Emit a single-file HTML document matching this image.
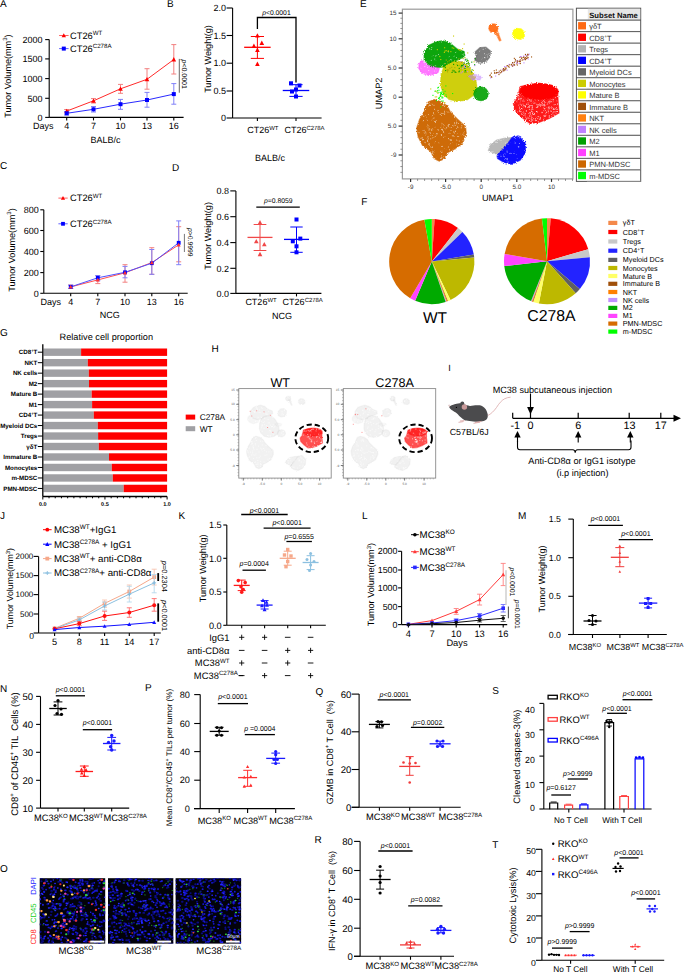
<!DOCTYPE html>
<html><head><meta charset="utf-8"><style>
html,body{margin:0;padding:0;background:#fff;}
svg{display:block;font-family:"Liberation Sans",sans-serif;}
text{white-space:pre;text-rendering:geometricPrecision;}
</style></head><body>
<svg width="685" height="973" viewBox="0 0 685 973">
<rect width="685" height="973" fill="#fff"/>
<text x="0.00" y="7.18" font-size="10">A</text>
<line x1="49.20" y1="39.60" x2="49.20" y2="117.40" stroke="#000" stroke-width="1.1" />
<line x1="45.20" y1="39.60" x2="49.20" y2="39.60" stroke="#000" stroke-width="1.1" />
<text x="42.50" y="42.82" font-size="9" text-anchor="end">2000</text>
<line x1="45.20" y1="58.90" x2="49.20" y2="58.90" stroke="#000" stroke-width="1.1" />
<text x="42.50" y="62.12" font-size="9" text-anchor="end">1500</text>
<line x1="45.20" y1="78.60" x2="49.20" y2="78.60" stroke="#000" stroke-width="1.1" />
<text x="42.50" y="81.82" font-size="9" text-anchor="end">1000</text>
<line x1="45.20" y1="98.30" x2="49.20" y2="98.30" stroke="#000" stroke-width="1.1" />
<text x="42.50" y="101.52" font-size="9" text-anchor="end">500</text>
<line x1="45.20" y1="117.40" x2="49.20" y2="117.40" stroke="#000" stroke-width="1.1" />
<text x="42.50" y="120.62" font-size="9" text-anchor="end">0</text>
<line x1="49.20" y1="117.40" x2="183.60" y2="117.40" stroke="#000" stroke-width="1.1" />
<line x1="66.70" y1="117.40" x2="66.70" y2="120.40" stroke="#000" stroke-width="1.1" />
<text x="66.70" y="129.02" font-size="9" text-anchor="middle">4</text>
<line x1="93.50" y1="117.40" x2="93.50" y2="120.40" stroke="#000" stroke-width="1.1" />
<text x="93.50" y="129.02" font-size="9" text-anchor="middle">7</text>
<line x1="120.50" y1="117.40" x2="120.50" y2="120.40" stroke="#000" stroke-width="1.1" />
<text x="120.50" y="129.02" font-size="9" text-anchor="middle">10</text>
<line x1="147.00" y1="117.40" x2="147.00" y2="120.40" stroke="#000" stroke-width="1.1" />
<text x="147.00" y="129.02" font-size="9" text-anchor="middle">13</text>
<line x1="173.80" y1="117.40" x2="173.80" y2="120.40" stroke="#000" stroke-width="1.1" />
<text x="173.80" y="129.02" font-size="9" text-anchor="middle">16</text>
<text x="43.30" y="128.82" font-size="9" text-anchor="middle">Days</text>
<text x="105.60" y="142.52" font-size="9" text-anchor="middle">BALB/c</text>
<text x="7.60" y="79.36" font-size="9.1" text-anchor="middle" transform="rotate(-90 7.60 76.10)">Tumor Volume(mm<tspan font-size="6.01" dy="-3.46">3</tspan><tspan dy="3.46">&#8203;</tspan>)</text>
<line x1="66.70" y1="109.50" x2="66.70" y2="113.00" stroke="#f28080" stroke-width="1" />
<line x1="64.20" y1="109.50" x2="69.20" y2="109.50" stroke="#f28080" stroke-width="1" />
<line x1="64.20" y1="113.00" x2="69.20" y2="113.00" stroke="#f28080" stroke-width="1" />
<line x1="93.50" y1="98.60" x2="93.50" y2="103.00" stroke="#f28080" stroke-width="1" />
<line x1="91.00" y1="98.60" x2="96.00" y2="98.60" stroke="#f28080" stroke-width="1" />
<line x1="91.00" y1="103.00" x2="96.00" y2="103.00" stroke="#f28080" stroke-width="1" />
<line x1="120.50" y1="84.40" x2="120.50" y2="93.30" stroke="#f28080" stroke-width="1" />
<line x1="118.00" y1="84.40" x2="123.00" y2="84.40" stroke="#f28080" stroke-width="1" />
<line x1="118.00" y1="93.30" x2="123.00" y2="93.30" stroke="#f28080" stroke-width="1" />
<line x1="147.00" y1="68.70" x2="147.00" y2="89.20" stroke="#f28080" stroke-width="1" />
<line x1="144.50" y1="68.70" x2="149.50" y2="68.70" stroke="#f28080" stroke-width="1" />
<line x1="144.50" y1="89.20" x2="149.50" y2="89.20" stroke="#f28080" stroke-width="1" />
<line x1="173.80" y1="44.60" x2="173.80" y2="74.00" stroke="#f28080" stroke-width="1" />
<line x1="171.30" y1="44.60" x2="176.30" y2="44.60" stroke="#f28080" stroke-width="1" />
<line x1="171.30" y1="74.00" x2="176.30" y2="74.00" stroke="#f28080" stroke-width="1" />
<line x1="66.70" y1="111.50" x2="66.70" y2="115.00" stroke="#8080f8" stroke-width="1" />
<line x1="64.20" y1="111.50" x2="69.20" y2="111.50" stroke="#8080f8" stroke-width="1" />
<line x1="64.20" y1="115.00" x2="69.20" y2="115.00" stroke="#8080f8" stroke-width="1" />
<line x1="93.50" y1="106.50" x2="93.50" y2="112.00" stroke="#8080f8" stroke-width="1" />
<line x1="91.00" y1="106.50" x2="96.00" y2="106.50" stroke="#8080f8" stroke-width="1" />
<line x1="91.00" y1="112.00" x2="96.00" y2="112.00" stroke="#8080f8" stroke-width="1" />
<line x1="120.50" y1="99.40" x2="120.50" y2="109.30" stroke="#8080f8" stroke-width="1" />
<line x1="118.00" y1="99.40" x2="123.00" y2="99.40" stroke="#8080f8" stroke-width="1" />
<line x1="118.00" y1="109.30" x2="123.00" y2="109.30" stroke="#8080f8" stroke-width="1" />
<line x1="147.00" y1="92.40" x2="147.00" y2="107.20" stroke="#8080f8" stroke-width="1" />
<line x1="144.50" y1="92.40" x2="149.50" y2="92.40" stroke="#8080f8" stroke-width="1" />
<line x1="144.50" y1="107.20" x2="149.50" y2="107.20" stroke="#8080f8" stroke-width="1" />
<line x1="173.80" y1="83.60" x2="173.80" y2="104.20" stroke="#8080f8" stroke-width="1" />
<line x1="171.30" y1="83.60" x2="176.30" y2="83.60" stroke="#8080f8" stroke-width="1" />
<line x1="171.30" y1="104.20" x2="176.30" y2="104.20" stroke="#8080f8" stroke-width="1" />
<polyline points="66.70,111.10 93.50,100.80 120.50,88.80 147.00,79.30 173.80,59.50" stroke="#ff2a2a" stroke-width="1" fill="none" />
<polyline points="66.70,113.30 93.50,109.30 120.50,104.20 147.00,100.00 173.80,94.10" stroke="#2a2aff" stroke-width="1" fill="none" />
<polygon points="66.70,108.68 69.01,113.03 64.39,113.03" fill="#ff0000"/>
<polygon points="93.50,98.38 95.81,102.73 91.19,102.73" fill="#ff0000"/>
<polygon points="120.50,86.38 122.81,90.73 118.19,90.73" fill="#ff0000"/>
<polygon points="147.00,76.88 149.31,81.23 144.69,81.23" fill="#ff0000"/>
<polygon points="173.80,57.09 176.11,61.43 171.49,61.43" fill="#ff0000"/>
<rect x="64.70" y="111.30" width="4.00" height="4.00" fill="#0000ff"/>
<rect x="91.50" y="107.30" width="4.00" height="4.00" fill="#0000ff"/>
<rect x="118.50" y="102.20" width="4.00" height="4.00" fill="#0000ff"/>
<rect x="145.00" y="98.00" width="4.00" height="4.00" fill="#0000ff"/>
<rect x="171.80" y="92.10" width="4.00" height="4.00" fill="#0000ff"/>
<line x1="179.30" y1="58.90" x2="179.30" y2="92.70" stroke="#555" stroke-width="0.9" />
<text x="184.70" y="76.71" font-size="7.0" text-anchor="middle" transform="rotate(90 184.70 74.20)"><tspan font-style="italic">p</tspan>&lt;0.0001</text>
<line x1="59.10" y1="35.50" x2="68.60" y2="35.50" stroke="#ff6060" stroke-width="1" />
<polygon points="63.80,33.20 66.00,37.34 61.60,37.34" fill="#ff0000"/>
<text x="70.00" y="38.83" font-size="9.3">CT26<tspan font-size="6.14" dy="-3.53">WT</tspan><tspan dy="3.53">&#8203;</tspan></text>
<line x1="59.10" y1="48.60" x2="68.60" y2="48.60" stroke="#6060ff" stroke-width="1" />
<rect x="61.80" y="46.60" width="4.00" height="4.00" fill="#0000ff"/>
<text x="70.00" y="51.93" font-size="9.3">CT26<tspan font-size="6.14" dy="-3.53">C278A</tspan><tspan dy="3.53">&#8203;</tspan></text>
<text x="167.00" y="7.18" font-size="10">B</text>
<line x1="232.60" y1="8.00" x2="232.60" y2="118.00" stroke="#000" stroke-width="1.1" />
<line x1="226.60" y1="8.00" x2="232.60" y2="8.00" stroke="#000" stroke-width="1.1" />
<text x="225.90" y="11.22" font-size="9" text-anchor="end">2.0</text>
<line x1="226.60" y1="35.50" x2="232.60" y2="35.50" stroke="#000" stroke-width="1.1" />
<text x="225.90" y="38.72" font-size="9" text-anchor="end">1.5</text>
<line x1="226.60" y1="63.20" x2="232.60" y2="63.20" stroke="#000" stroke-width="1.1" />
<text x="225.90" y="66.42" font-size="9" text-anchor="end">1.0</text>
<line x1="226.60" y1="91.00" x2="232.60" y2="91.00" stroke="#000" stroke-width="1.1" />
<text x="225.90" y="94.22" font-size="9" text-anchor="end">0.5</text>
<line x1="226.60" y1="118.00" x2="232.60" y2="118.00" stroke="#000" stroke-width="1.1" />
<text x="225.90" y="121.22" font-size="9" text-anchor="end">0</text>
<line x1="232.60" y1="118.00" x2="321.60" y2="118.00" stroke="#000" stroke-width="1.1" />
<line x1="257.40" y1="118.00" x2="257.40" y2="121.00" stroke="#000" stroke-width="1.1" />
<line x1="296.00" y1="118.00" x2="296.00" y2="121.00" stroke="#000" stroke-width="1.1" />
<text x="262.80" y="133.22" font-size="9" text-anchor="middle">CT26<tspan font-size="5.94" dy="-3.42">WT</tspan><tspan dy="3.42">&#8203;</tspan></text>
<text x="304.50" y="133.22" font-size="9" text-anchor="middle">CT26<tspan font-size="5.94" dy="-3.42">C278A</tspan><tspan dy="3.42">&#8203;</tspan></text>
<text x="207.50" y="62.26" font-size="9.1" text-anchor="middle" transform="rotate(-90 207.50 59.00)">Tumor Weight(g)</text>
<line x1="244.15" y1="47.30" x2="270.65" y2="47.30" stroke="#ff0000" stroke-width="1.3" />
<line x1="257.40" y1="36.50" x2="257.40" y2="58.40" stroke="#ff0000" stroke-width="1.0" />
<line x1="250.80" y1="36.50" x2="264.00" y2="36.50" stroke="#ff0000" stroke-width="1.0" />
<line x1="250.80" y1="58.40" x2="264.00" y2="58.40" stroke="#ff0000" stroke-width="1.0" />
<polygon points="257.40,33.19 259.71,37.53 255.09,37.53" fill="#ff0000"/>
<polygon points="253.90,43.59 256.21,47.93 251.59,47.93" fill="#ff0000"/>
<polygon points="261.80,40.59 264.11,44.93 259.49,44.93" fill="#ff0000"/>
<polygon points="257.40,47.59 259.71,51.93 255.09,51.93" fill="#ff0000"/>
<polygon points="257.40,61.59 259.71,65.93 255.09,65.93" fill="#ff0000"/>
<line x1="282.75" y1="90.50" x2="309.25" y2="90.50" stroke="#0000ff" stroke-width="1.3" />
<line x1="296.00" y1="84.70" x2="296.00" y2="96.40" stroke="#0000ff" stroke-width="1.0" />
<line x1="289.40" y1="84.70" x2="302.60" y2="84.70" stroke="#0000ff" stroke-width="1.0" />
<line x1="289.40" y1="96.40" x2="302.60" y2="96.40" stroke="#0000ff" stroke-width="1.0" />
<rect x="289.00" y="81.30" width="4.00" height="4.00" fill="#0000ff"/>
<rect x="297.50" y="83.50" width="4.00" height="4.00" fill="#0000ff"/>
<rect x="294.00" y="87.50" width="4.00" height="4.00" fill="#0000ff"/>
<rect x="294.00" y="94.50" width="4.00" height="4.00" fill="#0000ff"/>
<rect x="290.00" y="89.50" width="4.00" height="4.00" fill="#0000ff"/>
<polyline points="257.40,29.00 257.40,17.50 296.00,17.50 296.00,82.60" stroke="#000" stroke-width="1.3" fill="none" />
<text x="276.40" y="15.43" font-size="6.8" text-anchor="middle"><tspan font-style="italic">p</tspan>&lt;0.0001</text>
<text x="0.00" y="169.38" font-size="10">C</text>
<line x1="43.80" y1="209.80" x2="43.80" y2="293.30" stroke="#000" stroke-width="1.1" />
<line x1="40.30" y1="209.80" x2="43.80" y2="209.80" stroke="#000" stroke-width="1.1" />
<text x="38.70" y="213.02" font-size="9" text-anchor="end">800</text>
<line x1="40.30" y1="230.50" x2="43.80" y2="230.50" stroke="#000" stroke-width="1.1" />
<text x="38.70" y="233.72" font-size="9" text-anchor="end">600</text>
<line x1="40.30" y1="251.50" x2="43.80" y2="251.50" stroke="#000" stroke-width="1.1" />
<text x="38.70" y="254.72" font-size="9" text-anchor="end">400</text>
<line x1="40.30" y1="272.60" x2="43.80" y2="272.60" stroke="#000" stroke-width="1.1" />
<text x="38.70" y="275.82" font-size="9" text-anchor="end">200</text>
<line x1="40.30" y1="293.30" x2="43.80" y2="293.30" stroke="#000" stroke-width="1.1" />
<text x="38.70" y="296.52" font-size="9" text-anchor="end">0</text>
<line x1="43.80" y1="293.30" x2="187.70" y2="293.30" stroke="#000" stroke-width="1.1" />
<line x1="70.70" y1="293.30" x2="70.70" y2="296.30" stroke="#000" stroke-width="1.1" />
<text x="70.70" y="304.52" font-size="9" text-anchor="middle">4</text>
<line x1="97.80" y1="293.30" x2="97.80" y2="296.30" stroke="#000" stroke-width="1.1" />
<text x="97.80" y="304.52" font-size="9" text-anchor="middle">7</text>
<line x1="125.00" y1="293.30" x2="125.00" y2="296.30" stroke="#000" stroke-width="1.1" />
<text x="125.00" y="304.52" font-size="9" text-anchor="middle">10</text>
<line x1="151.80" y1="293.30" x2="151.80" y2="296.30" stroke="#000" stroke-width="1.1" />
<text x="151.80" y="304.52" font-size="9" text-anchor="middle">13</text>
<line x1="178.70" y1="293.30" x2="178.70" y2="296.30" stroke="#000" stroke-width="1.1" />
<text x="178.70" y="304.52" font-size="9" text-anchor="middle">16</text>
<text x="50.80" y="304.52" font-size="9" text-anchor="middle">Days</text>
<text x="109.80" y="318.12" font-size="9" text-anchor="middle">NCG</text>
<text x="11.70" y="253.26" font-size="9.1" text-anchor="middle" transform="rotate(-90 11.70 250.00)">Tumor Volume(mm<tspan font-size="6.01" dy="-3.46">3</tspan><tspan dy="3.46">&#8203;</tspan>)</text>
<line x1="70.70" y1="285.00" x2="70.70" y2="288.50" stroke="#f28080" stroke-width="1" />
<line x1="68.20" y1="285.00" x2="73.20" y2="285.00" stroke="#f28080" stroke-width="1" />
<line x1="68.20" y1="288.50" x2="73.20" y2="288.50" stroke="#f28080" stroke-width="1" />
<line x1="97.80" y1="275.80" x2="97.80" y2="283.60" stroke="#f28080" stroke-width="1" />
<line x1="95.30" y1="275.80" x2="100.30" y2="275.80" stroke="#f28080" stroke-width="1" />
<line x1="95.30" y1="283.60" x2="100.30" y2="283.60" stroke="#f28080" stroke-width="1" />
<line x1="125.00" y1="264.70" x2="125.00" y2="282.20" stroke="#f28080" stroke-width="1" />
<line x1="122.50" y1="264.70" x2="127.50" y2="264.70" stroke="#f28080" stroke-width="1" />
<line x1="122.50" y1="282.20" x2="127.50" y2="282.20" stroke="#f28080" stroke-width="1" />
<line x1="151.80" y1="247.70" x2="151.80" y2="274.30" stroke="#f28080" stroke-width="1" />
<line x1="149.30" y1="247.70" x2="154.30" y2="247.70" stroke="#f28080" stroke-width="1" />
<line x1="149.30" y1="274.30" x2="154.30" y2="274.30" stroke="#f28080" stroke-width="1" />
<line x1="178.70" y1="226.70" x2="178.70" y2="261.80" stroke="#f28080" stroke-width="1" />
<line x1="176.20" y1="226.70" x2="181.20" y2="226.70" stroke="#f28080" stroke-width="1" />
<line x1="176.20" y1="261.80" x2="181.20" y2="261.80" stroke="#f28080" stroke-width="1" />
<line x1="70.70" y1="285.00" x2="70.70" y2="288.50" stroke="#8080f8" stroke-width="1" />
<line x1="68.20" y1="285.00" x2="73.20" y2="285.00" stroke="#8080f8" stroke-width="1" />
<line x1="68.20" y1="288.50" x2="73.20" y2="288.50" stroke="#8080f8" stroke-width="1" />
<line x1="97.80" y1="275.50" x2="97.80" y2="280.70" stroke="#8080f8" stroke-width="1" />
<line x1="95.30" y1="275.50" x2="100.30" y2="275.50" stroke="#8080f8" stroke-width="1" />
<line x1="95.30" y1="280.70" x2="100.30" y2="280.70" stroke="#8080f8" stroke-width="1" />
<line x1="125.00" y1="266.40" x2="125.00" y2="277.80" stroke="#8080f8" stroke-width="1" />
<line x1="122.50" y1="266.40" x2="127.50" y2="266.40" stroke="#8080f8" stroke-width="1" />
<line x1="122.50" y1="277.80" x2="127.50" y2="277.80" stroke="#8080f8" stroke-width="1" />
<line x1="151.80" y1="249.50" x2="151.80" y2="274.30" stroke="#8080f8" stroke-width="1" />
<line x1="149.30" y1="249.50" x2="154.30" y2="249.50" stroke="#8080f8" stroke-width="1" />
<line x1="149.30" y1="274.30" x2="154.30" y2="274.30" stroke="#8080f8" stroke-width="1" />
<line x1="178.70" y1="220.90" x2="178.70" y2="264.70" stroke="#8080f8" stroke-width="1" />
<line x1="176.20" y1="220.90" x2="181.20" y2="220.90" stroke="#8080f8" stroke-width="1" />
<line x1="176.20" y1="264.70" x2="181.20" y2="264.70" stroke="#8080f8" stroke-width="1" />
<polyline points="70.70,286.90 97.80,279.90 125.00,272.80 151.80,262.60 178.70,244.80" stroke="#ff5050" stroke-width="1" fill="none" />
<polyline points="70.70,286.90 97.80,277.80 125.00,272.30 151.80,263.20 178.70,242.80" stroke="#5050ff" stroke-width="1" fill="none" />
<rect x="68.80" y="285.00" width="3.80" height="3.80" fill="#0000ff"/>
<rect x="95.90" y="275.90" width="3.80" height="3.80" fill="#0000ff"/>
<rect x="123.10" y="270.40" width="3.80" height="3.80" fill="#0000ff"/>
<rect x="149.90" y="261.30" width="3.80" height="3.80" fill="#0000ff"/>
<rect x="176.80" y="240.90" width="3.80" height="3.80" fill="#0000ff"/>
<polygon points="70.70,284.83 72.68,288.56 68.72,288.56" fill="#ff3030"/>
<polygon points="97.80,277.83 99.78,281.56 95.82,281.56" fill="#ff3030"/>
<polygon points="125.00,270.73 126.98,274.46 123.02,274.46" fill="#ff3030"/>
<polygon points="151.80,260.53 153.78,264.26 149.82,264.26" fill="#ff3030"/>
<polygon points="178.70,242.73 180.68,246.46 176.72,246.46" fill="#ff3030"/>
<line x1="184.40" y1="233.90" x2="184.40" y2="252.00" stroke="#777" stroke-width="1" />
<text x="190.20" y="244.73" font-size="6.8" text-anchor="middle" transform="rotate(90 190.20 242.30)"><tspan font-style="italic">p</tspan>&gt;0.9999</text>
<line x1="58.40" y1="198.10" x2="67.70" y2="198.10" stroke="#ff6060" stroke-width="1" />
<polygon points="63.00,195.91 65.09,199.85 60.91,199.85" fill="#ff0000"/>
<text x="70.00" y="201.43" font-size="9.3">CT26<tspan font-size="6.14" dy="-3.53">WT</tspan><tspan dy="3.53">&#8203;</tspan></text>
<line x1="58.40" y1="223.80" x2="67.70" y2="223.80" stroke="#6060ff" stroke-width="1" />
<rect x="61.10" y="221.90" width="3.80" height="3.80" fill="#0000ff"/>
<text x="70.00" y="227.13" font-size="9.3">CT26<tspan font-size="6.14" dy="-3.53">C278A</tspan><tspan dy="3.53">&#8203;</tspan></text>
<text x="172.00" y="171.48" font-size="10">D</text>
<text x="269.90" y="161.42" font-size="9" text-anchor="middle">BALB/c</text>
<line x1="235.90" y1="190.90" x2="235.90" y2="293.40" stroke="#000" stroke-width="1.1" />
<line x1="230.30" y1="190.90" x2="235.90" y2="190.90" stroke="#000" stroke-width="1.1" />
<text x="229.10" y="194.12" font-size="9" text-anchor="end">0.8</text>
<line x1="230.30" y1="216.70" x2="235.90" y2="216.70" stroke="#000" stroke-width="1.1" />
<text x="229.10" y="219.92" font-size="9" text-anchor="end">0.6</text>
<line x1="230.30" y1="242.60" x2="235.90" y2="242.60" stroke="#000" stroke-width="1.1" />
<text x="229.10" y="245.82" font-size="9" text-anchor="end">0.4</text>
<line x1="230.30" y1="268.30" x2="235.90" y2="268.30" stroke="#000" stroke-width="1.1" />
<text x="229.10" y="271.52" font-size="9" text-anchor="end">0.2</text>
<line x1="230.30" y1="293.40" x2="235.90" y2="293.40" stroke="#000" stroke-width="1.1" />
<text x="229.10" y="296.62" font-size="9" text-anchor="end">0.0</text>
<line x1="235.90" y1="293.40" x2="321.40" y2="293.40" stroke="#000" stroke-width="1.1" />
<line x1="260.00" y1="293.40" x2="260.00" y2="296.40" stroke="#000" stroke-width="1.1" />
<line x1="296.50" y1="293.40" x2="296.50" y2="296.40" stroke="#000" stroke-width="1.1" />
<text x="261.00" y="305.12" font-size="9" text-anchor="middle">CT26<tspan font-size="5.94" dy="-3.42">WT</tspan><tspan dy="3.42">&#8203;</tspan></text>
<text x="302.70" y="305.12" font-size="9" text-anchor="middle">CT26<tspan font-size="5.94" dy="-3.42">C278A</tspan><tspan dy="3.42">&#8203;</tspan></text>
<text x="282.10" y="319.02" font-size="9" text-anchor="middle">NCG</text>
<text x="208.00" y="239.16" font-size="9.1" text-anchor="middle" transform="rotate(-90 208.00 235.90)">Tumor Weight(g)</text>
<line x1="247.50" y1="237.40" x2="272.50" y2="237.40" stroke="#f04848" stroke-width="1.3" />
<line x1="260.00" y1="224.50" x2="260.00" y2="250.50" stroke="#f04848" stroke-width="1.0" />
<line x1="253.65" y1="224.50" x2="266.35" y2="224.50" stroke="#f04848" stroke-width="1.0" />
<line x1="253.65" y1="250.50" x2="266.35" y2="250.50" stroke="#f04848" stroke-width="1.0" />
<polygon points="260.00,220.09 262.31,224.43 257.69,224.43" fill="#f04848"/>
<polygon points="256.30,238.89 258.61,243.23 253.99,243.23" fill="#f04848"/>
<polygon points="264.30,241.89 266.61,246.23 261.99,246.23" fill="#f04848"/>
<polygon points="260.00,251.78 262.31,256.13 257.69,256.13" fill="#f04848"/>
<line x1="284.00" y1="239.40" x2="309.00" y2="239.40" stroke="#0000ff" stroke-width="1.3" />
<line x1="296.50" y1="227.00" x2="296.50" y2="252.30" stroke="#0000ff" stroke-width="1.0" />
<line x1="290.30" y1="227.00" x2="302.70" y2="227.00" stroke="#0000ff" stroke-width="1.0" />
<line x1="290.30" y1="252.30" x2="302.70" y2="252.30" stroke="#0000ff" stroke-width="1.0" />
<rect x="294.50" y="217.50" width="4.00" height="4.00" fill="#0000ff"/>
<rect x="290.80" y="239.30" width="4.00" height="4.00" fill="#0000ff"/>
<rect x="298.30" y="236.60" width="4.00" height="4.00" fill="#0000ff"/>
<rect x="294.50" y="244.30" width="4.00" height="4.00" fill="#0000ff"/>
<rect x="294.50" y="250.30" width="4.00" height="4.00" fill="#0000ff"/>
<line x1="256.30" y1="207.10" x2="299.80" y2="207.10" stroke="#000" stroke-width="1.3" />
<text x="278.30" y="203.33" font-size="6.8" text-anchor="middle"><tspan font-style="italic">p</tspan>=0.8059</text>
<text x="360.00" y="7.18" font-size="10">E</text>
<rect x="402.40" y="9.20" width="170.50" height="169.70" fill="#fff" stroke="#9a9a9a" stroke-width="1.2" />
<defs><filter id="rough" x="-15%" y="-15%" width="130%" height="130%"><feTurbulence type="fractalNoise" baseFrequency="0.9" numOctaves="2" seed="4" result="n"/><feDisplacementMap in="SourceGraphic" in2="n" scale="3.2" xChannelSelector="R" yChannelSelector="G"/></filter><filter id="roughH" x="-15%" y="-15%" width="130%" height="130%"><feTurbulence type="fractalNoise" baseFrequency="1.2" numOctaves="2" seed="6" result="n"/><feDisplacementMap in="SourceGraphic" in2="n" scale="2.0" xChannelSelector="R" yChannelSelector="G"/></filter></defs>
<g filter="url(#rough)">
<path d="M428.4,101.7 L434.2,99.5 L441.5,101.7 L447.3,106.1 L450.3,111.9 L457.6,119.2 L465.6,126.5 L466.3,133.8 L461.9,144.0 L453.2,149.9 L447.3,152.8 L444.4,158.6 L439.3,161.2 L434.2,158.6 L430.5,151.3 L422.5,145.5 L418.1,136.7 L416.7,128.0 L419.6,119.2 L424.0,111.9 L426.9,104.6Z" fill="#cc6600" fill-opacity="0.97" stroke="#cc6600" stroke-opacity="0.58" stroke-width="1.2" stroke-linejoin="round"/>
<path d="M441.1 127.4h0M448.4 147.0h0M457.1 126.4h0M438.7 143.1h0M419.0 132.7h0M428.0 125.8h0M438.4 130.0h0M428.7 114.7h0M428.1 127.9h0M431.4 102.6h0M457.2 133.6h0M448.0 112.1h0M423.5 120.6h0M451.7 142.5h0M461.8 125.8h0M456.8 140.1h0M432.1 135.4h0M441.5 135.4h0M455.3 125.3h0M425.9 133.1h0M450.9 140.4h0M435.4 126.7h0M441.7 146.4h0M442.3 124.1h0M440.8 103.0h0M464.0 135.7h0M436.3 111.2h0M441.4 158.2h0M454.0 132.6h0M441.9 156.5h0M445.0 127.9h0M430.4 133.1h0M459.5 144.2h0M455.8 131.4h0M444.2 126.0h0M444.6 112.9h0M441.5 129.4h0M434.6 121.4h0M443.1 137.4h0M446.6 127.9h0M426.1 135.2h0M422.9 137.5h0M434.0 105.3h0M425.3 131.9h0M425.7 117.1h0M451.3 127.7h0M432.9 128.8h0M437.6 112.2h0M441.8 113.4h0M446.3 148.6h0M424.7 143.0h0M425.3 142.1h0M449.7 132.9h0M455.3 131.2h0M428.3 138.9h0M436.4 134.7h0M432.9 137.9h0M432.2 151.0h0M452.8 125.4h0M444.6 111.3h0M450.9 130.8h0M435.6 121.4h0M427.5 140.4h0M438.1 112.6h0M422.7 139.9h0M431.7 130.3h0M433.1 151.8h0M427.2 120.3h0M433.7 113.7h0M449.5 149.8h0M459.3 141.1h0M440.6 158.4h0M428.8 143.3h0M453.5 136.1h0M457.3 122.6h0M433.8 118.2h0M458.6 136.3h0M424.1 133.2h0M433.8 137.0h0M454.6 123.2h0M444.6 114.3h0M459.7 134.0h0M461.3 127.8h0M430.8 146.9h0M429.1 144.4h0M435.6 157.5h0M429.7 128.9h0M422.5 139.1h0M445.8 127.4h0M432.5 105.0h0M427.9 137.1h0M463.9 132.8h0M450.2 139.7h0M430.0 132.7h0M432.2 115.6h0M464.0 127.3h0M448.5 138.6h0M432.2 120.3h0M432.7 150.4h0M433.5 132.8h0M445.0 135.8h0M429.2 105.5h0M443.7 105.4h0M421.3 138.1h0M431.5 147.2h0M441.0 151.3h0M425.0 130.4h0M456.4 119.8h0M422.8 131.1h0M432.6 153.6h0M457.3 144.5h0M438.1 110.5h0M451.4 140.0h0M429.7 105.0h0M443.6 132.7h0M457.8 127.6h0M436.4 120.9h0M429.9 102.7h0M448.2 125.5h0M434.5 109.3h0M423.7 116.3h0M456.8 124.4h0M436.6 136.8h0M442.7 130.3h0M448.3 126.7h0M450.1 143.7h0M429.0 130.0h0M440.3 114.4h0M437.2 133.8h0M430.7 138.8h0M441.9 152.1h0M425.3 145.7h0M435.3 141.9h0M452.4 135.8h0M462.9 134.4h0" stroke="#fff" stroke-opacity="0.75" stroke-width="0.8" stroke-linecap="square"/>
<path d="M441.0,75.0 L444.0,66.0 L449.0,62.0 L456.0,60.5 L463.0,62.0 L468.0,66.0 L472.0,72.0 L476.0,80.0 L477.0,88.0 L474.0,95.0 L467.0,100.0 L458.0,101.5 L449.0,99.5 L443.0,93.0 L440.5,85.0Z" fill="#cccc00" fill-opacity="0.95" stroke="#cccc00" stroke-opacity="0.57" stroke-width="1.2" stroke-linejoin="round"/>
<path d="M424.1,52.3 L429.2,45.0 L435.8,42.1 L442.3,40.7 L449.6,42.8 L456.9,48.7 L464.2,51.6 L465.0,56.7 L458.4,59.6 L449.6,62.6 L443.8,66.9 L436.5,67.7 L429.2,65.5 L424.1,59.6Z" fill="#00a000" fill-opacity="0.95" stroke="#00a000" stroke-opacity="0.57" stroke-width="1.2" stroke-linejoin="round"/>
<path d="M431.7 47.6h0M433.4 56.1h0M451.6 60.0h0M438.5 54.6h0M431.3 60.4h0M456.5 57.7h0M435.3 65.2h0M450.7 59.6h0M442.3 65.6h0M456.3 52.4h0M431.3 49.6h0M448.4 51.8h0M429.5 48.8h0M434.6 60.9h0M442.0 41.4h0M449.4 57.0h0M436.0 55.4h0M435.6 56.5h0M434.7 59.1h0M463.0 55.4h0M444.1 63.7h0M455.0 56.1h0" stroke="#fff" stroke-opacity="0.75" stroke-width="0.8" stroke-linecap="square"/>
<path d="M419.0,64.0 L421.9,60.4 L429.2,65.5 L439.4,68.4 L438.0,72.8 L429.2,75.7 L421.9,72.8 L418.7,68.4Z" fill="#ff40ff" fill-opacity="0.70" stroke="#ff40ff" stroke-opacity="0.42" stroke-width="1.2" stroke-linejoin="round"/>
<path d="M426.4 64.6h0M421.2 68.1h0M428.9 65.8h0M427.6 67.3h0M424.8 66.5h0M434.8 71.1h0M428.7 70.5h0M430.9 74.3h0M435.8 68.3h0M424.8 62.8h0" stroke="#fff" stroke-opacity="0.75" stroke-width="0.8" stroke-linecap="square"/>
<path d="M468.6,76.0 L474.0,74.2 L481.8,76.5 L480.0,80.0 L472.0,80.0Z" fill="#c080ff" fill-opacity="0.50" stroke="#c080ff" stroke-opacity="0.30" stroke-width="1.2" stroke-linejoin="round"/>
<path d="M476.9 77.4h0M473.6 76.6h0M473.9 79.9h0M476.4 78.9h0" stroke="#fff" stroke-opacity="0.75" stroke-width="0.8" stroke-linecap="square"/>
<path d="M475.0,52.0 L480.0,47.5 L486.0,47.2 L490.5,51.0 L490.0,57.0 L486.0,62.0 L480.0,63.3 L474.5,60.0 L476.0,56.0Z" fill="#666666" fill-opacity="0.85" stroke="#666666" stroke-opacity="0.51" stroke-width="1.2" stroke-linejoin="round"/>
<path d="M482.3 59.4h0M484.8 57.7h0M484.6 53.7h0M484.6 57.5h0M487.7 57.0h0M479.9 51.3h0M485.9 61.6h0M483.2 49.4h0M488.0 55.0h0" stroke="#fff" stroke-opacity="0.75" stroke-width="0.8" stroke-linecap="square"/>
<path d="M488.3,93.9 L487.7,96.5 L486.2,98.7 L483.8,100.2 L481.0,100.7 L478.2,100.2 L475.8,98.7 L474.3,96.5 L473.7,93.9 L474.3,91.3 L475.8,89.1 L478.2,87.6 L481.0,87.1 L483.8,87.6 L486.2,89.1 L487.7,91.3Z" fill="#00a000" fill-opacity="0.90" stroke="#00a000" stroke-opacity="0.54" stroke-width="1.2" stroke-linejoin="round"/>
<path d="M498.0,28.2 L497.5,30.1 L496.3,31.6 L494.4,32.5 L492.4,32.5 L490.5,31.6 L489.3,30.1 L488.8,28.2 L489.3,26.3 L490.5,24.8 L492.4,23.9 L494.4,23.9 L496.3,24.8 L497.5,26.3Z" fill="#ff6a13" fill-opacity="0.95" stroke="#ff6a13" stroke-opacity="0.57" stroke-width="1.2" stroke-linejoin="round"/>
<path d="M494.0,30.0 L497.5,31.0 L501.0,40.5 L499.5,41.0Z" fill="#ff6a13" fill-opacity="0.80" stroke="#ff6a13" stroke-opacity="0.48" stroke-width="1.2" stroke-linejoin="round"/>
<path d="M513.0,31.0 L516.0,28.3 L521.0,28.8 L524.0,31.5 L524.5,36.5 L521.0,39.4 L515.0,38.5 L512.4,35.0Z" fill="#ffff00" fill-opacity="0.95" stroke="#ffff00" stroke-opacity="0.57" stroke-width="1.2" stroke-linejoin="round"/>
<path d="M520.2,86.6 L517.4,97.7 L513.3,103.3 L514.7,110.2 L521.6,117.2 L529.9,123.4 L538.3,122.7 L549.3,118.5 L559.1,113.0 L558.4,104.7 L557.7,92.2 L552.1,85.3 L539.6,83.2 L528.5,84.6Z" fill="#ff0000" fill-opacity="0.90" stroke="#ff0000" stroke-opacity="0.54" stroke-width="1.2" stroke-linejoin="round"/>
<path d="M534.7 85.7h0M536.6 112.7h0M532.8 97.7h0M543.0 84.7h0M536.5 120.5h0M544.5 99.5h0M544.4 107.3h0M523.5 92.0h0M553.0 94.4h0M537.2 98.2h0M536.7 112.4h0M521.7 109.2h0M545.5 115.4h0M526.1 107.5h0M524.5 105.6h0M521.9 114.5h0M552.1 96.7h0M545.2 116.5h0M541.5 96.2h0M533.2 113.4h0M548.6 91.3h0M541.6 90.4h0M556.8 101.1h0M554.2 112.1h0M540.8 94.1h0M537.3 89.3h0M520.4 111.6h0M530.1 113.0h0M524.8 111.7h0M545.7 95.8h0M519.0 99.3h0M535.8 87.8h0M540.4 118.3h0M545.0 115.4h0M556.4 107.6h0M529.3 116.3h0M519.5 110.7h0M518.5 99.4h0M535.9 98.6h0M521.7 92.9h0M550.1 101.8h0M539.6 92.2h0M545.5 96.7h0M540.2 119.1h0M549.1 117.1h0M528.3 98.8h0M539.7 119.4h0M531.8 117.9h0M547.4 89.9h0M520.7 109.6h0M520.0 101.8h0M526.3 88.5h0M542.2 112.7h0M544.3 116.6h0M543.3 99.0h0M542.3 93.4h0M540.1 97.5h0M540.7 105.6h0M537.1 86.3h0M529.7 99.9h0M532.8 109.5h0M545.5 112.7h0M545.8 113.0h0M549.8 102.1h0M530.5 122.0h0M516.1 104.5h0M533.7 88.9h0M531.6 111.3h0M537.2 87.5h0M549.3 87.3h0M546.3 96.1h0M549.5 117.0h0M527.6 100.4h0M525.0 105.5h0M528.7 97.0h0M539.8 88.0h0M542.8 101.3h0M557.4 111.7h0M550.8 111.0h0M537.7 118.6h0M550.6 95.2h0M521.2 98.3h0M537.1 87.7h0M529.4 106.2h0M542.7 96.1h0M527.4 97.6h0M528.5 112.9h0M536.2 104.3h0M528.5 96.6h0M535.3 119.2h0M520.2 104.2h0M548.5 111.1h0M546.9 97.9h0M555.4 108.8h0M531.9 101.9h0M557.1 104.5h0M521.7 89.7h0M544.3 105.7h0M553.9 91.1h0M532.3 112.1h0M538.1 94.2h0M541.9 104.3h0M551.4 108.8h0M551.3 111.4h0M526.7 118.4h0M540.4 117.4h0M553.3 100.4h0M543.8 105.0h0M546.0 115.4h0M523.1 112.8h0M547.9 103.8h0M535.6 99.6h0M552.8 114.7h0M539.8 85.5h0M551.5 101.7h0M522.6 95.5h0M519.6 95.7h0M553.0 112.8h0M556.7 104.9h0M539.3 105.3h0M537.3 104.9h0M532.2 108.3h0M527.8 95.6h0M536.4 106.6h0M538.3 121.7h0M521.5 108.5h0M557.7 112.4h0M539.0 98.2h0M531.9 120.1h0M553.4 109.8h0M551.3 98.8h0M534.6 114.7h0M530.6 112.9h0M535.3 97.0h0M534.2 88.5h0M529.8 100.0h0M525.7 117.1h0M540.1 95.1h0M536.8 112.5h0M544.5 100.7h0M548.2 102.7h0M545.6 102.9h0M556.7 111.6h0M556.5 92.8h0M535.3 120.7h0M531.8 111.9h0M550.7 87.4h0M538.3 104.6h0M529.5 120.5h0M538.5 100.2h0M543.6 88.6h0M525.9 94.7h0M535.3 114.6h0M551.8 114.3h0M543.9 87.3h0M531.3 109.8h0M527.2 103.6h0M551.6 88.1h0M531.2 118.9h0M523.1 104.1h0M532.5 118.2h0M535.8 118.5h0M538.1 92.3h0M547.5 97.0h0M557.5 109.3h0M526.0 104.8h0M533.5 113.3h0M551.1 92.8h0M526.3 111.2h0M532.3 89.0h0M522.9 105.6h0M537.6 107.5h0M520.8 99.9h0M526.5 110.8h0M526.0 92.3h0M530.4 102.1h0M529.1 107.4h0M544.6 104.6h0M544.4 108.9h0M528.1 103.0h0M528.7 88.9h0M520.5 93.9h0M518.2 104.8h0M545.0 105.7h0M544.2 92.7h0M523.0 105.9h0M552.9 100.3h0M527.7 107.7h0M529.2 107.2h0M537.0 84.9h0M528.7 89.4h0M525.3 113.7h0M544.1 85.6h0M517.7 112.0h0M518.8 96.2h0M531.8 120.0h0M542.2 93.3h0M544.0 94.5h0M536.8 96.4h0M555.7 97.6h0M549.4 108.7h0M551.1 107.4h0M552.3 99.6h0M544.0 107.9h0M537.4 105.8h0M537.7 99.2h0M553.5 108.4h0M538.3 86.1h0M536.5 90.7h0M523.7 100.8h0M538.2 93.6h0M526.2 104.4h0M535.0 99.5h0M518.9 98.4h0M542.9 105.0h0M538.1 116.5h0M545.9 110.4h0M544.1 90.0h0M552.7 92.3h0M529.0 118.3h0M531.0 100.9h0M519.5 107.2h0M526.1 109.7h0M549.2 107.3h0M554.5 108.8h0M530.9 105.7h0M552.9 101.7h0M548.3 107.1h0M532.8 120.0h0M532.2 107.4h0M516.7 102.1h0M536.5 97.7h0M554.0 109.2h0M549.3 115.6h0M525.0 115.2h0M524.8 105.7h0M529.9 90.1h0M528.0 117.9h0M529.4 109.4h0M516.8 100.8h0M530.8 95.3h0M549.9 101.0h0M544.8 108.5h0M537.0 86.1h0M543.7 118.4h0M521.9 108.8h0M535.6 97.1h0M531.1 116.2h0M522.0 111.6h0M518.7 96.9h0M556.6 109.3h0M548.6 101.8h0M534.9 103.0h0M548.1 111.9h0M522.8 101.0h0M538.0 106.0h0M520.9 98.5h0M547.8 109.7h0M549.1 95.1h0M542.0 112.4h0M554.2 104.7h0M553.9 109.5h0M529.3 93.2h0M539.9 103.8h0M533.0 114.6h0M555.2 111.9h0M544.9 110.6h0M542.9 104.7h0M525.2 114.1h0M519.5 108.8h0M531.2 105.6h0M542.3 102.5h0M528.0 94.7h0M532.5 106.9h0M557.4 111.3h0M528.2 104.6h0M533.9 103.3h0M532.6 90.5h0M531.6 99.0h0M523.1 115.5h0M530.0 89.8h0M539.1 116.6h0M548.4 108.0h0" stroke="#fff" stroke-opacity="0.75" stroke-width="0.8" stroke-linecap="square"/>
<path d="M558.3,91.5 L557.7,93.6 L555.8,95.5 L552.7,97.2 L548.8,98.4 L544.2,99.2 L539.3,99.5 L534.4,99.2 L529.8,98.4 L525.9,97.2 L522.8,95.5 L520.9,93.6 L520.3,91.5 L520.9,89.4 L522.8,87.5 L525.9,85.8 L529.8,84.6 L534.4,83.8 L539.3,83.5 L544.2,83.8 L548.8,84.6 L552.7,85.8 L555.8,87.5 L557.7,89.4Z" fill="#ff0000" fill-opacity="1.00" stroke="#ff0000" stroke-opacity="0.60" stroke-width="1.2" stroke-linejoin="round"/>
<path d="M488.3,150.4 L490.4,144.9 L496.6,140.0 L505.0,138.0 L512.0,137.5 L508.0,143.0 L503.0,149.0 L499.0,155.0 L493.9,153.2Z" fill="#b4b4b4" fill-opacity="0.95" stroke="#b4b4b4" stroke-opacity="0.57" stroke-width="1.2" stroke-linejoin="round"/>
<path d="M505.6 143.2h0M496.5 142.2h0M499.3 139.8h0M492.9 151.7h0M501.0 140.7h0M498.4 152.9h0M501.9 147.2h0M497.5 140.7h0" stroke="#fff" stroke-opacity="0.75" stroke-width="0.8" stroke-linecap="square"/>
<path d="M497.0,156.0 L503.0,149.0 L508.0,143.0 L512.0,137.5 L518.8,135.9 L525.8,143.5 L525.1,153.2 L520.2,160.2 L511.9,164.3 L503.6,162.2 L497.5,158.5Z" fill="#0000ff" fill-opacity="0.95" stroke="#0000ff" stroke-opacity="0.57" stroke-width="1.2" stroke-linejoin="round"/>
<path d="M514.9 138.4h0M519.5 137.8h0M518.4 146.9h0M516.5 152.8h0M508.0 144.2h0M507.3 159.7h0M503.6 156.1h0M507.1 151.2h0M505.4 158.9h0M514.0 153.4h0M518.6 143.4h0M506.2 158.9h0M515.2 143.1h0M503.1 150.4h0M517.3 159.1h0M508.1 162.0h0M501.0 156.3h0M518.8 146.8h0M510.9 153.4h0M504.8 154.1h0" stroke="#fff" stroke-opacity="0.75" stroke-width="0.8" stroke-linecap="square"/>
</g>
<rect x="519.5" y="59.7" width="1.1" height="1.1" fill="#c080ff"/>
<rect x="527.2" y="53.7" width="1.1" height="1.1" fill="#a0500a"/>
<rect x="496.4" y="71.9" width="1.1" height="1.1" fill="#a0500a"/>
<rect x="511.4" y="65.2" width="1.1" height="1.1" fill="#c080ff"/>
<rect x="516.7" y="61.4" width="1.1" height="1.1" fill="#a0500a"/>
<rect x="519.7" y="61.1" width="1.1" height="1.1" fill="#a0500a"/>
<rect x="525.7" y="55.1" width="1.1" height="1.1" fill="#a0500a"/>
<rect x="513.1" y="65.1" width="1.1" height="1.1" fill="#c080ff"/>
<rect x="527.5" y="54.7" width="1.1" height="1.1" fill="#c080ff"/>
<rect x="510.9" y="63.8" width="1.1" height="1.1" fill="#a0500a"/>
<rect x="525.0" y="57.1" width="1.1" height="1.1" fill="#a0500a"/>
<rect x="528.6" y="53.6" width="1.1" height="1.1" fill="#c080ff"/>
<rect x="523.1" y="56.3" width="1.1" height="1.1" fill="#a0500a"/>
<rect x="521.0" y="57.4" width="1.1" height="1.1" fill="#a0500a"/>
<rect x="523.4" y="56.8" width="1.1" height="1.1" fill="#a0500a"/>
<rect x="506.6" y="69.6" width="1.1" height="1.1" fill="#c080ff"/>
<rect x="505.7" y="66.1" width="1.1" height="1.1" fill="#c080ff"/>
<rect x="512.0" y="65.6" width="1.1" height="1.1" fill="#a0500a"/>
<rect x="496.4" y="72.2" width="1.1" height="1.1" fill="#c080ff"/>
<rect x="504.4" y="68.9" width="1.1" height="1.1" fill="#a0500a"/>
<rect x="512.1" y="62.6" width="1.1" height="1.1" fill="#c080ff"/>
<rect x="506.6" y="65.0" width="1.1" height="1.1" fill="#a0500a"/>
<rect x="498.2" y="72.2" width="1.1" height="1.1" fill="#c080ff"/>
<rect x="499.5" y="72.4" width="1.1" height="1.1" fill="#a0500a"/>
<rect x="526.0" y="58.0" width="1.1" height="1.1" fill="#a0500a"/>
<rect x="495.1" y="75.5" width="1.1" height="1.1" fill="#c080ff"/>
<rect x="505.4" y="68.3" width="1.1" height="1.1" fill="#a0500a"/>
<rect x="516.9" y="62.2" width="1.1" height="1.1" fill="#c080ff"/>
<rect x="504.5" y="69.4" width="1.1" height="1.1" fill="#a0500a"/>
<rect x="503.4" y="70.2" width="1.1" height="1.1" fill="#a0500a"/>
<rect x="518.6" y="63.0" width="1.1" height="1.1" fill="#c080ff"/>
<rect x="523.9" y="58.8" width="1.1" height="1.1" fill="#c080ff"/>
<rect x="525.0" y="58.8" width="1.1" height="1.1" fill="#a0500a"/>
<rect x="521.6" y="59.6" width="1.1" height="1.1" fill="#a0500a"/>
<rect x="526.8" y="57.5" width="1.1" height="1.1" fill="#a0500a"/>
<rect x="519.8" y="59.4" width="1.1" height="1.1" fill="#a0500a"/>
<rect x="498.4" y="74.0" width="1.1" height="1.1" fill="#a0500a"/>
<rect x="503.4" y="69.3" width="1.1" height="1.1" fill="#c080ff"/>
<rect x="508.7" y="66.6" width="1.1" height="1.1" fill="#a0500a"/>
<rect x="531.0" y="56.4" width="1.1" height="1.1" fill="#a0500a"/>
<rect x="502.4" y="68.9" width="1.1" height="1.1" fill="#c080ff"/>
<rect x="495.5" y="72.6" width="1.1" height="1.1" fill="#a0500a"/>
<rect x="500.4" y="72.0" width="1.1" height="1.1" fill="#a0500a"/>
<rect x="507.3" y="65.1" width="1.1" height="1.1" fill="#a0500a"/>
<rect x="516.8" y="64.5" width="1.1" height="1.1" fill="#a0500a"/>
<rect x="511.3" y="64.5" width="1.1" height="1.1" fill="#a0500a"/>
<rect x="513.8" y="57.8" width="1.1" height="1.1" fill="#a0500a"/>
<rect x="518.4" y="60.7" width="1.1" height="1.1" fill="#a0500a"/>
<rect x="520.1" y="56.0" width="1.1" height="1.1" fill="#c080ff"/>
<rect x="512.0" y="62.1" width="1.1" height="1.1" fill="#a0500a"/>
<rect x="514.8" y="58.9" width="1.1" height="1.1" fill="#a0500a"/>
<rect x="512.1" y="62.1" width="1.1" height="1.1" fill="#a0500a"/>
<rect x="514.9" y="60.4" width="1.1" height="1.1" fill="#a0500a"/>
<rect x="504.5" y="67.4" width="1.1" height="1.1" fill="#a0500a"/>
<rect x="524.9" y="58.8" width="1.1" height="1.1" fill="#a0500a"/>
<rect x="524.9" y="53.9" width="1.1" height="1.1" fill="#a0500a"/>
<rect x="508.5" y="63.8" width="1.1" height="1.1" fill="#c080ff"/>
<rect x="490.8" y="72.6" width="1.1" height="1.1" fill="#a0500a"/>
<rect x="490.1" y="77.3" width="1.1" height="1.1" fill="#c080ff"/>
<rect x="524.2" y="57.9" width="1.1" height="1.1" fill="#a0500a"/>
<rect x="527.1" y="54.4" width="1.1" height="1.1" fill="#a0500a"/>
<rect x="525.7" y="54.9" width="1.1" height="1.1" fill="#c080ff"/>
<rect x="519.8" y="63.0" width="1.1" height="1.1" fill="#a0500a"/>
<rect x="513.4" y="63.7" width="1.1" height="1.1" fill="#a0500a"/>
<rect x="509.2" y="64.3" width="1.1" height="1.1" fill="#a0500a"/>
<rect x="502.7" y="69.3" width="1.1" height="1.1" fill="#a0500a"/>
<rect x="516.3" y="63.3" width="1.1" height="1.1" fill="#a0500a"/>
<rect x="501.4" y="71.2" width="1.1" height="1.1" fill="#c080ff"/>
<rect x="489.8" y="74.4" width="1.1" height="1.1" fill="#a0500a"/>
<rect x="519.5" y="61.0" width="1.1" height="1.1" fill="#a0500a"/>
<rect x="522.6" y="57.0" width="1.1" height="1.1" fill="#a0500a"/>
<rect x="514.1" y="64.5" width="1.1" height="1.1" fill="#a0500a"/>
<rect x="490.8" y="76.1" width="1.1" height="1.1" fill="#a0500a"/>
<rect x="513.9" y="61.7" width="1.1" height="1.1" fill="#a0500a"/>
<rect x="527.5" y="56.9" width="1.1" height="1.1" fill="#a0500a"/>
<rect x="494.0" y="72.4" width="1.1" height="1.1" fill="#a0500a"/>
<rect x="526.3" y="56.2" width="1.1" height="1.1" fill="#a0500a"/>
<rect x="493.7" y="70.2" width="1.1" height="1.1" fill="#a0500a"/>
<rect x="489.3" y="75.1" width="1.1" height="1.1" fill="#a0500a"/>
<rect x="491.2" y="76.7" width="1.1" height="1.1" fill="#a0500a"/>
<rect x="513.6" y="64.3" width="1.1" height="1.1" fill="#a0500a"/>
<rect x="524.7" y="59.2" width="1.1" height="1.1" fill="#a0500a"/>
<rect x="505.4" y="67.5" width="1.1" height="1.1" fill="#a0500a"/>
<rect x="516.7" y="60.0" width="1.1" height="1.1" fill="#a0500a"/>
<rect x="527.7" y="58.4" width="1.1" height="1.1" fill="#c080ff"/>
<rect x="498.7" y="70.6" width="1.1" height="1.1" fill="#a0500a"/>
<rect x="502.6" y="70.3" width="1.1" height="1.1" fill="#a0500a"/>
<rect x="521.1" y="57.8" width="1.1" height="1.1" fill="#a0500a"/>
<rect x="523.4" y="62.3" width="1.1" height="1.1" fill="#c080ff"/>
<rect x="501.0" y="71.1" width="1.1" height="1.1" fill="#a0500a"/>
<rect x="503.8" y="69.4" width="1.1" height="1.1" fill="#a0500a"/>
<rect x="502.9" y="68.0" width="1.1" height="1.1" fill="#a0500a"/>
<rect x="516.9" y="60.4" width="1.1" height="1.1" fill="#a0500a"/>
<rect x="504.1" y="66.0" width="1.1" height="1.1" fill="#c080ff"/>
<rect x="515.9" y="62.4" width="1.1" height="1.1" fill="#c080ff"/>
<rect x="520.5" y="56.1" width="1.1" height="1.1" fill="#c080ff"/>
<rect x="519.0" y="60.7" width="1.1" height="1.1" fill="#a0500a"/>
<rect x="507.8" y="66.1" width="1.1" height="1.1" fill="#a0500a"/>
<rect x="495.8" y="69.5" width="1.1" height="1.1" fill="#a0500a"/>
<rect x="495.9" y="72.1" width="1.1" height="1.1" fill="#a0500a"/>
<rect x="494.0" y="72.4" width="1.1" height="1.1" fill="#a0500a"/>
<rect x="500.2" y="69.7" width="1.1" height="1.1" fill="#a0500a"/>
<rect x="516.6" y="60.4" width="1.1" height="1.1" fill="#c080ff"/>
<rect x="519.1" y="61.0" width="1.1" height="1.1" fill="#a0500a"/>
<rect x="527.4" y="54.1" width="1.1" height="1.1" fill="#a0500a"/>
<rect x="523.2" y="55.5" width="1.1" height="1.1" fill="#c080ff"/>
<rect x="519.3" y="56.8" width="1.1" height="1.1" fill="#a0500a"/>
<rect x="497.4" y="72.0" width="1.1" height="1.1" fill="#a0500a"/>
<rect x="516.9" y="61.5" width="1.1" height="1.1" fill="#a0500a"/>
<rect x="522.5" y="59.2" width="1.1" height="1.1" fill="#a0500a"/>
<rect x="448.9" y="96.9" width="1.1" height="1.1" fill="#cccc00"/>
<rect x="442.6" y="94.1" width="1.1" height="1.1" fill="#00ff00"/>
<rect x="436.0" y="100.2" width="1.1" height="1.1" fill="#00ff00"/>
<rect x="441.4" y="97.4" width="1.1" height="1.1" fill="#00ff00"/>
<rect x="444.5" y="91.1" width="1.1" height="1.1" fill="#cccc00"/>
<rect x="437.4" y="92.9" width="1.1" height="1.1" fill="#cccc00"/>
<rect x="437.5" y="91.8" width="1.1" height="1.1" fill="#00ff00"/>
<rect x="438.7" y="97.4" width="1.1" height="1.1" fill="#00ff00"/>
<rect x="442.6" y="100.5" width="1.1" height="1.1" fill="#00ff00"/>
<rect x="441.5" y="96.3" width="1.1" height="1.1" fill="#00ff00"/>
<rect x="444.2" y="95.2" width="1.1" height="1.1" fill="#cccc00"/>
<rect x="437.9" y="86.8" width="1.1" height="1.1" fill="#00ff00"/>
<rect x="439.6" y="91.9" width="1.1" height="1.1" fill="#00ff00"/>
<rect x="435.1" y="90.5" width="1.1" height="1.1" fill="#cccc00"/>
<rect x="441.7" y="93.9" width="1.1" height="1.1" fill="#00ff00"/>
<rect x="440.1" y="94.1" width="1.1" height="1.1" fill="#00ff00"/>
<rect x="438.0" y="97.8" width="1.1" height="1.1" fill="#00ff00"/>
<rect x="443.8" y="95.5" width="1.1" height="1.1" fill="#cccc00"/>
<rect x="430.2" y="88.4" width="1.1" height="1.1" fill="#cccc00"/>
<rect x="444.5" y="90.7" width="1.1" height="1.1" fill="#00ff00"/>
<rect x="439.8" y="94.8" width="1.1" height="1.1" fill="#00ff00"/>
<rect x="437.2" y="87.4" width="1.1" height="1.1" fill="#00ff00"/>
<rect x="442.3" y="97.2" width="1.1" height="1.1" fill="#00ff00"/>
<rect x="442.3" y="91.4" width="1.1" height="1.1" fill="#00ff00"/>
<rect x="432.4" y="94.8" width="1.1" height="1.1" fill="#00ff00"/>
<rect x="440.3" y="93.1" width="1.1" height="1.1" fill="#00ff00"/>
<rect x="443.2" y="92.8" width="1.1" height="1.1" fill="#00ff00"/>
<rect x="438.4" y="89.7" width="1.1" height="1.1" fill="#00ff00"/>
<rect x="436.9" y="90.2" width="1.1" height="1.1" fill="#00ff00"/>
<rect x="438.9" y="97.2" width="1.1" height="1.1" fill="#00ff00"/>
<rect x="434.5" y="90.7" width="1.1" height="1.1" fill="#00ff00"/>
<rect x="434.7" y="96.4" width="1.1" height="1.1" fill="#cccc00"/>
<rect x="441.3" y="100.5" width="1.1" height="1.1" fill="#00ff00"/>
<rect x="440.9" y="92.9" width="1.1" height="1.1" fill="#00ff00"/>
<rect x="436.1" y="91.4" width="1.1" height="1.1" fill="#cccc00"/>
<rect x="442.3" y="89.1" width="1.1" height="1.1" fill="#00ff00"/>
<rect x="445.4" y="94.4" width="1.1" height="1.1" fill="#00ff00"/>
<rect x="440.9" y="91.6" width="1.1" height="1.1" fill="#00ff00"/>
<rect x="446.3" y="96.0" width="1.1" height="1.1" fill="#cccc00"/>
<rect x="436.1" y="96.3" width="1.1" height="1.1" fill="#cccc00"/>
<rect x="440.5" y="95.6" width="1.1" height="1.1" fill="#cccc00"/>
<rect x="439.7" y="95.9" width="1.1" height="1.1" fill="#00ff00"/>
<rect x="445.3" y="85.4" width="1.1" height="1.1" fill="#00ff00"/>
<rect x="443.1" y="93.5" width="1.1" height="1.1" fill="#00ff00"/>
<rect x="443.6" y="94.2" width="1.1" height="1.1" fill="#cccc00"/>
<rect x="445.8" y="96.1" width="1.1" height="1.1" fill="#00ff00"/>
<rect x="452.1" y="93.0" width="1.1" height="1.1" fill="#00ff00"/>
<rect x="440.2" y="106.3" width="1.1" height="1.1" fill="#00ff00"/>
<rect x="444.3" y="102.0" width="1.1" height="1.1" fill="#cccc00"/>
<rect x="439.4" y="98.8" width="1.1" height="1.1" fill="#00ff00"/>
<rect x="461.9" y="67.7" width="1.1" height="1.1" fill="#cccc00"/>
<rect x="462.1" y="65.3" width="1.1" height="1.1" fill="#c080ff"/>
<rect x="460.6" y="61.2" width="1.1" height="1.1" fill="#c080ff"/>
<rect x="464.5" y="59.3" width="1.1" height="1.1" fill="#c080ff"/>
<rect x="471.6" y="69.3" width="1.1" height="1.1" fill="#00a000"/>
<rect x="464.9" y="65.7" width="1.1" height="1.1" fill="#c080ff"/>
<rect x="462.1" y="67.9" width="1.1" height="1.1" fill="#c080ff"/>
<rect x="468.9" y="64.6" width="1.1" height="1.1" fill="#00a000"/>
<rect x="472.9" y="69.9" width="1.1" height="1.1" fill="#cccc00"/>
<rect x="465.0" y="67.1" width="1.1" height="1.1" fill="#c080ff"/>
<rect x="461.4" y="65.1" width="1.1" height="1.1" fill="#00a000"/>
<rect x="472.7" y="78.8" width="1.1" height="1.1" fill="#c080ff"/>
<rect x="463.9" y="66.3" width="1.1" height="1.1" fill="#c080ff"/>
<rect x="468.5" y="63.0" width="1.1" height="1.1" fill="#00a000"/>
<rect x="466.5" y="76.1" width="1.1" height="1.1" fill="#cccc00"/>
<rect x="459.6" y="62.9" width="1.1" height="1.1" fill="#cccc00"/>
<rect x="474.2" y="65.0" width="1.1" height="1.1" fill="#c080ff"/>
<rect x="471.2" y="61.6" width="1.1" height="1.1" fill="#00a000"/>
<rect x="469.3" y="67.0" width="1.1" height="1.1" fill="#c080ff"/>
<rect x="467.1" y="71.1" width="1.1" height="1.1" fill="#c080ff"/>
<rect x="465.0" y="65.9" width="1.1" height="1.1" fill="#00a000"/>
<rect x="474.9" y="58.3" width="1.1" height="1.1" fill="#00a000"/>
<rect x="467.7" y="60.3" width="1.1" height="1.1" fill="#cccc00"/>
<rect x="466.0" y="70.2" width="1.1" height="1.1" fill="#cccc00"/>
<rect x="465.3" y="63.7" width="1.1" height="1.1" fill="#cccc00"/>
<rect x="473.5" y="61.3" width="1.1" height="1.1" fill="#cccc00"/>
<rect x="469.9" y="67.4" width="1.1" height="1.1" fill="#cccc00"/>
<rect x="453.6" y="70.3" width="1.1" height="1.1" fill="#00a000"/>
<rect x="466.2" y="69.6" width="1.1" height="1.1" fill="#cccc00"/>
<rect x="462.0" y="71.2" width="1.1" height="1.1" fill="#c080ff"/>
<rect x="467.8" y="61.8" width="1.1" height="1.1" fill="#00a000"/>
<rect x="460.6" y="72.3" width="1.1" height="1.1" fill="#c080ff"/>
<rect x="470.7" y="71.2" width="1.1" height="1.1" fill="#c080ff"/>
<rect x="469.3" y="67.9" width="1.1" height="1.1" fill="#cccc00"/>
<rect x="463.8" y="65.0" width="1.1" height="1.1" fill="#c080ff"/>
<rect x="474.1" y="64.1" width="1.1" height="1.1" fill="#00a000"/>
<rect x="464.4" y="71.5" width="1.1" height="1.1" fill="#00a000"/>
<rect x="463.3" y="62.9" width="1.1" height="1.1" fill="#c080ff"/>
<rect x="464.6" y="57.3" width="1.1" height="1.1" fill="#cccc00"/>
<rect x="471.1" y="71.4" width="1.1" height="1.1" fill="#00a000"/>
<rect x="466.4" y="58.7" width="1.1" height="1.1" fill="#00a000"/>
<rect x="458.9" y="58.9" width="1.1" height="1.1" fill="#00a000"/>
<rect x="444.7" y="63.0" width="1.1" height="1.1" fill="#aaaa00"/>
<rect x="465.1" y="70.2" width="1.1" height="1.1" fill="#00a000"/>
<rect x="465.7" y="71.9" width="1.1" height="1.1" fill="#aaaa00"/>
<rect x="451.5" y="71.9" width="1.1" height="1.1" fill="#00a000"/>
<rect x="462.6" y="58.1" width="1.1" height="1.1" fill="#aaaa00"/>
<rect x="467.2" y="62.9" width="1.1" height="1.1" fill="#aaaa00"/>
<rect x="458.8" y="70.5" width="1.1" height="1.1" fill="#00a000"/>
<rect x="463.7" y="62.5" width="1.1" height="1.1" fill="#00a000"/>
<rect x="464.9" y="59.3" width="1.1" height="1.1" fill="#00a000"/>
<rect x="452.4" y="69.3" width="1.1" height="1.1" fill="#aaaa00"/>
<rect x="446.7" y="69.1" width="1.1" height="1.1" fill="#aaaa00"/>
<rect x="448.3" y="62.8" width="1.1" height="1.1" fill="#00a000"/>
<rect x="451.8" y="70.2" width="1.1" height="1.1" fill="#aaaa00"/>
<rect x="456.6" y="61.9" width="1.1" height="1.1" fill="#aaaa00"/>
<rect x="448.7" y="60.3" width="1.1" height="1.1" fill="#aaaa00"/>
<rect x="467.1" y="60.1" width="1.1" height="1.1" fill="#00a000"/>
<rect x="456.5" y="64.0" width="1.1" height="1.1" fill="#aaaa00"/>
<rect x="458.6" y="68.3" width="1.1" height="1.1" fill="#aaaa00"/>
<rect x="458.3" y="58.3" width="1.1" height="1.1" fill="#aaaa00"/>
<rect x="449.4" y="67.7" width="1.1" height="1.1" fill="#aaaa00"/>
<rect x="444.8" y="67.1" width="1.1" height="1.1" fill="#00a000"/>
<rect x="455.3" y="71.9" width="1.1" height="1.1" fill="#00a000"/>
<rect x="461.0" y="61.9" width="1.1" height="1.1" fill="#aaaa00"/>
<rect x="467.6" y="63.4" width="1.1" height="1.1" fill="#00a000"/>
<rect x="455.1" y="60.8" width="1.1" height="1.1" fill="#00a000"/>
<rect x="460.5" y="69.2" width="1.1" height="1.1" fill="#aaaa00"/>
<rect x="451.3" y="61.7" width="1.1" height="1.1" fill="#aaaa00"/>
<rect x="445.7" y="59.5" width="1.1" height="1.1" fill="#aaaa00"/>
<rect x="464.6" y="70.1" width="1.1" height="1.1" fill="#00a000"/>
<rect x="454.7" y="71.0" width="1.1" height="1.1" fill="#aaaa00"/>
<rect x="461.0" y="64.8" width="1.1" height="1.1" fill="#00a000"/>
<rect x="454.3" y="67.1" width="1.1" height="1.1" fill="#aaaa00"/>
<rect x="453.2" y="64.1" width="1.1" height="1.1" fill="#aaaa00"/>
<rect x="466.1" y="60.7" width="1.1" height="1.1" fill="#00a000"/>
<rect x="449.8" y="61.4" width="1.1" height="1.1" fill="#00a000"/>
<rect x="462.8" y="64.2" width="1.1" height="1.1" fill="#00a000"/>
<rect x="448.1" y="69.5" width="1.1" height="1.1" fill="#aaaa00"/>
<rect x="445.1" y="70.0" width="1.1" height="1.1" fill="#00a000"/>
<rect x="447.2" y="61.3" width="1.1" height="1.1" fill="#aaaa00"/>
<rect x="453.0" y="63.8" width="1.1" height="1.1" fill="#00a000"/>
<rect x="461.9" y="65.1" width="1.1" height="1.1" fill="#00a000"/>
<rect x="466.1" y="63.1" width="1.1" height="1.1" fill="#00a000"/>
<rect x="446.8" y="70.1" width="1.1" height="1.1" fill="#aaaa00"/>
<rect x="447.0" y="71.3" width="1.1" height="1.1" fill="#aaaa00"/>
<rect x="452.8" y="60.1" width="1.1" height="1.1" fill="#00a000"/>
<rect x="459.3" y="64.8" width="1.1" height="1.1" fill="#aaaa00"/>
<rect x="467.5" y="66.3" width="1.1" height="1.1" fill="#00a000"/>
<rect x="457.1" y="65.0" width="1.1" height="1.1" fill="#00a000"/>
<rect x="464.4" y="67.9" width="1.1" height="1.1" fill="#00a000"/>
<rect x="458.4" y="71.3" width="1.1" height="1.1" fill="#00a000"/>
<rect x="467.9" y="63.3" width="1.1" height="1.1" fill="#aaaa00"/>
<rect x="451.6" y="59.6" width="1.1" height="1.1" fill="#00a000"/>
<rect x="458.7" y="67.8" width="1.1" height="1.1" fill="#00a000"/>
<rect x="452.5" y="70.4" width="1.1" height="1.1" fill="#00a000"/>
<rect x="460.6" y="66.3" width="1.1" height="1.1" fill="#00a000"/>
<rect x="454.4" y="71.5" width="1.1" height="1.1" fill="#00a000"/>
<rect x="455.7" y="58.9" width="1.1" height="1.1" fill="#00a000"/>
<rect x="451.2" y="66.8" width="1.1" height="1.1" fill="#aaaa00"/>
<rect x="467.2" y="52.4" width="1.1" height="1.1" fill="#cccc00"/>
<rect x="444.4" y="50.6" width="1.1" height="1.1" fill="#cccc00"/>
<rect x="463.6" y="43.5" width="1.1" height="1.1" fill="#cccc00"/>
<rect x="453.0" y="35.5" width="1.1" height="1.1" fill="#cccc00"/>
<rect x="447.5" y="50.7" width="1.1" height="1.1" fill="#cccc00"/>
<rect x="436.8" y="49.1" width="1.1" height="1.1" fill="#cccc00"/>
<rect x="443.8" y="51.9" width="1.1" height="1.1" fill="#cccc00"/>
<rect x="444.1" y="47.2" width="1.1" height="1.1" fill="#cccc00"/>
<rect x="457.9" y="49.0" width="1.1" height="1.1" fill="#cccc00"/>
<rect x="462.0" y="48.1" width="1.1" height="1.1" fill="#cccc00"/>
<rect x="460.2" y="49.5" width="1.1" height="1.1" fill="#cccc00"/>
<rect x="439.3" y="56.0" width="1.1" height="1.1" fill="#cccc00"/>
<rect x="450.3" y="51.1" width="1.1" height="1.1" fill="#cccc00"/>
<rect x="459.3" y="49.7" width="1.1" height="1.1" fill="#cccc00"/>
<rect x="451.7" y="47.3" width="1.1" height="1.1" fill="#cccc00"/>
<rect x="440.2" y="59.0" width="1.1" height="1.1" fill="#cccc00"/>
<rect x="441.6" y="66.1" width="1.1" height="1.1" fill="#cccc00"/>
<rect x="453.2" y="47.7" width="1.1" height="1.1" fill="#cccc00"/>
<rect x="445.6" y="50.0" width="1.1" height="1.1" fill="#cccc00"/>
<rect x="447.9" y="50.5" width="1.1" height="1.1" fill="#cccc00"/>
<line x1="398.60" y1="13.10" x2="402.40" y2="13.10" stroke="#333" stroke-width="1.2" />
<text x="396.40" y="15.36" font-size="6.3" text-anchor="end" fill="#333">15</text>
<line x1="398.60" y1="38.80" x2="402.40" y2="38.80" stroke="#333" stroke-width="1.2" />
<text x="396.40" y="41.06" font-size="6.3" text-anchor="end" fill="#333">10</text>
<line x1="398.60" y1="68.00" x2="402.40" y2="68.00" stroke="#333" stroke-width="1.2" />
<text x="396.40" y="70.26" font-size="6.3" text-anchor="end" fill="#333">5.0</text>
<line x1="398.60" y1="97.20" x2="402.40" y2="97.20" stroke="#333" stroke-width="1.2" />
<text x="396.40" y="99.46" font-size="6.3" text-anchor="end" fill="#333">0</text>
<line x1="398.60" y1="126.10" x2="402.40" y2="126.10" stroke="#333" stroke-width="1.2" />
<text x="396.40" y="128.36" font-size="6.3" text-anchor="end" fill="#333">5.0</text>
<line x1="398.60" y1="155.00" x2="402.40" y2="155.00" stroke="#333" stroke-width="1.2" />
<text x="396.40" y="157.26" font-size="6.3" text-anchor="end" fill="#333">-9</text>
<line x1="400.40" y1="18.24" x2="402.40" y2="18.24" stroke="#777" stroke-width="0.8" />
<line x1="400.40" y1="23.38" x2="402.40" y2="23.38" stroke="#777" stroke-width="0.8" />
<line x1="400.40" y1="28.52" x2="402.40" y2="28.52" stroke="#777" stroke-width="0.8" />
<line x1="400.40" y1="33.66" x2="402.40" y2="33.66" stroke="#777" stroke-width="0.8" />
<line x1="400.40" y1="44.64" x2="402.40" y2="44.64" stroke="#777" stroke-width="0.8" />
<line x1="400.40" y1="50.48" x2="402.40" y2="50.48" stroke="#777" stroke-width="0.8" />
<line x1="400.40" y1="56.32" x2="402.40" y2="56.32" stroke="#777" stroke-width="0.8" />
<line x1="400.40" y1="62.16" x2="402.40" y2="62.16" stroke="#777" stroke-width="0.8" />
<line x1="400.40" y1="73.84" x2="402.40" y2="73.84" stroke="#777" stroke-width="0.8" />
<line x1="400.40" y1="79.68" x2="402.40" y2="79.68" stroke="#777" stroke-width="0.8" />
<line x1="400.40" y1="85.52" x2="402.40" y2="85.52" stroke="#777" stroke-width="0.8" />
<line x1="400.40" y1="91.36" x2="402.40" y2="91.36" stroke="#777" stroke-width="0.8" />
<line x1="400.40" y1="102.98" x2="402.40" y2="102.98" stroke="#777" stroke-width="0.8" />
<line x1="400.40" y1="108.76" x2="402.40" y2="108.76" stroke="#777" stroke-width="0.8" />
<line x1="400.40" y1="114.54" x2="402.40" y2="114.54" stroke="#777" stroke-width="0.8" />
<line x1="400.40" y1="120.32" x2="402.40" y2="120.32" stroke="#777" stroke-width="0.8" />
<line x1="400.40" y1="131.88" x2="402.40" y2="131.88" stroke="#777" stroke-width="0.8" />
<line x1="400.40" y1="137.66" x2="402.40" y2="137.66" stroke="#777" stroke-width="0.8" />
<line x1="400.40" y1="143.44" x2="402.40" y2="143.44" stroke="#777" stroke-width="0.8" />
<line x1="400.40" y1="149.22" x2="402.40" y2="149.22" stroke="#777" stroke-width="0.8" />
<line x1="400.40" y1="160.78" x2="402.40" y2="160.78" stroke="#777" stroke-width="0.8" />
<line x1="400.40" y1="166.56" x2="402.40" y2="166.56" stroke="#777" stroke-width="0.8" />
<line x1="400.40" y1="172.34" x2="402.40" y2="172.34" stroke="#777" stroke-width="0.8" />
<line x1="410.60" y1="178.90" x2="410.60" y2="181.90" stroke="#333" stroke-width="1.2" />
<text x="410.60" y="189.46" font-size="6.3" text-anchor="middle" fill="#333">-9</text>
<line x1="445.60" y1="178.90" x2="445.60" y2="181.90" stroke="#333" stroke-width="1.2" />
<text x="445.60" y="189.46" font-size="6.3" text-anchor="middle" fill="#333">-5.0</text>
<line x1="481.20" y1="178.90" x2="481.20" y2="181.90" stroke="#333" stroke-width="1.2" />
<text x="481.20" y="189.46" font-size="6.3" text-anchor="middle" fill="#333">0</text>
<line x1="516.80" y1="178.90" x2="516.80" y2="181.90" stroke="#333" stroke-width="1.2" />
<text x="516.80" y="189.46" font-size="6.3" text-anchor="middle" fill="#333">5.0</text>
<line x1="551.50" y1="178.90" x2="551.50" y2="181.90" stroke="#333" stroke-width="1.2" />
<text x="551.50" y="189.46" font-size="6.3" text-anchor="middle" fill="#333">10</text>
<line x1="417.60" y1="178.90" x2="417.60" y2="180.90" stroke="#777" stroke-width="0.8" />
<line x1="424.60" y1="178.90" x2="424.60" y2="180.90" stroke="#777" stroke-width="0.8" />
<line x1="431.60" y1="178.90" x2="431.60" y2="180.90" stroke="#777" stroke-width="0.8" />
<line x1="438.60" y1="178.90" x2="438.60" y2="180.90" stroke="#777" stroke-width="0.8" />
<line x1="452.72" y1="178.90" x2="452.72" y2="180.90" stroke="#777" stroke-width="0.8" />
<line x1="459.84" y1="178.90" x2="459.84" y2="180.90" stroke="#777" stroke-width="0.8" />
<line x1="466.96" y1="178.90" x2="466.96" y2="180.90" stroke="#777" stroke-width="0.8" />
<line x1="474.08" y1="178.90" x2="474.08" y2="180.90" stroke="#777" stroke-width="0.8" />
<line x1="488.32" y1="178.90" x2="488.32" y2="180.90" stroke="#777" stroke-width="0.8" />
<line x1="495.44" y1="178.90" x2="495.44" y2="180.90" stroke="#777" stroke-width="0.8" />
<line x1="502.56" y1="178.90" x2="502.56" y2="180.90" stroke="#777" stroke-width="0.8" />
<line x1="509.68" y1="178.90" x2="509.68" y2="180.90" stroke="#777" stroke-width="0.8" />
<line x1="523.74" y1="178.90" x2="523.74" y2="180.90" stroke="#777" stroke-width="0.8" />
<line x1="530.68" y1="178.90" x2="530.68" y2="180.90" stroke="#777" stroke-width="0.8" />
<line x1="537.62" y1="178.90" x2="537.62" y2="180.90" stroke="#777" stroke-width="0.8" />
<line x1="544.56" y1="178.90" x2="544.56" y2="180.90" stroke="#777" stroke-width="0.8" />
<line x1="558.50" y1="178.90" x2="558.50" y2="180.90" stroke="#777" stroke-width="0.8" />
<line x1="565.50" y1="178.90" x2="565.50" y2="180.90" stroke="#777" stroke-width="0.8" />
<line x1="572.50" y1="178.90" x2="572.50" y2="180.90" stroke="#777" stroke-width="0.8" />
<text x="497.80" y="200.69" font-size="9.2" text-anchor="middle">UMAP1</text>
<text x="379.00" y="96.69" font-size="9.2" text-anchor="middle" transform="rotate(-90 379.00 93.40)">UMAP2</text>
<rect x="576.40" y="8.20" width="64.30" height="173.20" fill="#fff" stroke="#555" stroke-width="1" />
<rect x="587.80" y="8.80" width="52.40" height="10.70" fill="#e6e6e6" />
<text x="589.20" y="17.76" font-size="7.7" font-weight="bold" fill="#111">Subset Name</text>
<line x1="576.40" y1="20.10" x2="640.70" y2="20.10" stroke="#444" stroke-width="1" />
<line x1="586.90" y1="31.42" x2="640.70" y2="31.42" stroke="#ccc" stroke-width="0.5" />
<rect x="578.10" y="22.10" width="7.90" height="7.32" fill="#ff6a13" />
<text x="589.20" y="29.05" font-size="7.5" fill="#333">γδT</text>
<line x1="576.40" y1="31.62" x2="640.70" y2="31.62" stroke="#444" stroke-width="0.9" />
<line x1="586.90" y1="42.94" x2="640.70" y2="42.94" stroke="#ccc" stroke-width="0.5" />
<rect x="578.10" y="33.62" width="7.90" height="7.32" fill="#ff0000" />
<text x="589.20" y="40.57" font-size="7.5" fill="#333">CD8<tspan font-size="4.95" dy="-2.85">+</tspan><tspan dy="2.85">&#8203;</tspan>T</text>
<line x1="576.40" y1="43.14" x2="640.70" y2="43.14" stroke="#444" stroke-width="0.9" />
<line x1="586.90" y1="54.46" x2="640.70" y2="54.46" stroke="#ccc" stroke-width="0.5" />
<rect x="578.10" y="45.14" width="7.90" height="7.32" fill="#b4b4b4" />
<text x="589.20" y="52.09" font-size="7.5" fill="#333">Tregs</text>
<line x1="576.40" y1="54.66" x2="640.70" y2="54.66" stroke="#444" stroke-width="0.9" />
<line x1="586.90" y1="65.99" x2="640.70" y2="65.99" stroke="#ccc" stroke-width="0.5" />
<rect x="578.10" y="56.66" width="7.90" height="7.32" fill="#0000ff" />
<text x="589.20" y="63.61" font-size="7.5" fill="#333">CD4<tspan font-size="4.95" dy="-2.85">+</tspan><tspan dy="2.85">&#8203;</tspan>T</text>
<line x1="576.40" y1="66.19" x2="640.70" y2="66.19" stroke="#444" stroke-width="0.9" />
<line x1="586.90" y1="77.51" x2="640.70" y2="77.51" stroke="#ccc" stroke-width="0.5" />
<rect x="578.10" y="68.19" width="7.90" height="7.32" fill="#666666" />
<text x="589.20" y="75.13" font-size="7.5" fill="#333">Myeloid DCs</text>
<line x1="576.40" y1="77.71" x2="640.70" y2="77.71" stroke="#444" stroke-width="0.9" />
<line x1="586.90" y1="89.03" x2="640.70" y2="89.03" stroke="#ccc" stroke-width="0.5" />
<rect x="578.10" y="79.71" width="7.90" height="7.32" fill="#cccc00" />
<text x="589.20" y="86.65" font-size="7.5" fill="#333">Monocytes</text>
<line x1="576.40" y1="89.23" x2="640.70" y2="89.23" stroke="#444" stroke-width="0.9" />
<line x1="586.90" y1="100.55" x2="640.70" y2="100.55" stroke="#ccc" stroke-width="0.5" />
<rect x="578.10" y="91.23" width="7.90" height="7.32" fill="#ffff00" />
<text x="589.20" y="98.17" font-size="7.5" fill="#333">Mature B</text>
<line x1="576.40" y1="100.75" x2="640.70" y2="100.75" stroke="#444" stroke-width="0.9" />
<line x1="586.90" y1="112.07" x2="640.70" y2="112.07" stroke="#ccc" stroke-width="0.5" />
<rect x="578.10" y="102.75" width="7.90" height="7.32" fill="#a0500a" />
<text x="589.20" y="109.70" font-size="7.5" fill="#333">Immature B</text>
<line x1="576.40" y1="112.27" x2="640.70" y2="112.27" stroke="#444" stroke-width="0.9" />
<line x1="586.90" y1="123.59" x2="640.70" y2="123.59" stroke="#ccc" stroke-width="0.5" />
<rect x="578.10" y="114.27" width="7.90" height="7.32" fill="#ff8010" />
<text x="589.20" y="121.22" font-size="7.5" fill="#333">NKT</text>
<line x1="576.40" y1="123.79" x2="640.70" y2="123.79" stroke="#444" stroke-width="0.9" />
<line x1="586.90" y1="135.11" x2="640.70" y2="135.11" stroke="#ccc" stroke-width="0.5" />
<rect x="578.10" y="125.79" width="7.90" height="7.32" fill="#c080ff" />
<text x="589.20" y="132.74" font-size="7.5" fill="#333">NK cells</text>
<line x1="576.40" y1="135.31" x2="640.70" y2="135.31" stroke="#444" stroke-width="0.9" />
<line x1="586.90" y1="146.64" x2="640.70" y2="146.64" stroke="#ccc" stroke-width="0.5" />
<rect x="578.10" y="137.31" width="7.90" height="7.32" fill="#00a000" />
<text x="589.20" y="144.26" font-size="7.5" fill="#333">M2</text>
<line x1="576.40" y1="146.84" x2="640.70" y2="146.84" stroke="#444" stroke-width="0.9" />
<line x1="586.90" y1="158.16" x2="640.70" y2="158.16" stroke="#ccc" stroke-width="0.5" />
<rect x="578.10" y="148.84" width="7.90" height="7.32" fill="#ff40ff" />
<text x="589.20" y="155.78" font-size="7.5" fill="#333">M1</text>
<line x1="576.40" y1="158.36" x2="640.70" y2="158.36" stroke="#444" stroke-width="0.9" />
<line x1="586.90" y1="169.68" x2="640.70" y2="169.68" stroke="#ccc" stroke-width="0.5" />
<rect x="578.10" y="160.36" width="7.90" height="7.32" fill="#cc6600" />
<text x="589.20" y="167.30" font-size="7.5" fill="#333">PMN-MDSC</text>
<line x1="576.40" y1="169.88" x2="640.70" y2="169.88" stroke="#444" stroke-width="0.9" />
<line x1="586.90" y1="181.20" x2="640.70" y2="181.20" stroke="#ccc" stroke-width="0.5" />
<rect x="578.10" y="171.88" width="7.90" height="7.32" fill="#00ff00" />
<text x="589.20" y="178.82" font-size="7.5" fill="#333">m-MDSC</text>
<text x="361.20" y="205.08" font-size="10">F</text>
<path d="M431.80,261.60 L431.80,219.00 A42.6,42.6 0 0 1 434.62,219.09 Z" fill="#f4894b"/>
<path d="M431.80,261.60 L434.62,219.09 A42.6,42.6 0 0 1 458.03,228.03 Z" fill="#ff0000"/>
<path d="M431.80,261.60 L458.03,228.03 A42.6,42.6 0 0 1 462.44,232.01 Z" fill="#c8c8c8"/>
<path d="M431.80,261.60 L462.44,232.01 A42.6,42.6 0 0 1 473.82,254.57 Z" fill="#2323ff"/>
<path d="M431.80,261.60 L473.82,254.57 A42.6,42.6 0 0 1 474.20,257.52 Z" fill="#606060"/>
<path d="M431.80,261.60 L474.20,257.52 A42.6,42.6 0 0 1 450.47,299.89 Z" fill="#bdb800"/>
<path d="M431.80,261.60 L450.47,299.89 A42.6,42.6 0 0 1 447.76,301.10 Z" fill="#ffff66"/>
<path d="M431.80,261.60 L447.76,301.10 A42.6,42.6 0 0 1 447.07,301.37 Z" fill="#a0500a"/>
<path d="M431.80,261.60 L447.07,301.37 A42.6,42.6 0 0 1 446.37,301.63 Z" fill="#ff8000"/>
<path d="M431.80,261.60 L446.37,301.63 A42.6,42.6 0 0 1 445.67,301.88 Z" fill="#c090ff"/>
<path d="M431.80,261.60 L445.67,301.88 A42.6,42.6 0 0 1 415.15,300.81 Z" fill="#00aa00"/>
<path d="M431.80,261.60 L415.15,300.81 A42.6,42.6 0 0 1 410.18,298.31 Z" fill="#ff44ff"/>
<path d="M431.80,261.60 L410.18,298.31 A42.6,42.6 0 0 1 424.40,219.65 Z" fill="#d66c00"/>
<path d="M431.80,261.60 L424.40,219.65 A42.6,42.6 0 0 1 431.80,219.00 Z" fill="#00ff00"/>
<path d="M547.00,261.20 L547.00,218.20 A43,43 0 0 1 550.75,218.36 Z" fill="#f4894b"/>
<path d="M547.00,261.20 L550.75,218.36 A43,43 0 0 1 588.27,249.13 Z" fill="#ff0000"/>
<path d="M547.00,261.20 L588.27,249.13 A43,43 0 0 1 589.81,257.15 Z" fill="#c8c8c8"/>
<path d="M547.00,261.20 L589.81,257.15 A43,43 0 0 1 579.84,288.95 Z" fill="#2323ff"/>
<path d="M547.00,261.20 L579.84,288.95 A43,43 0 0 1 575.66,293.26 Z" fill="#606060"/>
<path d="M547.00,261.20 L575.66,293.26 A43,43 0 0 1 538.87,303.42 Z" fill="#bdb800"/>
<path d="M547.00,261.20 L538.87,303.42 A43,43 0 0 1 533.14,301.91 Z" fill="#ffff66"/>
<path d="M547.00,261.20 L533.14,301.91 A43,43 0 0 1 532.43,301.66 Z" fill="#a0500a"/>
<path d="M547.00,261.20 L532.43,301.66 A43,43 0 0 1 531.73,301.40 Z" fill="#ff8000"/>
<path d="M547.00,261.20 L531.73,301.40 A43,43 0 0 1 531.03,301.12 Z" fill="#c090ff"/>
<path d="M547.00,261.20 L531.03,301.12 A43,43 0 0 1 504.28,266.07 Z" fill="#00aa00"/>
<path d="M547.00,261.20 L504.28,266.07 A43,43 0 0 1 504.63,253.88 Z" fill="#ff44ff"/>
<path d="M547.00,261.20 L504.63,253.88 A43,43 0 0 1 541.98,218.49 Z" fill="#d66c00"/>
<path d="M547.00,261.20 L541.98,218.49 A43,43 0 0 1 547.00,218.20 Z" fill="#00ff00"/>
<text x="435.00" y="322.85" font-size="15.5" text-anchor="middle">WT</text>
<text x="551.50" y="320.86" font-size="15.8" text-anchor="middle">C278A</text>
<rect x="608.30" y="220.80" width="9.00" height="4.20" fill="#f4894b" />
<text x="622.80" y="225.48" font-size="7.2">γδT</text>
<rect x="608.30" y="229.90" width="9.00" height="4.20" fill="#ff0000" />
<text x="622.80" y="234.58" font-size="7.2">CD8<tspan font-size="4.75" dy="-2.74">+</tspan><tspan dy="2.74">&#8203;</tspan>T</text>
<rect x="608.30" y="239.40" width="9.00" height="4.20" fill="#c8c8c8" />
<text x="622.80" y="244.08" font-size="7.2">Tregs</text>
<rect x="608.30" y="248.60" width="9.00" height="4.20" fill="#2323ff" />
<text x="622.80" y="253.28" font-size="7.2">CD4<tspan font-size="4.75" dy="-2.74">+</tspan><tspan dy="2.74">&#8203;</tspan>T</text>
<rect x="608.30" y="257.80" width="9.00" height="4.20" fill="#606060" />
<text x="622.80" y="262.48" font-size="7.2">Myeloid DCs</text>
<rect x="608.30" y="265.90" width="9.00" height="4.20" fill="#bdb800" />
<text x="622.80" y="270.58" font-size="7.2">Monocytes</text>
<rect x="608.30" y="273.90" width="9.00" height="4.20" fill="#ffff66" />
<text x="622.80" y="278.58" font-size="7.2">Mature B</text>
<rect x="608.30" y="281.70" width="9.00" height="4.20" fill="#a0500a" />
<text x="622.80" y="286.38" font-size="7.2">Immature B</text>
<rect x="608.30" y="289.90" width="9.00" height="4.20" fill="#ff8000" />
<text x="622.80" y="294.58" font-size="7.2">NKT</text>
<rect x="608.30" y="297.90" width="9.00" height="4.20" fill="#c090ff" />
<text x="622.80" y="302.58" font-size="7.2">NK cells</text>
<rect x="608.30" y="305.80" width="9.00" height="4.20" fill="#00aa00" />
<text x="622.80" y="310.48" font-size="7.2">M2</text>
<rect x="608.30" y="313.80" width="9.00" height="4.20" fill="#ff44ff" />
<text x="622.80" y="318.48" font-size="7.2">M1</text>
<rect x="608.30" y="321.50" width="9.00" height="4.20" fill="#d66c00" />
<text x="622.80" y="326.18" font-size="7.2">PMN-MDSC</text>
<rect x="608.30" y="329.50" width="9.00" height="4.20" fill="#00ff00" />
<text x="622.80" y="334.18" font-size="7.2">m-MDSC</text>
<text x="0.00" y="335.58" font-size="10">G</text>
<text x="106.30" y="339.59" font-size="9.2" text-anchor="middle">Relative cell proportion</text>
<rect x="43.40" y="348.50" width="37.70" height="7.40" fill="#a0a0a4" />
<rect x="81.10" y="348.50" width="86.00" height="7.40" fill="#ff0000" />
<line x1="37.80" y1="352.20" x2="42.80" y2="352.20" stroke="#000" stroke-width="1" />
<text x="37.30" y="354.42" font-size="6.2" text-anchor="end" font-weight="bold">CD8<tspan font-size="4.09" dy="-2.36">+</tspan><tspan dy="2.36">&#8203;</tspan>T</text>
<rect x="43.40" y="358.98" width="44.40" height="7.40" fill="#a0a0a4" />
<rect x="87.80" y="358.98" width="79.30" height="7.40" fill="#ff0000" />
<line x1="37.80" y1="362.68" x2="42.80" y2="362.68" stroke="#000" stroke-width="1" />
<text x="37.30" y="364.90" font-size="6.2" text-anchor="end" font-weight="bold">NKT</text>
<rect x="43.40" y="369.46" width="45.40" height="7.40" fill="#a0a0a4" />
<rect x="88.80" y="369.46" width="78.30" height="7.40" fill="#ff0000" />
<line x1="37.80" y1="373.16" x2="42.80" y2="373.16" stroke="#000" stroke-width="1" />
<text x="37.30" y="375.38" font-size="6.2" text-anchor="end" font-weight="bold">NK cells</text>
<rect x="43.40" y="379.94" width="45.60" height="7.40" fill="#a0a0a4" />
<rect x="89.00" y="379.94" width="78.10" height="7.40" fill="#ff0000" />
<line x1="37.80" y1="383.64" x2="42.80" y2="383.64" stroke="#000" stroke-width="1" />
<text x="37.30" y="385.86" font-size="6.2" text-anchor="end" font-weight="bold">M2</text>
<rect x="43.40" y="390.42" width="48.30" height="7.40" fill="#a0a0a4" />
<rect x="91.70" y="390.42" width="75.40" height="7.40" fill="#ff0000" />
<line x1="37.80" y1="394.12" x2="42.80" y2="394.12" stroke="#000" stroke-width="1" />
<text x="37.30" y="396.34" font-size="6.2" text-anchor="end" font-weight="bold">Mature B</text>
<rect x="43.40" y="400.90" width="48.70" height="7.40" fill="#a0a0a4" />
<rect x="92.10" y="400.90" width="75.00" height="7.40" fill="#ff0000" />
<line x1="37.80" y1="404.60" x2="42.80" y2="404.60" stroke="#000" stroke-width="1" />
<text x="37.30" y="406.82" font-size="6.2" text-anchor="end" font-weight="bold">M1</text>
<rect x="43.40" y="411.38" width="50.40" height="7.40" fill="#a0a0a4" />
<rect x="93.80" y="411.38" width="73.30" height="7.40" fill="#ff0000" />
<line x1="37.80" y1="415.08" x2="42.80" y2="415.08" stroke="#000" stroke-width="1" />
<text x="37.30" y="417.30" font-size="6.2" text-anchor="end" font-weight="bold">CD4<tspan font-size="4.09" dy="-2.36">+</tspan><tspan dy="2.36">&#8203;</tspan>T</text>
<rect x="43.40" y="421.86" width="54.40" height="7.40" fill="#a0a0a4" />
<rect x="97.80" y="421.86" width="69.30" height="7.40" fill="#ff0000" />
<line x1="37.80" y1="425.56" x2="42.80" y2="425.56" stroke="#000" stroke-width="1" />
<text x="37.30" y="427.78" font-size="6.2" text-anchor="end" font-weight="bold">Myeloid DCs</text>
<rect x="43.40" y="432.34" width="54.70" height="7.40" fill="#a0a0a4" />
<rect x="98.10" y="432.34" width="69.00" height="7.40" fill="#ff0000" />
<line x1="37.80" y1="436.04" x2="42.80" y2="436.04" stroke="#000" stroke-width="1" />
<text x="37.30" y="438.26" font-size="6.2" text-anchor="end" font-weight="bold">Tregs</text>
<rect x="43.40" y="442.82" width="55.40" height="7.40" fill="#a0a0a4" />
<rect x="98.80" y="442.82" width="68.30" height="7.40" fill="#ff0000" />
<line x1="37.80" y1="446.52" x2="42.80" y2="446.52" stroke="#000" stroke-width="1" />
<text x="37.30" y="448.74" font-size="6.2" text-anchor="end" font-weight="bold">γδT</text>
<rect x="43.40" y="453.30" width="65.60" height="7.40" fill="#a0a0a4" />
<rect x="109.00" y="453.30" width="58.10" height="7.40" fill="#ff0000" />
<line x1="37.80" y1="457.00" x2="42.80" y2="457.00" stroke="#000" stroke-width="1" />
<text x="37.30" y="459.22" font-size="6.2" text-anchor="end" font-weight="bold">Immature B</text>
<rect x="43.40" y="463.78" width="68.40" height="7.40" fill="#a0a0a4" />
<rect x="111.80" y="463.78" width="55.30" height="7.40" fill="#ff0000" />
<line x1="37.80" y1="467.48" x2="42.80" y2="467.48" stroke="#000" stroke-width="1" />
<text x="37.30" y="469.70" font-size="6.2" text-anchor="end" font-weight="bold">Monocytes</text>
<rect x="43.40" y="474.26" width="69.40" height="7.40" fill="#a0a0a4" />
<rect x="112.80" y="474.26" width="54.30" height="7.40" fill="#ff0000" />
<line x1="37.80" y1="477.96" x2="42.80" y2="477.96" stroke="#000" stroke-width="1" />
<text x="37.30" y="480.18" font-size="6.2" text-anchor="end" font-weight="bold">m-MDSC</text>
<rect x="43.40" y="484.74" width="80.30" height="7.40" fill="#a0a0a4" />
<rect x="123.70" y="484.74" width="43.40" height="7.40" fill="#ff0000" />
<line x1="37.80" y1="488.44" x2="42.80" y2="488.44" stroke="#000" stroke-width="1" />
<text x="37.30" y="490.66" font-size="6.2" text-anchor="end" font-weight="bold">PMN-MDSC</text>
<line x1="42.80" y1="344.20" x2="42.80" y2="496.50" stroke="#000" stroke-width="1.3" />
<line x1="42.80" y1="496.50" x2="167.10" y2="496.50" stroke="#000" stroke-width="1.3" />
<line x1="42.80" y1="496.50" x2="42.80" y2="499.50" stroke="#000" stroke-width="1" />
<line x1="49.02" y1="496.50" x2="49.02" y2="498.30" stroke="#000" stroke-width="1" />
<line x1="55.23" y1="496.50" x2="55.23" y2="498.30" stroke="#000" stroke-width="1" />
<line x1="61.44" y1="496.50" x2="61.44" y2="498.30" stroke="#000" stroke-width="1" />
<line x1="67.66" y1="496.50" x2="67.66" y2="498.30" stroke="#000" stroke-width="1" />
<line x1="73.88" y1="496.50" x2="73.88" y2="498.30" stroke="#000" stroke-width="1" />
<line x1="80.09" y1="496.50" x2="80.09" y2="498.30" stroke="#000" stroke-width="1" />
<line x1="86.31" y1="496.50" x2="86.31" y2="498.30" stroke="#000" stroke-width="1" />
<line x1="92.52" y1="496.50" x2="92.52" y2="498.30" stroke="#000" stroke-width="1" />
<line x1="98.73" y1="496.50" x2="98.73" y2="498.30" stroke="#000" stroke-width="1" />
<line x1="104.95" y1="496.50" x2="104.95" y2="499.50" stroke="#000" stroke-width="1" />
<line x1="111.16" y1="496.50" x2="111.16" y2="498.30" stroke="#000" stroke-width="1" />
<line x1="117.38" y1="496.50" x2="117.38" y2="498.30" stroke="#000" stroke-width="1" />
<line x1="123.59" y1="496.50" x2="123.59" y2="498.30" stroke="#000" stroke-width="1" />
<line x1="129.81" y1="496.50" x2="129.81" y2="498.30" stroke="#000" stroke-width="1" />
<line x1="136.02" y1="496.50" x2="136.02" y2="498.30" stroke="#000" stroke-width="1" />
<line x1="142.24" y1="496.50" x2="142.24" y2="498.30" stroke="#000" stroke-width="1" />
<line x1="148.45" y1="496.50" x2="148.45" y2="498.30" stroke="#000" stroke-width="1" />
<line x1="154.67" y1="496.50" x2="154.67" y2="498.30" stroke="#000" stroke-width="1" />
<line x1="160.88" y1="496.50" x2="160.88" y2="498.30" stroke="#000" stroke-width="1" />
<line x1="167.10" y1="496.50" x2="167.10" y2="499.50" stroke="#000" stroke-width="1" />
<text x="42.80" y="506.27" font-size="5.5" text-anchor="middle" font-weight="bold">0.0</text>
<text x="104.95" y="506.27" font-size="5.5" text-anchor="middle" font-weight="bold">0.5</text>
<text x="167.10" y="506.27" font-size="5.5" text-anchor="middle" font-weight="bold">1.0</text>
<rect x="185.70" y="414.60" width="9.50" height="5.00" fill="#ff0000" />
<text x="199.70" y="419.97" font-size="8.3">C278A</text>
<rect x="185.70" y="426.20" width="9.50" height="5.00" fill="#a0a0a4" />
<text x="199.70" y="431.57" font-size="8.3">WT</text>
<text x="211.50" y="351.58" font-size="10">H</text>
<rect x="238.80" y="388.60" width="92.40" height="89.50" fill="#fff" stroke="#8a8a8a" stroke-width="0.9" />
<g filter="url(#roughH)">
<path d="M252.9,437.4 L256.0,436.2 L260.0,437.4 L263.1,439.7 L264.8,442.8 L268.7,446.6 L273.1,450.5 L273.4,454.3 L271.0,459.7 L266.3,462.8 L263.1,464.3 L261.6,467.4 L258.8,468.8 L256.0,467.4 L254.0,463.5 L249.7,460.5 L247.3,455.8 L246.5,451.3 L248.1,446.6 L250.5,442.8 L252.1,438.9Z" fill="#d6d6d6" fill-opacity="0.35" stroke="#d6d6d6" stroke-opacity="0.21" stroke-width="1.2" stroke-linejoin="round"/>
<path d="M255.2 441.4h0M260.8 448.2h0M248.1 452.7h0M247.6 450.4h0M257.9 462.8h0M261.9 449.2h0M254.8 462.5h0M251.4 455.0h0M263.6 448.4h0M264.7 450.2h0M254.9 455.2h0M258.6 446.1h0M267.7 458.8h0M253.1 454.8h0M260.6 464.3h0M266.0 445.7h0M257.7 460.6h0M250.6 452.1h0M266.9 454.8h0M265.1 455.4h0M262.0 451.1h0M259.2 457.7h0M256.8 457.8h0M247.2 451.2h0M257.0 464.2h0M248.7 450.8h0M261.2 464.6h0M254.0 449.8h0M256.1 464.6h0M251.3 444.0h0M252.8 452.0h0M262.3 444.9h0M256.4 454.6h0M260.3 456.2h0M257.0 449.3h0M249.3 456.7h0M252.1 441.8h0M255.6 438.3h0M249.3 448.1h0M262.9 441.3h0M253.3 447.6h0M256.3 440.5h0M259.0 451.9h0M255.7 445.0h0M260.6 441.3h0M269.5 458.7h0M253.5 448.2h0M260.7 461.3h0M255.4 443.7h0M268.3 460.1h0M252.6 453.0h0M256.0 437.5h0M253.5 458.6h0M272.0 450.8h0M252.4 443.8h0M251.8 443.1h0M268.9 451.8h0M264.0 462.0h0M248.8 457.5h0M266.5 451.8h0M255.4 462.0h0M257.3 466.6h0M255.9 454.0h0M260.6 466.2h0M258.1 464.2h0M253.3 445.9h0" stroke="#fff" stroke-opacity="0.75" stroke-width="0.8" stroke-linecap="square"/>
<path d="M259.7,423.3 L261.3,418.6 L264.1,416.4 L267.8,415.7 L271.6,416.4 L274.4,418.6 L276.5,421.7 L278.7,425.9 L279.2,430.2 L277.6,433.9 L273.8,436.5 L268.9,437.3 L264.1,436.2 L260.8,432.8 L259.4,428.6Z" fill="#d6d6d6" fill-opacity="0.34" stroke="#d6d6d6" stroke-opacity="0.21" stroke-width="1.2" stroke-linejoin="round"/>
<path d="M264.1 428.3h0M264.5 424.7h0M266.4 425.5h0M271.0 435.3h0M267.7 435.6h0M269.4 427.1h0M268.1 419.5h0M262.7 425.9h0M273.9 427.7h0M265.8 426.8h0M270.4 432.6h0M261.4 427.8h0M264.2 421.6h0M274.8 426.6h0M270.6 432.1h0M277.7 425.2h0M271.6 426.6h0M269.6 430.6h0M268.4 427.2h0M268.9 436.1h0M273.3 434.7h0M270.5 436.1h0M261.7 425.2h0M260.7 430.1h0M262.3 431.2h0M272.6 418.6h0M267.3 426.2h0M262.5 424.9h0M269.6 422.9h0M263.2 422.5h0M270.4 425.1h0M271.8 426.7h0M261.3 421.3h0M264.7 418.3h0M267.8 435.4h0M270.8 430.8h0M273.1 424.8h0M272.0 433.0h0M268.4 422.9h0" stroke="#fff" stroke-opacity="0.75" stroke-width="0.8" stroke-linecap="square"/>
<path d="M250.6,411.3 L253.3,407.5 L256.9,406.0 L260.4,405.2 L264.4,406.3 L268.3,409.4 L272.3,411.0 L272.7,413.7 L269.1,415.2 L264.4,416.8 L261.2,419.0 L257.3,419.5 L253.3,418.3 L250.6,415.2Z" fill="#d6d6d6" fill-opacity="0.34" stroke="#d6d6d6" stroke-opacity="0.21" stroke-width="1.2" stroke-linejoin="round"/>
<path d="M256.4 406.7h0M262.2 408.4h0M257.4 409.4h0M267.4 409.1h0M261.6 407.4h0M266.8 413.1h0M254.6 412.0h0M268.7 411.3h0M261.5 417.4h0M259.2 412.4h0M258.1 417.4h0M266.2 414.4h0M259.5 410.0h0M252.0 416.0h0M256.1 407.2h0M256.7 408.4h0M257.0 411.7h0M253.9 411.5h0M257.3 410.2h0M261.0 412.4h0M254.9 412.4h0M252.4 410.8h0M257.2 408.3h0M263.5 412.8h0M267.2 414.7h0" stroke="#fff" stroke-opacity="0.75" stroke-width="0.8" stroke-linecap="square"/>
<path d="M247.8,417.5 L249.4,415.6 L253.3,418.3 L258.9,419.8 L258.1,422.1 L253.3,423.7 L249.4,422.1 L247.6,419.8Z" fill="#d6d6d6" fill-opacity="0.25" stroke="#d6d6d6" stroke-opacity="0.15" stroke-width="1.2" stroke-linejoin="round"/>
<path d="M251.8 418.0h0M255.9 421.0h0M258.0 420.9h0M248.6 419.9h0M253.2 422.9h0M255.4 421.5h0" stroke="#fff" stroke-opacity="0.75" stroke-width="0.8" stroke-linecap="square"/>
<path d="M274.7,423.8 L277.6,422.9 L281.8,424.1 L280.9,425.9 L276.5,425.9Z" fill="#d6d6d6" fill-opacity="0.18" stroke="#d6d6d6" stroke-opacity="0.11" stroke-width="1.2" stroke-linejoin="round"/>
<path d="M278.8 425.1h0" stroke="#fff" stroke-opacity="0.75" stroke-width="0.8" stroke-linecap="square"/>
<path d="M278.1,411.2 L280.9,408.8 L284.1,408.6 L286.5,410.6 L286.3,413.8 L284.1,416.4 L280.9,417.1 L277.9,415.4 L278.7,413.3Z" fill="#d6d6d6" fill-opacity="0.31" stroke="#d6d6d6" stroke-opacity="0.18" stroke-width="1.2" stroke-linejoin="round"/>
<path d="M283.5 414.7h0M282.2 413.2h0M284.6 410.4h0M284.5 409.9h0M282.1 411.7h0M282.0 414.7h0" stroke="#fff" stroke-opacity="0.75" stroke-width="0.8" stroke-linecap="square"/>
<path d="M285.4,433.3 L285.1,434.6 L284.2,435.8 L282.9,436.6 L281.4,436.9 L279.9,436.6 L278.6,435.8 L277.7,434.6 L277.4,433.3 L277.7,431.9 L278.6,430.7 L279.9,430.0 L281.4,429.7 L282.9,430.0 L284.2,430.7 L285.1,431.9Z" fill="#d6d6d6" fill-opacity="0.32" stroke="#d6d6d6" stroke-opacity="0.19" stroke-width="1.2" stroke-linejoin="round"/>
<path d="M283.9 434.3h0M283.7 431.5h0M283.0 435.0h0M283.1 431.4h0M281.6 433.0h0" stroke="#fff" stroke-opacity="0.75" stroke-width="0.8" stroke-linecap="square"/>
<path d="M290.6,398.6 L290.4,399.6 L289.7,400.4 L288.7,400.9 L287.6,400.9 L286.6,400.4 L285.9,399.6 L285.6,398.6 L285.9,397.6 L286.6,396.8 L287.6,396.4 L288.7,396.4 L289.7,396.8 L290.4,397.6Z" fill="#d6d6d6" fill-opacity="0.34" stroke="#d6d6d6" stroke-opacity="0.21" stroke-width="1.2" stroke-linejoin="round"/>
<path d="M287.8 397.1h0M286.1 399.1h0" stroke="#fff" stroke-opacity="0.75" stroke-width="0.8" stroke-linecap="square"/>
<path d="M288.4,399.6 L290.3,400.1 L292.2,405.1 L291.4,405.4Z" fill="#d6d6d6" fill-opacity="0.29" stroke="#d6d6d6" stroke-opacity="0.17" stroke-width="1.2" stroke-linejoin="round"/>
<path d="" stroke="#fff" stroke-opacity="0.75" stroke-width="0.8" stroke-linecap="square"/>
<path d="M298.7,400.1 L300.4,398.7 L303.1,398.9 L304.7,400.4 L305.0,403.0 L303.1,404.5 L299.8,404.1 L298.4,402.2Z" fill="#d6d6d6" fill-opacity="0.34" stroke="#d6d6d6" stroke-opacity="0.21" stroke-width="1.2" stroke-linejoin="round"/>
<path d="M298.7 401.8h0M304.3 401.7h0M301.3 400.1h0" stroke="#fff" stroke-opacity="0.75" stroke-width="0.8" stroke-linecap="square"/>
<path d="M303.5,430.1 L302.1,435.5 L300.1,438.2 L300.8,441.6 L304.2,445.0 L308.2,448.0 L312.3,447.6 L317.7,445.6 L322.5,442.9 L322.1,438.9 L321.8,432.8 L319.0,429.5 L312.9,428.5 L307.5,429.1Z" fill="#ff1a1a" fill-opacity="0.77" stroke="#ff1a1a" stroke-opacity="0.46" stroke-width="1.2" stroke-linejoin="round"/>
<path d="M303.2 435.1h0M307.1 445.0h0M318.9 430.6h0M320.9 442.5h0M320.3 434.0h0M308.4 436.1h0M308.1 436.8h0M305.6 433.5h0M311.5 432.0h0M308.4 447.3h0M314.2 446.5h0M321.2 439.2h0M316.5 437.2h0M316.9 441.1h0M310.6 435.1h0M306.7 443.0h0M314.8 434.2h0M312.6 436.1h0M303.8 431.5h0M311.2 432.6h0M310.1 431.0h0M307.7 430.0h0M305.4 433.4h0M312.8 445.9h0M316.9 436.5h0M309.3 438.7h0M308.5 435.0h0M311.3 440.8h0M319.4 432.5h0M306.1 433.2h0M309.0 437.1h0M320.2 437.7h0M308.8 446.7h0M311.8 441.8h0M321.2 442.6h0M314.6 443.5h0M310.3 439.2h0M314.5 434.3h0M314.3 442.2h0M311.8 439.9h0M308.7 432.7h0M306.8 437.4h0M321.6 441.1h0M319.9 437.7h0M305.3 433.2h0M321.6 442.3h0M311.2 441.7h0" stroke="#fff" stroke-opacity="0.75" stroke-width="0.8" stroke-linecap="square"/>
<path d="M322.3,432.0 L321.9,433.0 L321.0,433.9 L319.5,434.7 L317.6,435.4 L315.4,435.8 L313.0,435.9 L310.6,435.8 L308.4,435.4 L306.4,434.7 L305.0,433.9 L304.0,433.0 L303.7,432.0 L304.0,431.0 L305.0,430.1 L306.4,429.3 L308.4,428.6 L310.6,428.3 L313.0,428.1 L315.4,428.3 L317.6,428.6 L319.5,429.3 L321.0,430.1 L321.9,431.0Z" fill="#ff1a1a" fill-opacity="0.85" stroke="#ff1a1a" stroke-opacity="0.51" stroke-width="1.2" stroke-linejoin="round"/>
<path d="M311.5 429.7h0M309.9 431.3h0M316.5 429.2h0M318.7 434.2h0M313.1 429.2h0M319.1 429.5h0M307.7 434.5h0M312.9 429.1h0M307.7 431.2h0M306.2 431.0h0M304.6 431.0h0M316.1 430.9h0M310.6 430.4h0M308.8 430.6h0M310.3 435.0h0" stroke="#fff" stroke-opacity="0.75" stroke-width="0.8" stroke-linecap="square"/>
<path d="M285.4,463.1 L286.5,460.2 L289.9,457.6 L294.4,456.5 L298.2,456.3 L296.0,459.2 L293.3,462.3 L291.2,465.5 L288.4,464.5Z" fill="#d6d6d6" fill-opacity="0.34" stroke="#d6d6d6" stroke-opacity="0.21" stroke-width="1.2" stroke-linejoin="round"/>
<path d="M290.5 464.2h0M289.5 458.4h0M288.4 463.2h0M289.2 458.4h0M288.0 460.6h0M290.2 458.2h0M290.8 460.8h0" stroke="#fff" stroke-opacity="0.75" stroke-width="0.8" stroke-linecap="square"/>
<path d="M290.1,466.0 L293.3,462.3 L296.0,459.2 L298.2,456.3 L301.9,455.4 L305.7,459.4 L305.3,464.5 L302.6,468.2 L298.1,470.4 L293.6,469.3 L290.3,467.3Z" fill="#d6d6d6" fill-opacity="0.34" stroke="#d6d6d6" stroke-opacity="0.21" stroke-width="1.2" stroke-linejoin="round"/>
<path d="M302.8 466.8h0M299.6 460.2h0M294.9 460.8h0M292.9 467.0h0M301.3 462.1h0M299.8 465.7h0M300.6 457.0h0M303.5 459.7h0M299.0 461.0h0M301.8 458.2h0M299.1 460.2h0M298.0 458.7h0M302.9 465.4h0M297.4 468.0h0M304.9 460.9h0M303.9 462.2h0M293.9 467.4h0" stroke="#fff" stroke-opacity="0.75" stroke-width="0.8" stroke-linecap="square"/>
</g>
<path d="M250.2 411.3h0M272.9 432.3h0M270.3 415.4h0M267.6 427.5h0M251.8 416.0h0M256.7 410.8h0M264.0 411.9h0" stroke="#ff5050" stroke-width="0.6" stroke-linecap="square"/>
<text x="280.20" y="387.01" font-size="12.6" text-anchor="middle">WT</text>
<line x1="236.30" y1="390.00" x2="238.80" y2="390.00" stroke="#555" stroke-width="0.8" />
<text x="234.80" y="391.15" font-size="3.2" text-anchor="end" fill="#666">15</text>
<line x1="236.30" y1="404.30" x2="238.80" y2="404.30" stroke="#555" stroke-width="0.8" />
<text x="234.80" y="405.45" font-size="3.2" text-anchor="end" fill="#666">10</text>
<line x1="236.30" y1="419.70" x2="238.80" y2="419.70" stroke="#555" stroke-width="0.8" />
<text x="234.80" y="420.85" font-size="3.2" text-anchor="end" fill="#666">5.0</text>
<line x1="236.30" y1="434.80" x2="238.80" y2="434.80" stroke="#555" stroke-width="0.8" />
<text x="234.80" y="435.95" font-size="3.2" text-anchor="end" fill="#666">0</text>
<line x1="236.30" y1="450.00" x2="238.80" y2="450.00" stroke="#555" stroke-width="0.8" />
<text x="234.80" y="451.15" font-size="3.2" text-anchor="end" fill="#666">5.0</text>
<line x1="236.30" y1="465.50" x2="238.80" y2="465.50" stroke="#555" stroke-width="0.8" />
<text x="234.80" y="466.65" font-size="3.2" text-anchor="end" fill="#666">-9</text>
<line x1="237.50" y1="391.60" x2="238.80" y2="391.60" stroke="#888" stroke-width="0.5" />
<line x1="237.50" y1="394.60" x2="238.80" y2="394.60" stroke="#888" stroke-width="0.5" />
<line x1="237.50" y1="397.60" x2="238.80" y2="397.60" stroke="#888" stroke-width="0.5" />
<line x1="237.50" y1="400.60" x2="238.80" y2="400.60" stroke="#888" stroke-width="0.5" />
<line x1="237.50" y1="403.60" x2="238.80" y2="403.60" stroke="#888" stroke-width="0.5" />
<line x1="237.50" y1="406.60" x2="238.80" y2="406.60" stroke="#888" stroke-width="0.5" />
<line x1="237.50" y1="409.60" x2="238.80" y2="409.60" stroke="#888" stroke-width="0.5" />
<line x1="237.50" y1="412.60" x2="238.80" y2="412.60" stroke="#888" stroke-width="0.5" />
<line x1="237.50" y1="415.60" x2="238.80" y2="415.60" stroke="#888" stroke-width="0.5" />
<line x1="237.50" y1="418.60" x2="238.80" y2="418.60" stroke="#888" stroke-width="0.5" />
<line x1="237.50" y1="421.60" x2="238.80" y2="421.60" stroke="#888" stroke-width="0.5" />
<line x1="237.50" y1="424.60" x2="238.80" y2="424.60" stroke="#888" stroke-width="0.5" />
<line x1="237.50" y1="427.60" x2="238.80" y2="427.60" stroke="#888" stroke-width="0.5" />
<line x1="237.50" y1="430.60" x2="238.80" y2="430.60" stroke="#888" stroke-width="0.5" />
<line x1="237.50" y1="433.60" x2="238.80" y2="433.60" stroke="#888" stroke-width="0.5" />
<line x1="237.50" y1="436.60" x2="238.80" y2="436.60" stroke="#888" stroke-width="0.5" />
<line x1="237.50" y1="439.60" x2="238.80" y2="439.60" stroke="#888" stroke-width="0.5" />
<line x1="237.50" y1="442.60" x2="238.80" y2="442.60" stroke="#888" stroke-width="0.5" />
<line x1="237.50" y1="445.60" x2="238.80" y2="445.60" stroke="#888" stroke-width="0.5" />
<line x1="237.50" y1="448.60" x2="238.80" y2="448.60" stroke="#888" stroke-width="0.5" />
<line x1="237.50" y1="451.60" x2="238.80" y2="451.60" stroke="#888" stroke-width="0.5" />
<line x1="237.50" y1="454.60" x2="238.80" y2="454.60" stroke="#888" stroke-width="0.5" />
<line x1="237.50" y1="457.60" x2="238.80" y2="457.60" stroke="#888" stroke-width="0.5" />
<line x1="237.50" y1="460.60" x2="238.80" y2="460.60" stroke="#888" stroke-width="0.5" />
<line x1="237.50" y1="463.60" x2="238.80" y2="463.60" stroke="#888" stroke-width="0.5" />
<line x1="237.50" y1="466.60" x2="238.80" y2="466.60" stroke="#888" stroke-width="0.5" />
<line x1="237.50" y1="469.60" x2="238.80" y2="469.60" stroke="#888" stroke-width="0.5" />
<line x1="237.50" y1="472.60" x2="238.80" y2="472.60" stroke="#888" stroke-width="0.5" />
<line x1="237.50" y1="475.60" x2="238.80" y2="475.60" stroke="#888" stroke-width="0.5" />
<line x1="243.30" y1="478.10" x2="243.30" y2="480.60" stroke="#555" stroke-width="0.8" />
<text x="243.30" y="484.75" font-size="3.2" text-anchor="middle" fill="#666">-9</text>
<line x1="262.30" y1="478.10" x2="262.30" y2="480.60" stroke="#555" stroke-width="0.8" />
<text x="262.30" y="484.75" font-size="3.2" text-anchor="middle" fill="#666">-5.0</text>
<line x1="281.30" y1="478.10" x2="281.30" y2="480.60" stroke="#555" stroke-width="0.8" />
<text x="281.30" y="484.75" font-size="3.2" text-anchor="middle" fill="#666">0</text>
<line x1="300.10" y1="478.10" x2="300.10" y2="480.60" stroke="#555" stroke-width="0.8" />
<text x="300.10" y="484.75" font-size="3.2" text-anchor="middle" fill="#666">5.0</text>
<line x1="319.60" y1="478.10" x2="319.60" y2="480.60" stroke="#555" stroke-width="0.8" />
<text x="319.60" y="484.75" font-size="3.2" text-anchor="middle" fill="#666">10</text>
<line x1="241.80" y1="478.10" x2="241.80" y2="479.40" stroke="#888" stroke-width="0.5" />
<line x1="244.80" y1="478.10" x2="244.80" y2="479.40" stroke="#888" stroke-width="0.5" />
<line x1="247.80" y1="478.10" x2="247.80" y2="479.40" stroke="#888" stroke-width="0.5" />
<line x1="250.80" y1="478.10" x2="250.80" y2="479.40" stroke="#888" stroke-width="0.5" />
<line x1="253.80" y1="478.10" x2="253.80" y2="479.40" stroke="#888" stroke-width="0.5" />
<line x1="256.80" y1="478.10" x2="256.80" y2="479.40" stroke="#888" stroke-width="0.5" />
<line x1="259.80" y1="478.10" x2="259.80" y2="479.40" stroke="#888" stroke-width="0.5" />
<line x1="262.80" y1="478.10" x2="262.80" y2="479.40" stroke="#888" stroke-width="0.5" />
<line x1="265.80" y1="478.10" x2="265.80" y2="479.40" stroke="#888" stroke-width="0.5" />
<line x1="268.80" y1="478.10" x2="268.80" y2="479.40" stroke="#888" stroke-width="0.5" />
<line x1="271.80" y1="478.10" x2="271.80" y2="479.40" stroke="#888" stroke-width="0.5" />
<line x1="274.80" y1="478.10" x2="274.80" y2="479.40" stroke="#888" stroke-width="0.5" />
<line x1="277.80" y1="478.10" x2="277.80" y2="479.40" stroke="#888" stroke-width="0.5" />
<line x1="280.80" y1="478.10" x2="280.80" y2="479.40" stroke="#888" stroke-width="0.5" />
<line x1="283.80" y1="478.10" x2="283.80" y2="479.40" stroke="#888" stroke-width="0.5" />
<line x1="286.80" y1="478.10" x2="286.80" y2="479.40" stroke="#888" stroke-width="0.5" />
<line x1="289.80" y1="478.10" x2="289.80" y2="479.40" stroke="#888" stroke-width="0.5" />
<line x1="292.80" y1="478.10" x2="292.80" y2="479.40" stroke="#888" stroke-width="0.5" />
<line x1="295.80" y1="478.10" x2="295.80" y2="479.40" stroke="#888" stroke-width="0.5" />
<line x1="298.80" y1="478.10" x2="298.80" y2="479.40" stroke="#888" stroke-width="0.5" />
<line x1="301.80" y1="478.10" x2="301.80" y2="479.40" stroke="#888" stroke-width="0.5" />
<line x1="304.80" y1="478.10" x2="304.80" y2="479.40" stroke="#888" stroke-width="0.5" />
<line x1="307.80" y1="478.10" x2="307.80" y2="479.40" stroke="#888" stroke-width="0.5" />
<line x1="310.80" y1="478.10" x2="310.80" y2="479.40" stroke="#888" stroke-width="0.5" />
<line x1="313.80" y1="478.10" x2="313.80" y2="479.40" stroke="#888" stroke-width="0.5" />
<line x1="316.80" y1="478.10" x2="316.80" y2="479.40" stroke="#888" stroke-width="0.5" />
<line x1="319.80" y1="478.10" x2="319.80" y2="479.40" stroke="#888" stroke-width="0.5" />
<line x1="322.80" y1="478.10" x2="322.80" y2="479.40" stroke="#888" stroke-width="0.5" />
<line x1="325.80" y1="478.10" x2="325.80" y2="479.40" stroke="#888" stroke-width="0.5" />
<line x1="328.80" y1="478.10" x2="328.80" y2="479.40" stroke="#888" stroke-width="0.5" />
<rect x="343.30" y="388.60" width="92.40" height="89.50" fill="#fff" stroke="#8a8a8a" stroke-width="0.9" />
<g filter="url(#roughH)">
<path d="M357.4,437.4 L360.5,436.2 L364.5,437.4 L367.6,439.7 L369.3,442.8 L373.2,446.6 L377.6,450.5 L377.9,454.3 L375.5,459.7 L370.8,462.8 L367.6,464.3 L366.1,467.4 L363.3,468.8 L360.5,467.4 L358.5,463.5 L354.2,460.5 L351.8,455.8 L351.0,451.3 L352.6,446.6 L355.0,442.8 L356.6,438.9Z" fill="#d6d6d6" fill-opacity="0.35" stroke="#d6d6d6" stroke-opacity="0.21" stroke-width="1.2" stroke-linejoin="round"/>
<path d="M354.4 458.9h0M368.2 451.2h0M363.1 452.3h0M361.9 465.2h0M361.2 440.2h0M352.8 456.3h0M361.1 457.6h0M360.1 458.5h0M364.3 457.2h0M375.1 455.0h0M376.2 452.1h0M366.5 459.7h0M360.6 464.4h0M373.5 452.6h0M356.3 441.4h0M365.1 452.8h0M364.6 458.8h0M356.9 444.3h0M358.2 450.0h0M361.1 463.1h0M361.6 441.9h0M356.5 460.9h0M371.4 447.4h0M355.6 450.4h0M357.2 449.6h0M362.9 449.9h0M366.7 445.8h0M353.9 453.1h0M360.7 462.2h0M364.5 459.1h0M361.4 454.8h0M370.9 447.8h0M362.8 439.3h0M367.2 452.4h0M363.7 441.5h0M354.3 455.0h0M363.1 440.6h0M362.8 459.6h0M370.1 451.5h0M361.6 448.0h0M357.1 442.9h0M363.0 440.0h0M370.4 459.1h0M360.8 450.3h0M371.2 452.5h0M357.2 453.3h0M370.9 457.1h0M357.0 446.0h0M360.9 466.4h0M373.7 453.0h0M358.8 456.0h0M373.5 458.3h0M372.9 455.8h0M360.7 450.2h0M364.1 453.4h0M358.3 449.9h0M358.4 445.9h0M372.5 452.6h0M362.0 448.1h0M372.7 455.5h0M373.2 448.3h0M361.4 457.4h0M354.7 456.0h0M363.4 464.1h0M353.6 455.9h0M374.1 457.3h0" stroke="#fff" stroke-opacity="0.75" stroke-width="0.8" stroke-linecap="square"/>
<path d="M364.2,423.3 L365.8,418.6 L368.6,416.4 L372.3,415.7 L376.1,416.4 L378.9,418.6 L381.0,421.7 L383.2,425.9 L383.7,430.2 L382.1,433.9 L378.3,436.5 L373.4,437.3 L368.6,436.2 L365.3,432.8 L363.9,428.6Z" fill="#d6d6d6" fill-opacity="0.34" stroke="#d6d6d6" stroke-opacity="0.21" stroke-width="1.2" stroke-linejoin="round"/>
<path d="M376.9 423.5h0M380.5 433.3h0M378.4 428.6h0M370.2 422.0h0M370.9 422.6h0M374.2 418.0h0M378.3 423.1h0M367.0 421.1h0M371.6 424.9h0M368.2 421.9h0M367.3 431.9h0M375.0 431.6h0M380.4 427.7h0M370.3 434.8h0M378.6 426.0h0M375.1 436.0h0M366.4 422.6h0M372.0 419.2h0M381.7 428.3h0M376.1 424.6h0M382.6 428.1h0M373.6 423.5h0M380.8 427.0h0M370.0 430.4h0M373.3 418.3h0M380.6 426.4h0M368.1 427.0h0M379.2 433.5h0M376.8 418.2h0M371.7 416.3h0M371.2 436.2h0M370.7 430.8h0M376.3 418.6h0M367.5 428.2h0M372.3 429.3h0M375.9 429.8h0M382.9 429.7h0M373.4 419.2h0M368.5 423.5h0" stroke="#fff" stroke-opacity="0.75" stroke-width="0.8" stroke-linecap="square"/>
<path d="M355.1,411.3 L357.8,407.5 L361.4,406.0 L364.9,405.2 L368.9,406.3 L372.8,409.4 L376.8,411.0 L377.2,413.7 L373.6,415.2 L368.9,416.8 L365.7,419.0 L361.8,419.5 L357.8,418.3 L355.1,415.2Z" fill="#d6d6d6" fill-opacity="0.34" stroke="#d6d6d6" stroke-opacity="0.21" stroke-width="1.2" stroke-linejoin="round"/>
<path d="M362.6 410.4h0M373.0 410.4h0M358.1 415.5h0M363.0 410.3h0M367.5 409.3h0M368.0 408.7h0M374.1 411.5h0M369.0 412.3h0M369.5 409.9h0M367.8 415.9h0M363.0 413.9h0M365.1 411.9h0M363.5 413.1h0M358.2 417.3h0M369.1 408.6h0M367.8 414.5h0M362.3 417.7h0M364.2 418.6h0M357.1 412.5h0M375.2 411.2h0M369.8 410.0h0M368.3 414.7h0M360.6 415.3h0M356.3 412.2h0M370.5 408.2h0" stroke="#fff" stroke-opacity="0.75" stroke-width="0.8" stroke-linecap="square"/>
<path d="M352.3,417.5 L353.9,415.6 L357.8,418.3 L363.4,419.8 L362.6,422.1 L357.8,423.7 L353.9,422.1 L352.1,419.8Z" fill="#d6d6d6" fill-opacity="0.25" stroke="#d6d6d6" stroke-opacity="0.15" stroke-width="1.2" stroke-linejoin="round"/>
<path d="M356.4 421.5h0M354.7 419.9h0M358.9 418.8h0M354.0 421.5h0M361.5 421.2h0M357.6 421.7h0" stroke="#fff" stroke-opacity="0.75" stroke-width="0.8" stroke-linecap="square"/>
<path d="M379.2,423.8 L382.1,422.9 L386.3,424.1 L385.4,425.9 L381.0,425.9Z" fill="#d6d6d6" fill-opacity="0.18" stroke="#d6d6d6" stroke-opacity="0.11" stroke-width="1.2" stroke-linejoin="round"/>
<path d="M381.1 425.2h0" stroke="#fff" stroke-opacity="0.75" stroke-width="0.8" stroke-linecap="square"/>
<path d="M382.6,411.2 L385.4,408.8 L388.6,408.6 L391.0,410.6 L390.8,413.8 L388.6,416.4 L385.4,417.1 L382.4,415.4 L383.2,413.3Z" fill="#d6d6d6" fill-opacity="0.31" stroke="#d6d6d6" stroke-opacity="0.18" stroke-width="1.2" stroke-linejoin="round"/>
<path d="M387.9 414.1h0M386.4 410.1h0M389.7 414.0h0M383.8 415.1h0M387.7 409.9h0M388.6 413.5h0" stroke="#fff" stroke-opacity="0.75" stroke-width="0.8" stroke-linecap="square"/>
<path d="M389.9,433.3 L389.6,434.6 L388.7,435.8 L387.4,436.6 L385.9,436.9 L384.4,436.6 L383.1,435.8 L382.2,434.6 L381.9,433.3 L382.2,431.9 L383.1,430.7 L384.4,430.0 L385.9,429.7 L387.4,430.0 L388.7,430.7 L389.6,431.9Z" fill="#d6d6d6" fill-opacity="0.32" stroke="#d6d6d6" stroke-opacity="0.19" stroke-width="1.2" stroke-linejoin="round"/>
<path d="M383.7 432.8h0M383.4 434.1h0M384.9 435.7h0M385.4 434.1h0M385.8 433.7h0" stroke="#fff" stroke-opacity="0.75" stroke-width="0.8" stroke-linecap="square"/>
<path d="M395.1,398.6 L394.9,399.6 L394.2,400.4 L393.2,400.9 L392.1,400.9 L391.1,400.4 L390.4,399.6 L390.1,398.6 L390.4,397.6 L391.1,396.8 L392.1,396.4 L393.2,396.4 L394.2,396.8 L394.9,397.6Z" fill="#d6d6d6" fill-opacity="0.34" stroke="#d6d6d6" stroke-opacity="0.21" stroke-width="1.2" stroke-linejoin="round"/>
<path d="M392.6 397.8h0M392.5 399.1h0" stroke="#fff" stroke-opacity="0.75" stroke-width="0.8" stroke-linecap="square"/>
<path d="M392.9,399.6 L394.8,400.1 L396.7,405.1 L395.9,405.4Z" fill="#d6d6d6" fill-opacity="0.29" stroke="#d6d6d6" stroke-opacity="0.17" stroke-width="1.2" stroke-linejoin="round"/>
<path d="" stroke="#fff" stroke-opacity="0.75" stroke-width="0.8" stroke-linecap="square"/>
<path d="M403.2,400.1 L404.9,398.7 L407.6,398.9 L409.2,400.4 L409.5,403.0 L407.6,404.5 L404.3,404.1 L402.9,402.2Z" fill="#d6d6d6" fill-opacity="0.34" stroke="#d6d6d6" stroke-opacity="0.21" stroke-width="1.2" stroke-linejoin="round"/>
<path d="M406.6 399.3h0M404.8 400.7h0M404.6 401.5h0" stroke="#fff" stroke-opacity="0.75" stroke-width="0.8" stroke-linecap="square"/>
<path d="M408.0,430.1 L406.6,435.5 L404.6,438.2 L405.3,441.6 L408.7,445.0 L412.7,448.0 L416.8,447.6 L422.2,445.6 L427.0,442.9 L426.6,438.9 L426.3,432.8 L423.5,429.5 L417.4,428.5 L412.0,429.1Z" fill="#ff1a1a" fill-opacity="0.77" stroke="#ff1a1a" stroke-opacity="0.46" stroke-width="1.2" stroke-linejoin="round"/>
<path d="M408.1 438.0h0M422.4 440.8h0M415.3 437.6h0M416.7 441.5h0M420.1 438.5h0M415.9 436.2h0M414.6 437.7h0M422.6 431.4h0M416.0 442.1h0M425.1 442.9h0M418.6 437.1h0M408.6 431.4h0M412.5 438.8h0M419.8 440.3h0M416.9 442.5h0M420.0 437.0h0M420.3 432.0h0M416.8 441.2h0M418.7 434.1h0M415.4 439.6h0M420.4 437.0h0M412.3 430.6h0M416.1 439.7h0M417.6 437.1h0M412.8 434.8h0M415.5 439.6h0M414.6 434.9h0M416.2 442.0h0M417.9 443.9h0M415.1 441.7h0M413.9 430.7h0M414.5 433.7h0M417.1 441.5h0M412.7 444.2h0M415.9 439.4h0M411.3 432.6h0M425.1 440.0h0M424.8 432.6h0M423.6 431.4h0M407.8 434.0h0M425.4 436.0h0M414.4 434.0h0M406.2 437.0h0M415.7 434.9h0M421.0 434.4h0M417.5 430.3h0M417.1 440.6h0" stroke="#fff" stroke-opacity="0.75" stroke-width="0.8" stroke-linecap="square"/>
<path d="M426.8,432.0 L426.4,433.0 L425.5,433.9 L424.0,434.7 L422.1,435.4 L419.9,435.8 L417.5,435.9 L415.1,435.8 L412.9,435.4 L410.9,434.7 L409.5,433.9 L408.5,433.0 L408.2,432.0 L408.5,431.0 L409.5,430.1 L410.9,429.3 L412.9,428.6 L415.1,428.3 L417.5,428.1 L419.9,428.3 L422.1,428.6 L424.0,429.3 L425.5,430.1 L426.4,431.0Z" fill="#ff1a1a" fill-opacity="0.85" stroke="#ff1a1a" stroke-opacity="0.51" stroke-width="1.2" stroke-linejoin="round"/>
<path d="M420.4 431.3h0M419.9 433.2h0M423.2 433.5h0M425.5 432.1h0M413.3 433.2h0M415.9 429.1h0M410.1 431.1h0M410.8 429.8h0M424.8 432.1h0M419.9 430.2h0M423.8 432.3h0M419.8 434.8h0M424.9 433.0h0M421.7 434.5h0M410.5 429.9h0" stroke="#fff" stroke-opacity="0.75" stroke-width="0.8" stroke-linecap="square"/>
<path d="M389.9,463.1 L391.0,460.2 L394.4,457.6 L398.9,456.5 L402.7,456.3 L400.5,459.2 L397.8,462.3 L395.7,465.5 L392.9,464.5Z" fill="#d6d6d6" fill-opacity="0.34" stroke="#d6d6d6" stroke-opacity="0.21" stroke-width="1.2" stroke-linejoin="round"/>
<path d="M391.2 460.4h0M398.0 461.3h0M401.6 456.8h0M391.1 462.2h0M392.3 459.5h0M397.1 457.7h0M395.6 458.7h0" stroke="#fff" stroke-opacity="0.75" stroke-width="0.8" stroke-linecap="square"/>
<path d="M394.6,466.0 L397.8,462.3 L400.5,459.2 L402.7,456.3 L406.4,455.4 L410.2,459.4 L409.8,464.5 L407.1,468.2 L402.6,470.4 L398.1,469.3 L394.8,467.3Z" fill="#d6d6d6" fill-opacity="0.34" stroke="#d6d6d6" stroke-opacity="0.21" stroke-width="1.2" stroke-linejoin="round"/>
<path d="M406.0 467.6h0M403.7 468.8h0M402.2 466.9h0M399.4 469.1h0M402.3 461.0h0M405.1 467.8h0M403.4 461.2h0M399.7 463.0h0M408.3 458.8h0M404.4 468.7h0M409.1 460.7h0M396.9 466.6h0M406.6 458.1h0M395.1 465.7h0M400.4 463.3h0M403.4 469.1h0M404.2 463.2h0" stroke="#fff" stroke-opacity="0.75" stroke-width="0.8" stroke-linecap="square"/>
</g>
<path d="M355.3 414.3h0M381.8 415.8h0M355.3 414.7h0M362.0 432.4h0M365.9 408.8h0M357.7 414.6h0M353.3 424.3h0" stroke="#ff5050" stroke-width="0.6" stroke-linecap="square"/>
<text x="394.60" y="387.01" font-size="12.6" text-anchor="middle">C278A</text>
<line x1="340.80" y1="390.00" x2="343.30" y2="390.00" stroke="#555" stroke-width="0.8" />
<text x="339.30" y="391.15" font-size="3.2" text-anchor="end" fill="#666">15</text>
<line x1="340.80" y1="404.30" x2="343.30" y2="404.30" stroke="#555" stroke-width="0.8" />
<text x="339.30" y="405.45" font-size="3.2" text-anchor="end" fill="#666">10</text>
<line x1="340.80" y1="419.70" x2="343.30" y2="419.70" stroke="#555" stroke-width="0.8" />
<text x="339.30" y="420.85" font-size="3.2" text-anchor="end" fill="#666">5.0</text>
<line x1="340.80" y1="434.80" x2="343.30" y2="434.80" stroke="#555" stroke-width="0.8" />
<text x="339.30" y="435.95" font-size="3.2" text-anchor="end" fill="#666">0</text>
<line x1="340.80" y1="450.00" x2="343.30" y2="450.00" stroke="#555" stroke-width="0.8" />
<text x="339.30" y="451.15" font-size="3.2" text-anchor="end" fill="#666">5.0</text>
<line x1="340.80" y1="465.50" x2="343.30" y2="465.50" stroke="#555" stroke-width="0.8" />
<text x="339.30" y="466.65" font-size="3.2" text-anchor="end" fill="#666">-9</text>
<line x1="342.00" y1="391.60" x2="343.30" y2="391.60" stroke="#888" stroke-width="0.5" />
<line x1="342.00" y1="394.60" x2="343.30" y2="394.60" stroke="#888" stroke-width="0.5" />
<line x1="342.00" y1="397.60" x2="343.30" y2="397.60" stroke="#888" stroke-width="0.5" />
<line x1="342.00" y1="400.60" x2="343.30" y2="400.60" stroke="#888" stroke-width="0.5" />
<line x1="342.00" y1="403.60" x2="343.30" y2="403.60" stroke="#888" stroke-width="0.5" />
<line x1="342.00" y1="406.60" x2="343.30" y2="406.60" stroke="#888" stroke-width="0.5" />
<line x1="342.00" y1="409.60" x2="343.30" y2="409.60" stroke="#888" stroke-width="0.5" />
<line x1="342.00" y1="412.60" x2="343.30" y2="412.60" stroke="#888" stroke-width="0.5" />
<line x1="342.00" y1="415.60" x2="343.30" y2="415.60" stroke="#888" stroke-width="0.5" />
<line x1="342.00" y1="418.60" x2="343.30" y2="418.60" stroke="#888" stroke-width="0.5" />
<line x1="342.00" y1="421.60" x2="343.30" y2="421.60" stroke="#888" stroke-width="0.5" />
<line x1="342.00" y1="424.60" x2="343.30" y2="424.60" stroke="#888" stroke-width="0.5" />
<line x1="342.00" y1="427.60" x2="343.30" y2="427.60" stroke="#888" stroke-width="0.5" />
<line x1="342.00" y1="430.60" x2="343.30" y2="430.60" stroke="#888" stroke-width="0.5" />
<line x1="342.00" y1="433.60" x2="343.30" y2="433.60" stroke="#888" stroke-width="0.5" />
<line x1="342.00" y1="436.60" x2="343.30" y2="436.60" stroke="#888" stroke-width="0.5" />
<line x1="342.00" y1="439.60" x2="343.30" y2="439.60" stroke="#888" stroke-width="0.5" />
<line x1="342.00" y1="442.60" x2="343.30" y2="442.60" stroke="#888" stroke-width="0.5" />
<line x1="342.00" y1="445.60" x2="343.30" y2="445.60" stroke="#888" stroke-width="0.5" />
<line x1="342.00" y1="448.60" x2="343.30" y2="448.60" stroke="#888" stroke-width="0.5" />
<line x1="342.00" y1="451.60" x2="343.30" y2="451.60" stroke="#888" stroke-width="0.5" />
<line x1="342.00" y1="454.60" x2="343.30" y2="454.60" stroke="#888" stroke-width="0.5" />
<line x1="342.00" y1="457.60" x2="343.30" y2="457.60" stroke="#888" stroke-width="0.5" />
<line x1="342.00" y1="460.60" x2="343.30" y2="460.60" stroke="#888" stroke-width="0.5" />
<line x1="342.00" y1="463.60" x2="343.30" y2="463.60" stroke="#888" stroke-width="0.5" />
<line x1="342.00" y1="466.60" x2="343.30" y2="466.60" stroke="#888" stroke-width="0.5" />
<line x1="342.00" y1="469.60" x2="343.30" y2="469.60" stroke="#888" stroke-width="0.5" />
<line x1="342.00" y1="472.60" x2="343.30" y2="472.60" stroke="#888" stroke-width="0.5" />
<line x1="342.00" y1="475.60" x2="343.30" y2="475.60" stroke="#888" stroke-width="0.5" />
<line x1="347.80" y1="478.10" x2="347.80" y2="480.60" stroke="#555" stroke-width="0.8" />
<text x="347.80" y="484.75" font-size="3.2" text-anchor="middle" fill="#666">-9</text>
<line x1="366.80" y1="478.10" x2="366.80" y2="480.60" stroke="#555" stroke-width="0.8" />
<text x="366.80" y="484.75" font-size="3.2" text-anchor="middle" fill="#666">-5.0</text>
<line x1="385.80" y1="478.10" x2="385.80" y2="480.60" stroke="#555" stroke-width="0.8" />
<text x="385.80" y="484.75" font-size="3.2" text-anchor="middle" fill="#666">0</text>
<line x1="404.60" y1="478.10" x2="404.60" y2="480.60" stroke="#555" stroke-width="0.8" />
<text x="404.60" y="484.75" font-size="3.2" text-anchor="middle" fill="#666">5.0</text>
<line x1="424.10" y1="478.10" x2="424.10" y2="480.60" stroke="#555" stroke-width="0.8" />
<text x="424.10" y="484.75" font-size="3.2" text-anchor="middle" fill="#666">10</text>
<line x1="346.30" y1="478.10" x2="346.30" y2="479.40" stroke="#888" stroke-width="0.5" />
<line x1="349.30" y1="478.10" x2="349.30" y2="479.40" stroke="#888" stroke-width="0.5" />
<line x1="352.30" y1="478.10" x2="352.30" y2="479.40" stroke="#888" stroke-width="0.5" />
<line x1="355.30" y1="478.10" x2="355.30" y2="479.40" stroke="#888" stroke-width="0.5" />
<line x1="358.30" y1="478.10" x2="358.30" y2="479.40" stroke="#888" stroke-width="0.5" />
<line x1="361.30" y1="478.10" x2="361.30" y2="479.40" stroke="#888" stroke-width="0.5" />
<line x1="364.30" y1="478.10" x2="364.30" y2="479.40" stroke="#888" stroke-width="0.5" />
<line x1="367.30" y1="478.10" x2="367.30" y2="479.40" stroke="#888" stroke-width="0.5" />
<line x1="370.30" y1="478.10" x2="370.30" y2="479.40" stroke="#888" stroke-width="0.5" />
<line x1="373.30" y1="478.10" x2="373.30" y2="479.40" stroke="#888" stroke-width="0.5" />
<line x1="376.30" y1="478.10" x2="376.30" y2="479.40" stroke="#888" stroke-width="0.5" />
<line x1="379.30" y1="478.10" x2="379.30" y2="479.40" stroke="#888" stroke-width="0.5" />
<line x1="382.30" y1="478.10" x2="382.30" y2="479.40" stroke="#888" stroke-width="0.5" />
<line x1="385.30" y1="478.10" x2="385.30" y2="479.40" stroke="#888" stroke-width="0.5" />
<line x1="388.30" y1="478.10" x2="388.30" y2="479.40" stroke="#888" stroke-width="0.5" />
<line x1="391.30" y1="478.10" x2="391.30" y2="479.40" stroke="#888" stroke-width="0.5" />
<line x1="394.30" y1="478.10" x2="394.30" y2="479.40" stroke="#888" stroke-width="0.5" />
<line x1="397.30" y1="478.10" x2="397.30" y2="479.40" stroke="#888" stroke-width="0.5" />
<line x1="400.30" y1="478.10" x2="400.30" y2="479.40" stroke="#888" stroke-width="0.5" />
<line x1="403.30" y1="478.10" x2="403.30" y2="479.40" stroke="#888" stroke-width="0.5" />
<line x1="406.30" y1="478.10" x2="406.30" y2="479.40" stroke="#888" stroke-width="0.5" />
<line x1="409.30" y1="478.10" x2="409.30" y2="479.40" stroke="#888" stroke-width="0.5" />
<line x1="412.30" y1="478.10" x2="412.30" y2="479.40" stroke="#888" stroke-width="0.5" />
<line x1="415.30" y1="478.10" x2="415.30" y2="479.40" stroke="#888" stroke-width="0.5" />
<line x1="418.30" y1="478.10" x2="418.30" y2="479.40" stroke="#888" stroke-width="0.5" />
<line x1="421.30" y1="478.10" x2="421.30" y2="479.40" stroke="#888" stroke-width="0.5" />
<line x1="424.30" y1="478.10" x2="424.30" y2="479.40" stroke="#888" stroke-width="0.5" />
<line x1="427.30" y1="478.10" x2="427.30" y2="479.40" stroke="#888" stroke-width="0.5" />
<line x1="430.30" y1="478.10" x2="430.30" y2="479.40" stroke="#888" stroke-width="0.5" />
<line x1="433.30" y1="478.10" x2="433.30" y2="479.40" stroke="#888" stroke-width="0.5" />
<ellipse cx="311.8" cy="438.3" rx="16.4" ry="13.8" fill="none" stroke="#000" stroke-width="1.9" stroke-dasharray="5.2 3"/>
<ellipse cx="415.6" cy="438.3" rx="16.4" ry="13.8" fill="none" stroke="#000" stroke-width="1.9" stroke-dasharray="5.2 3"/>
<text x="448.30" y="370.82" font-size="9">I</text>
<path d="M449.6,406.4 C450.1,405.9 451.3,405.3 452.5,404.9 C453.7,404.5 455.4,404.1 456.6,403.8 C457.9,403.5 458.8,403.2 460.0,403.3 C461.2,403.4 462.4,403.9 464.0,404.3 C465.6,404.7 467.7,405.8 469.8,405.9 C471.9,406.0 474.8,405.2 476.8,405.2 C478.8,405.2 480.5,405.2 482.0,405.9 C483.5,406.6 484.9,408.0 485.9,409.4 C486.8,410.8 487.4,412.9 487.7,414.3 C487.9,415.7 487.9,416.9 487.4,418.0 C486.9,419.1 486.2,420.0 484.9,420.6 C483.6,421.2 481.3,421.7 479.4,421.8 C477.5,421.9 475.5,421.6 473.3,421.4 C471.1,421.2 468.1,421.0 466.3,420.6 C464.6,420.2 464.0,419.7 462.8,418.9 C461.6,418.1 460.5,416.9 459.3,415.9 C458.1,414.8 457.1,413.6 455.8,412.6 C454.5,411.6 452.7,410.8 451.6,410.0 C450.5,409.2 449.7,408.2 449.4,407.6 C449.1,407.0 449.1,406.8 449.6,406.4Z" fill="#4b4b4d"/>
<circle cx="462.3" cy="403.4" r="2.0" fill="#4b4b4d"/>
<ellipse cx="464.4" cy="407" rx="2.7" ry="2.7" fill="#c99a9a"/>
<circle cx="456.4" cy="407.4" r="0.6" fill="#000"/>
<path d="M487.8,415.5 C491,414 494,411 496.5,407.5 C499,403.5 501.5,400.5 504.5,398.8 C506.5,397.8 508.5,397.3 510.6,397.2" fill="none" stroke="#dba8a8" stroke-width="0.8"/>
<path d="M458.5,422.3 L463.5,421.6 M460,421 L464.5,420.6 M473.5,423.3 L480,422.2 M475,422.5 L481.5,421.4" stroke="#dba8a8" stroke-width="0.9" fill="none"/>
<path d="M449.6,406.9 L449.2,404.5 M449.6,406.9 L448.4,405" stroke="#c9a0a0" stroke-width="0.5"/>
<text x="469.20" y="434.99" font-size="8.9" text-anchor="middle">C57BL/6J</text>
<text x="552.30" y="392.76" font-size="9.1" text-anchor="middle">MC38 subcutaneous injection</text>
<line x1="530.50" y1="393.50" x2="530.50" y2="407.50" stroke="#000" stroke-width="1.1" />
<polygon points="527.10,407.00 533.90,407.00 530.50,414.50" fill="#000"/>
<line x1="512.70" y1="418.30" x2="676.00" y2="418.30" stroke="#000" stroke-width="1.3" />
<polygon points="673.5,414.8 681,418.3 673.5,421.8" fill="#000"/>
<line x1="512.70" y1="412.80" x2="512.70" y2="418.30" stroke="#000" stroke-width="1.2" />
<line x1="530.50" y1="412.80" x2="530.50" y2="418.30" stroke="#000" stroke-width="1.2" />
<line x1="578.20" y1="412.80" x2="578.20" y2="418.30" stroke="#000" stroke-width="1.2" />
<line x1="629.20" y1="412.80" x2="629.20" y2="418.30" stroke="#000" stroke-width="1.2" />
<line x1="660.80" y1="412.80" x2="660.80" y2="418.30" stroke="#000" stroke-width="1.2" />
<text x="515.20" y="429.07" font-size="10.8" text-anchor="middle">-1</text>
<text x="530.50" y="429.07" font-size="10.8" text-anchor="middle">0</text>
<text x="578.20" y="429.07" font-size="10.8" text-anchor="middle">6</text>
<text x="629.50" y="429.07" font-size="10.8" text-anchor="middle">13</text>
<text x="660.80" y="429.07" font-size="10.8" text-anchor="middle">17</text>
<line x1="517.50" y1="437.00" x2="517.50" y2="442.60" stroke="#000" stroke-width="1.1" />
<polygon points="514.30,437.50 520.70,437.50 517.50,431.00" fill="#000"/>
<line x1="578.20" y1="437.00" x2="578.20" y2="442.60" stroke="#000" stroke-width="1.1" />
<polygon points="575.00,437.50 581.40,437.50 578.20,431.00" fill="#000"/>
<line x1="630.30" y1="437.00" x2="630.30" y2="442.60" stroke="#000" stroke-width="1.1" />
<polygon points="627.10,437.50 633.50,437.50 630.30,431.00" fill="#000"/>
<path d="M517.5,440.5 L517.5,447.3 Q517.5,449.8 520,449.8 L572.7,449.8 Q575.2,449.8 575.2,452.8 Q575.2,449.8 577.7,449.8 L628.5,449.8 Q631,449.8 631,447.3 L631,440.5" fill="none" stroke="#000" stroke-width="1.1"/>
<text x="582.00" y="464.39" font-size="9.2" text-anchor="middle">Anti-CD8α or IgG1 isotype</text>
<text x="582.50" y="475.59" font-size="9.2" text-anchor="middle">(i.p injection)</text>
<text x="0.00" y="518.88" font-size="10">J</text>
<line x1="38.60" y1="556.40" x2="38.60" y2="633.00" stroke="#000" stroke-width="1.1" />
<line x1="33.60" y1="556.40" x2="38.60" y2="556.40" stroke="#000" stroke-width="1.1" />
<text x="33.30" y="559.26" font-size="8.0" text-anchor="end">2000</text>
<line x1="33.60" y1="575.60" x2="38.60" y2="575.60" stroke="#000" stroke-width="1.1" />
<text x="33.30" y="578.46" font-size="8.0" text-anchor="end">1500</text>
<line x1="33.60" y1="594.60" x2="38.60" y2="594.60" stroke="#000" stroke-width="1.1" />
<text x="33.30" y="597.46" font-size="8.0" text-anchor="end">1000</text>
<line x1="33.60" y1="614.00" x2="38.60" y2="614.00" stroke="#000" stroke-width="1.1" />
<text x="33.30" y="616.86" font-size="8.0" text-anchor="end">500</text>
<line x1="33.60" y1="633.00" x2="38.60" y2="633.00" stroke="#000" stroke-width="1.1" />
<text x="34.00" y="638.58" font-size="8.6" text-anchor="end">0</text>
<line x1="38.60" y1="633.00" x2="160.80" y2="633.00" stroke="#000" stroke-width="1.1" />
<line x1="54.60" y1="633.00" x2="54.60" y2="636.00" stroke="#000" stroke-width="1.1" />
<text x="54.60" y="644.99" font-size="9.2" text-anchor="middle">5</text>
<line x1="79.30" y1="633.00" x2="79.30" y2="636.00" stroke="#000" stroke-width="1.1" />
<text x="79.30" y="644.99" font-size="9.2" text-anchor="middle">8</text>
<line x1="104.60" y1="633.00" x2="104.60" y2="636.00" stroke="#000" stroke-width="1.1" />
<text x="104.60" y="644.99" font-size="9.2" text-anchor="middle">11</text>
<line x1="129.30" y1="633.00" x2="129.30" y2="636.00" stroke="#000" stroke-width="1.1" />
<text x="129.30" y="644.99" font-size="9.2" text-anchor="middle">14</text>
<line x1="154.20" y1="633.00" x2="154.20" y2="636.00" stroke="#000" stroke-width="1.1" />
<text x="154.20" y="644.99" font-size="9.2" text-anchor="middle">17</text>
<text x="10.00" y="591.79" font-size="8.9" text-anchor="middle" transform="rotate(-90 10.00 588.60)">Tumor Volume(mm<tspan font-size="5.87" dy="-3.38">3</tspan><tspan dy="3.38">&#8203;</tspan>)</text>
<line x1="79.30" y1="616.50" x2="79.30" y2="620.50" stroke="#f7c4b0" stroke-width="0.9" />
<line x1="76.80" y1="616.50" x2="81.80" y2="616.50" stroke="#f7c4b0" stroke-width="0.9" />
<line x1="76.80" y1="620.50" x2="81.80" y2="620.50" stroke="#f7c4b0" stroke-width="0.9" />
<line x1="104.60" y1="600.00" x2="104.60" y2="607.30" stroke="#f7c4b0" stroke-width="0.9" />
<line x1="102.10" y1="600.00" x2="107.10" y2="600.00" stroke="#f7c4b0" stroke-width="0.9" />
<line x1="102.10" y1="607.30" x2="107.10" y2="607.30" stroke="#f7c4b0" stroke-width="0.9" />
<line x1="129.30" y1="585.00" x2="129.30" y2="598.10" stroke="#f7c4b0" stroke-width="0.9" />
<line x1="126.80" y1="585.00" x2="131.80" y2="585.00" stroke="#f7c4b0" stroke-width="0.9" />
<line x1="126.80" y1="598.10" x2="131.80" y2="598.10" stroke="#f7c4b0" stroke-width="0.9" />
<line x1="154.20" y1="569.20" x2="154.20" y2="585.00" stroke="#f7c4b0" stroke-width="0.9" />
<line x1="151.70" y1="569.20" x2="156.70" y2="569.20" stroke="#f7c4b0" stroke-width="0.9" />
<line x1="151.70" y1="585.00" x2="156.70" y2="585.00" stroke="#f7c4b0" stroke-width="0.9" />
<polyline points="54.60,628.30 79.30,618.30 104.60,603.40 129.30,591.50 154.20,577.10" stroke="#f6a88a" stroke-width="1.0" fill="none" />
<rect x="52.70" y="626.40" width="3.80" height="3.80" fill="#f6a88a"/>
<rect x="77.40" y="616.40" width="3.80" height="3.80" fill="#f6a88a"/>
<rect x="102.70" y="601.50" width="3.80" height="3.80" fill="#f6a88a"/>
<rect x="127.40" y="589.60" width="3.80" height="3.80" fill="#f6a88a"/>
<rect x="152.30" y="575.20" width="3.80" height="3.80" fill="#f6a88a"/>
<line x1="79.30" y1="618.00" x2="79.30" y2="622.00" stroke="#b5d8ec" stroke-width="0.9" />
<line x1="76.80" y1="618.00" x2="81.80" y2="618.00" stroke="#b5d8ec" stroke-width="0.9" />
<line x1="76.80" y1="622.00" x2="81.80" y2="622.00" stroke="#b5d8ec" stroke-width="0.9" />
<line x1="104.60" y1="602.00" x2="104.60" y2="610.00" stroke="#b5d8ec" stroke-width="0.9" />
<line x1="102.10" y1="602.00" x2="107.10" y2="602.00" stroke="#b5d8ec" stroke-width="0.9" />
<line x1="102.10" y1="610.00" x2="107.10" y2="610.00" stroke="#b5d8ec" stroke-width="0.9" />
<line x1="129.30" y1="586.30" x2="129.30" y2="602.00" stroke="#b5d8ec" stroke-width="0.9" />
<line x1="126.80" y1="586.30" x2="131.80" y2="586.30" stroke="#b5d8ec" stroke-width="0.9" />
<line x1="126.80" y1="602.00" x2="131.80" y2="602.00" stroke="#b5d8ec" stroke-width="0.9" />
<line x1="154.20" y1="574.50" x2="154.20" y2="592.80" stroke="#b5d8ec" stroke-width="0.9" />
<line x1="151.70" y1="574.50" x2="156.70" y2="574.50" stroke="#b5d8ec" stroke-width="0.9" />
<line x1="151.70" y1="592.80" x2="156.70" y2="592.80" stroke="#b5d8ec" stroke-width="0.9" />
<polyline points="54.60,628.60 79.30,619.90 104.60,606.00 129.30,594.20 154.20,582.90" stroke="#8cc0e0" stroke-width="1.0" fill="none" />
<circle cx="54.60" cy="628.60" r="0.01" fill="#8cc0e0"/>
<circle cx="79.30" cy="619.90" r="0.01" fill="#8cc0e0"/>
<circle cx="104.60" cy="606.00" r="0.01" fill="#8cc0e0"/>
<circle cx="129.30" cy="594.20" r="0.01" fill="#8cc0e0"/>
<circle cx="154.20" cy="582.90" r="0.01" fill="#8cc0e0"/>
<line x1="52.70" y1="628.60" x2="56.50" y2="628.60" stroke="#7fb8dc" stroke-width="1.0" />
<line x1="54.60" y1="626.70" x2="54.60" y2="630.50" stroke="#7fb8dc" stroke-width="1.0" />
<line x1="77.40" y1="619.90" x2="81.20" y2="619.90" stroke="#7fb8dc" stroke-width="1.0" />
<line x1="79.30" y1="618.00" x2="79.30" y2="621.80" stroke="#7fb8dc" stroke-width="1.0" />
<line x1="102.70" y1="606.00" x2="106.50" y2="606.00" stroke="#7fb8dc" stroke-width="1.0" />
<line x1="104.60" y1="604.10" x2="104.60" y2="607.90" stroke="#7fb8dc" stroke-width="1.0" />
<line x1="127.40" y1="594.20" x2="131.20" y2="594.20" stroke="#7fb8dc" stroke-width="1.0" />
<line x1="129.30" y1="592.30" x2="129.30" y2="596.10" stroke="#7fb8dc" stroke-width="1.0" />
<line x1="152.30" y1="582.90" x2="156.10" y2="582.90" stroke="#7fb8dc" stroke-width="1.0" />
<line x1="154.20" y1="581.00" x2="154.20" y2="584.80" stroke="#7fb8dc" stroke-width="1.0" />
<line x1="79.30" y1="621.50" x2="79.30" y2="625.70" stroke="#ff6a6a" stroke-width="0.9" />
<line x1="76.80" y1="621.50" x2="81.80" y2="621.50" stroke="#ff6a6a" stroke-width="0.9" />
<line x1="76.80" y1="625.70" x2="81.80" y2="625.70" stroke="#ff6a6a" stroke-width="0.9" />
<line x1="104.60" y1="611.20" x2="104.60" y2="620.40" stroke="#ff6a6a" stroke-width="0.9" />
<line x1="102.10" y1="611.20" x2="107.10" y2="611.20" stroke="#ff6a6a" stroke-width="0.9" />
<line x1="102.10" y1="620.40" x2="107.10" y2="620.40" stroke="#ff6a6a" stroke-width="0.9" />
<line x1="129.30" y1="607.80" x2="129.30" y2="617.30" stroke="#ff6a6a" stroke-width="0.9" />
<line x1="126.80" y1="607.80" x2="131.80" y2="607.80" stroke="#ff6a6a" stroke-width="0.9" />
<line x1="126.80" y1="617.30" x2="131.80" y2="617.30" stroke="#ff6a6a" stroke-width="0.9" />
<line x1="154.20" y1="598.60" x2="154.20" y2="611.20" stroke="#ff6a6a" stroke-width="0.9" />
<line x1="151.70" y1="598.60" x2="156.70" y2="598.60" stroke="#ff6a6a" stroke-width="0.9" />
<line x1="151.70" y1="611.20" x2="156.70" y2="611.20" stroke="#ff6a6a" stroke-width="0.9" />
<polyline points="54.60,628.80 79.30,623.60 104.60,616.00 129.30,612.50 154.20,605.20" stroke="#ff1010" stroke-width="1.0" fill="none" />
<circle cx="54.60" cy="628.80" r="2.00" fill="#ff1010"/>
<circle cx="79.30" cy="623.60" r="2.00" fill="#ff1010"/>
<circle cx="104.60" cy="616.00" r="2.00" fill="#ff1010"/>
<circle cx="129.30" cy="612.50" r="2.00" fill="#ff1010"/>
<circle cx="154.20" cy="605.20" r="2.00" fill="#ff1010"/>
<polyline points="54.60,629.60 79.30,627.50 104.60,626.20 129.30,624.40 154.20,622.30" stroke="#1010ff" stroke-width="1.0" fill="none" />
<polygon points="54.60,627.53 56.58,631.26 52.62,631.26" fill="#1010ff"/>
<polygon points="79.30,625.43 81.28,629.16 77.32,629.16" fill="#1010ff"/>
<polygon points="104.60,624.13 106.58,627.86 102.62,627.86" fill="#1010ff"/>
<polygon points="129.30,622.33 131.28,626.06 127.32,626.06" fill="#1010ff"/>
<polygon points="154.20,620.23 156.18,623.96 152.22,623.96" fill="#1010ff"/>
<line x1="158.20" y1="573.10" x2="158.20" y2="581.00" stroke="#000" stroke-width="1.8" />
<line x1="158.20" y1="603.40" x2="158.20" y2="621.70" stroke="#000" stroke-width="1.8" />
<text x="164.20" y="579.05" font-size="7.4" text-anchor="middle" transform="rotate(90 164.20 576.40)"><tspan font-style="italic">p</tspan>=0.2304</text>
<text x="164.20" y="618.15" font-size="7.4" text-anchor="middle" transform="rotate(90 164.20 615.50)"><tspan font-style="italic">p</tspan>&lt;0.0001</text>
<line x1="43.00" y1="529.70" x2="51.60" y2="529.70" stroke="#ff0000" stroke-width="1" />
<circle cx="47.30" cy="529.70" r="1.90" fill="#ff0000"/>
<text x="53.90" y="533.17" font-size="9.7">MC38<tspan font-size="6.4" dy="-3.69">WT</tspan><tspan dy="3.69">&#8203;</tspan>+IgG1</text>
<line x1="43.00" y1="544.20" x2="51.60" y2="544.20" stroke="#0000ff" stroke-width="1" />
<polygon points="47.30,542.02 49.39,545.95 45.21,545.95" fill="#0000ff"/>
<text x="53.90" y="547.67" font-size="9.7">MC38<tspan font-size="6.4" dy="-3.69">C278A</tspan><tspan dy="3.69">&#8203;</tspan> + IgG1</text>
<line x1="43.00" y1="558.60" x2="51.60" y2="558.60" stroke="#f6a88a" stroke-width="1" />
<rect x="45.40" y="556.70" width="3.80" height="3.80" fill="#f6a88a"/>
<text x="53.90" y="562.07" font-size="9.7">MC38<tspan font-size="6.4" dy="-3.69">WT</tspan><tspan dy="3.69">&#8203;</tspan>+ anti-CD8α</text>
<line x1="43.00" y1="573.00" x2="51.60" y2="573.00" stroke="#8cc0e0" stroke-width="1" />
<line x1="45.40" y1="573.00" x2="49.20" y2="573.00" stroke="#8cc0e0" stroke-width="1.0" />
<line x1="47.30" y1="571.10" x2="47.30" y2="574.90" stroke="#8cc0e0" stroke-width="1.0" />
<text x="53.90" y="576.47" font-size="9.7">MC38<tspan font-size="6.4" dy="-3.69">C278A</tspan><tspan dy="3.69">&#8203;</tspan>+ anti-CD8α</text>
<text x="178.50" y="518.58" font-size="10">K</text>
<line x1="226.80" y1="525.00" x2="226.80" y2="625.30" stroke="#000" stroke-width="1.1" />
<line x1="223.30" y1="525.00" x2="226.80" y2="525.00" stroke="#000" stroke-width="1.1" />
<text x="221.70" y="528.29" font-size="9.2" text-anchor="end">1.5</text>
<line x1="223.30" y1="558.30" x2="226.80" y2="558.30" stroke="#000" stroke-width="1.1" />
<text x="221.70" y="561.59" font-size="9.2" text-anchor="end">1.0</text>
<line x1="223.30" y1="592.00" x2="226.80" y2="592.00" stroke="#000" stroke-width="1.1" />
<text x="221.70" y="595.29" font-size="9.2" text-anchor="end">0.5</text>
<line x1="223.30" y1="625.30" x2="226.80" y2="625.30" stroke="#000" stroke-width="1.1" />
<text x="221.70" y="628.59" font-size="9.2" text-anchor="end">0.0</text>
<line x1="226.80" y1="625.30" x2="325.80" y2="625.30" stroke="#000" stroke-width="1.1" />
<line x1="241.70" y1="625.30" x2="241.70" y2="628.30" stroke="#000" stroke-width="1.1" />
<line x1="264.60" y1="625.30" x2="264.60" y2="628.30" stroke="#000" stroke-width="1.1" />
<line x1="287.70" y1="625.30" x2="287.70" y2="628.30" stroke="#000" stroke-width="1.1" />
<line x1="310.60" y1="625.30" x2="310.60" y2="628.30" stroke="#000" stroke-width="1.1" />
<text x="202.30" y="571.56" font-size="9.1" text-anchor="middle" transform="rotate(-90 202.30 568.30)">Tumor Weight(g)</text>
<line x1="233.70" y1="585.40" x2="249.70" y2="585.40" stroke="#ff1a1a" stroke-width="1.3" />
<line x1="241.70" y1="580.10" x2="241.70" y2="590.60" stroke="#ff1a1a" stroke-width="1.0" />
<line x1="237.70" y1="580.10" x2="245.70" y2="580.10" stroke="#ff1a1a" stroke-width="1.0" />
<line x1="237.70" y1="590.60" x2="245.70" y2="590.60" stroke="#ff1a1a" stroke-width="1.0" />
<circle cx="238.30" cy="580.60" r="1.80" fill="#ff1a1a"/>
<circle cx="245.20" cy="582.60" r="1.80" fill="#ff1a1a"/>
<circle cx="241.00" cy="586.70" r="1.80" fill="#ff1a1a"/>
<circle cx="243.20" cy="589.50" r="1.80" fill="#ff1a1a"/>
<circle cx="241.70" cy="592.20" r="1.80" fill="#ff1a1a"/>
<line x1="256.60" y1="605.10" x2="272.60" y2="605.10" stroke="#1a1aff" stroke-width="1.3" />
<line x1="264.60" y1="600.60" x2="264.60" y2="609.00" stroke="#1a1aff" stroke-width="1.0" />
<line x1="260.60" y1="600.60" x2="268.60" y2="600.60" stroke="#1a1aff" stroke-width="1.0" />
<line x1="260.60" y1="609.00" x2="268.60" y2="609.00" stroke="#1a1aff" stroke-width="1.0" />
<polygon points="263.00,598.23 264.98,601.96 261.02,601.96" fill="#1a1aff"/>
<polygon points="266.50,599.93 268.48,603.66 264.52,603.66" fill="#1a1aff"/>
<polygon points="262.00,603.43 263.98,607.16 260.02,607.16" fill="#1a1aff"/>
<polygon points="267.00,602.93 268.98,606.66 265.02,606.66" fill="#1a1aff"/>
<polygon points="264.60,607.43 266.58,611.16 262.62,611.16" fill="#1a1aff"/>
<line x1="279.70" y1="558.30" x2="295.70" y2="558.30" stroke="#f6a88a" stroke-width="1.3" />
<line x1="287.70" y1="551.20" x2="287.70" y2="565.20" stroke="#f6a88a" stroke-width="1.0" />
<line x1="283.70" y1="551.20" x2="291.70" y2="551.20" stroke="#f6a88a" stroke-width="1.0" />
<line x1="283.70" y1="565.20" x2="291.70" y2="565.20" stroke="#f6a88a" stroke-width="1.0" />
<rect x="286.00" y="547.80" width="3.40" height="3.40" fill="#f6a88a"/>
<rect x="282.80" y="553.30" width="3.40" height="3.40" fill="#f6a88a"/>
<rect x="289.30" y="554.30" width="3.40" height="3.40" fill="#f6a88a"/>
<rect x="286.00" y="559.80" width="3.40" height="3.40" fill="#f6a88a"/>
<rect x="284.30" y="565.00" width="3.40" height="3.40" fill="#f6a88a"/>
<line x1="302.60" y1="562.50" x2="318.60" y2="562.50" stroke="#8cc0e0" stroke-width="1.3" />
<line x1="310.60" y1="555.70" x2="310.60" y2="569.60" stroke="#8cc0e0" stroke-width="1.0" />
<line x1="306.60" y1="555.70" x2="314.60" y2="555.70" stroke="#8cc0e0" stroke-width="1.0" />
<line x1="306.60" y1="569.60" x2="314.60" y2="569.60" stroke="#8cc0e0" stroke-width="1.0" />
<circle cx="310.60" cy="553.50" r="1.50" fill="#8cc0e0"/>
<circle cx="307.00" cy="559.50" r="1.50" fill="#8cc0e0"/>
<circle cx="314.00" cy="561.50" r="1.50" fill="#8cc0e0"/>
<circle cx="310.60" cy="565.00" r="1.50" fill="#8cc0e0"/>
<circle cx="309.50" cy="570.50" r="1.50" fill="#8cc0e0"/>
<line x1="241.20" y1="514.50" x2="287.70" y2="514.50" stroke="#000" stroke-width="1.3" />
<text x="264.45" y="512.51" font-size="7" text-anchor="middle"><tspan font-style="italic">p</tspan>&lt;0.0001</text>
<line x1="263.60" y1="528.10" x2="310.60" y2="528.10" stroke="#000" stroke-width="1.3" />
<text x="287.10" y="524.81" font-size="7" text-anchor="middle"><tspan font-style="italic">p</tspan>&lt;0.0001</text>
<line x1="286.40" y1="541.50" x2="311.90" y2="541.50" stroke="#000" stroke-width="1.3" />
<text x="299.15" y="539.31" font-size="7" text-anchor="middle"><tspan font-style="italic">p</tspan>=0.6555</text>
<line x1="242.50" y1="570.20" x2="265.90" y2="570.20" stroke="#000" stroke-width="1.3" />
<text x="254.20" y="566.31" font-size="7" text-anchor="middle"><tspan font-style="italic">p</tspan>=0.0004</text>
<text x="229.50" y="640.67" font-size="9.4" text-anchor="end">IgG1</text>
<line x1="239.10" y1="637.30" x2="244.30" y2="637.30" stroke="#000" stroke-width="0.9" />
<line x1="241.70" y1="634.70" x2="241.70" y2="639.90" stroke="#000" stroke-width="0.9" />
<line x1="262.00" y1="637.30" x2="267.20" y2="637.30" stroke="#000" stroke-width="0.9" />
<line x1="264.60" y1="634.70" x2="264.60" y2="639.90" stroke="#000" stroke-width="0.9" />
<line x1="284.90" y1="637.30" x2="290.50" y2="637.30" stroke="#000" stroke-width="0.9" />
<line x1="307.80" y1="637.30" x2="313.40" y2="637.30" stroke="#000" stroke-width="0.9" />
<text x="229.50" y="653.77" font-size="9.4" text-anchor="end">anti-CD8α</text>
<line x1="238.90" y1="650.40" x2="244.50" y2="650.40" stroke="#000" stroke-width="0.9" />
<line x1="261.80" y1="650.40" x2="267.40" y2="650.40" stroke="#000" stroke-width="0.9" />
<line x1="285.10" y1="650.40" x2="290.30" y2="650.40" stroke="#000" stroke-width="0.9" />
<line x1="287.70" y1="647.80" x2="287.70" y2="653.00" stroke="#000" stroke-width="0.9" />
<line x1="308.00" y1="650.40" x2="313.20" y2="650.40" stroke="#000" stroke-width="0.9" />
<line x1="310.60" y1="647.80" x2="310.60" y2="653.00" stroke="#000" stroke-width="0.9" />
<text x="229.50" y="666.37" font-size="9.4" text-anchor="end">MC38<tspan font-size="6.2" dy="-3.57">WT</tspan><tspan dy="3.57">&#8203;</tspan></text>
<line x1="239.10" y1="663.00" x2="244.30" y2="663.00" stroke="#000" stroke-width="0.9" />
<line x1="241.70" y1="660.40" x2="241.70" y2="665.60" stroke="#000" stroke-width="0.9" />
<line x1="261.80" y1="663.00" x2="267.40" y2="663.00" stroke="#000" stroke-width="0.9" />
<line x1="285.10" y1="663.00" x2="290.30" y2="663.00" stroke="#000" stroke-width="0.9" />
<line x1="287.70" y1="660.40" x2="287.70" y2="665.60" stroke="#000" stroke-width="0.9" />
<line x1="307.80" y1="663.00" x2="313.40" y2="663.00" stroke="#000" stroke-width="0.9" />
<text x="237.80" y="678.97" font-size="9.4" text-anchor="end">MC38<tspan font-size="6.2" dy="-3.57">C278A</tspan><tspan dy="3.57">&#8203;</tspan></text>
<line x1="238.90" y1="675.60" x2="244.50" y2="675.60" stroke="#000" stroke-width="0.9" />
<line x1="262.00" y1="675.60" x2="267.20" y2="675.60" stroke="#000" stroke-width="0.9" />
<line x1="264.60" y1="673.00" x2="264.60" y2="678.20" stroke="#000" stroke-width="0.9" />
<line x1="284.90" y1="675.60" x2="290.50" y2="675.60" stroke="#000" stroke-width="0.9" />
<line x1="308.00" y1="675.60" x2="313.20" y2="675.60" stroke="#000" stroke-width="0.9" />
<line x1="310.60" y1="673.00" x2="310.60" y2="678.20" stroke="#000" stroke-width="0.9" />
<line x1="238.50" y1="675.60" x2="243.00" y2="675.60" stroke="#000" stroke-width="0.9" />
<text x="362.00" y="519.08" font-size="10">L</text>
<line x1="401.60" y1="551.30" x2="401.60" y2="624.60" stroke="#000" stroke-width="1.1" />
<line x1="398.10" y1="551.30" x2="401.60" y2="551.30" stroke="#000" stroke-width="1.1" />
<text x="397.50" y="554.49" font-size="8.9" text-anchor="end">2000</text>
<line x1="398.10" y1="570.00" x2="401.60" y2="570.00" stroke="#000" stroke-width="1.1" />
<text x="397.50" y="573.19" font-size="8.9" text-anchor="end">1500</text>
<line x1="398.10" y1="587.90" x2="401.60" y2="587.90" stroke="#000" stroke-width="1.1" />
<text x="397.50" y="591.09" font-size="8.9" text-anchor="end">1000</text>
<line x1="398.10" y1="606.60" x2="401.60" y2="606.60" stroke="#000" stroke-width="1.1" />
<text x="397.50" y="609.79" font-size="8.9" text-anchor="end">500</text>
<line x1="398.10" y1="624.60" x2="401.60" y2="624.60" stroke="#000" stroke-width="1.1" />
<text x="397.50" y="627.79" font-size="8.9" text-anchor="end">0</text>
<line x1="401.60" y1="624.60" x2="507.20" y2="624.60" stroke="#000" stroke-width="1.1" />
<line x1="408.40" y1="624.60" x2="408.40" y2="627.60" stroke="#000" stroke-width="1.1" />
<text x="408.40" y="636.83" font-size="9.3" text-anchor="middle">4</text>
<line x1="432.00" y1="624.60" x2="432.00" y2="627.60" stroke="#000" stroke-width="1.1" />
<text x="432.00" y="636.83" font-size="9.3" text-anchor="middle">7</text>
<line x1="456.20" y1="624.60" x2="456.20" y2="627.60" stroke="#000" stroke-width="1.1" />
<text x="456.20" y="636.83" font-size="9.3" text-anchor="middle">10</text>
<line x1="479.60" y1="624.60" x2="479.60" y2="627.60" stroke="#000" stroke-width="1.1" />
<text x="479.60" y="636.83" font-size="9.3" text-anchor="middle">13</text>
<line x1="503.20" y1="624.60" x2="503.20" y2="627.60" stroke="#000" stroke-width="1.1" />
<text x="503.20" y="636.83" font-size="9.3" text-anchor="middle">16</text>
<text x="457.00" y="646.13" font-size="9.3" text-anchor="middle">Days</text>
<text x="371.20" y="587.86" font-size="9.1" text-anchor="middle" transform="rotate(-90 371.20 584.60)">Tumor Volume(mm<tspan font-size="6.01" dy="-3.46">3</tspan><tspan dy="3.46">&#8203;</tspan>)</text>
<line x1="456.20" y1="608.50" x2="456.20" y2="614.30" stroke="#ff8080" stroke-width="0.9" />
<line x1="453.70" y1="608.50" x2="458.70" y2="608.50" stroke="#ff8080" stroke-width="0.9" />
<line x1="453.70" y1="614.30" x2="458.70" y2="614.30" stroke="#ff8080" stroke-width="0.9" />
<line x1="479.60" y1="594.20" x2="479.60" y2="605.00" stroke="#ff8080" stroke-width="0.9" />
<line x1="477.10" y1="594.20" x2="482.10" y2="594.20" stroke="#ff8080" stroke-width="0.9" />
<line x1="477.10" y1="605.00" x2="482.10" y2="605.00" stroke="#ff8080" stroke-width="0.9" />
<line x1="503.20" y1="563.40" x2="503.20" y2="585.60" stroke="#ff8080" stroke-width="0.9" />
<line x1="500.70" y1="563.40" x2="505.70" y2="563.40" stroke="#ff8080" stroke-width="0.9" />
<line x1="500.70" y1="585.60" x2="505.70" y2="585.60" stroke="#ff8080" stroke-width="0.9" />
<polyline points="408.40,624.30 432.00,620.60 456.20,611.30 479.60,599.60 503.20,574.60" stroke="#ff3a3a" stroke-width="1.0" fill="none" />
<polygon points="408.40,622.23 410.38,625.96 406.42,625.96" fill="#ff3a3a"/>
<polygon points="432.00,618.53 433.98,622.26 430.02,622.26" fill="#ff3a3a"/>
<polygon points="456.20,609.23 458.18,612.96 454.22,612.96" fill="#ff3a3a"/>
<polygon points="479.60,597.53 481.58,601.26 477.62,601.26" fill="#ff3a3a"/>
<polygon points="503.20,572.53 505.18,576.26 501.22,576.26" fill="#ff3a3a"/>
<line x1="456.20" y1="619.00" x2="456.20" y2="622.50" stroke="#7070ff" stroke-width="0.9" />
<line x1="453.70" y1="619.00" x2="458.70" y2="619.00" stroke="#7070ff" stroke-width="0.9" />
<line x1="453.70" y1="622.50" x2="458.70" y2="622.50" stroke="#7070ff" stroke-width="0.9" />
<line x1="479.60" y1="613.50" x2="479.60" y2="618.50" stroke="#7070ff" stroke-width="0.9" />
<line x1="477.10" y1="613.50" x2="482.10" y2="613.50" stroke="#7070ff" stroke-width="0.9" />
<line x1="477.10" y1="618.50" x2="482.10" y2="618.50" stroke="#7070ff" stroke-width="0.9" />
<line x1="503.20" y1="604.50" x2="503.20" y2="612.00" stroke="#7070ff" stroke-width="0.9" />
<line x1="500.70" y1="604.50" x2="505.70" y2="604.50" stroke="#7070ff" stroke-width="0.9" />
<line x1="500.70" y1="612.00" x2="505.70" y2="612.00" stroke="#7070ff" stroke-width="0.9" />
<polyline points="408.40,624.30 432.00,623.00 456.20,620.60 479.60,616.00 503.20,608.20" stroke="#2a2aff" stroke-width="1.0" fill="none" />
<rect x="406.60" y="622.50" width="3.60" height="3.60" fill="#2a2aff"/>
<rect x="430.20" y="621.20" width="3.60" height="3.60" fill="#2a2aff"/>
<rect x="454.40" y="618.80" width="3.60" height="3.60" fill="#2a2aff"/>
<rect x="477.80" y="614.20" width="3.60" height="3.60" fill="#2a2aff"/>
<rect x="501.40" y="606.40" width="3.60" height="3.60" fill="#2a2aff"/>
<line x1="479.60" y1="618.50" x2="479.60" y2="622.00" stroke="#555" stroke-width="0.9" />
<line x1="477.10" y1="618.50" x2="482.10" y2="618.50" stroke="#555" stroke-width="0.9" />
<line x1="477.10" y1="622.00" x2="482.10" y2="622.00" stroke="#555" stroke-width="0.9" />
<line x1="503.20" y1="615.50" x2="503.20" y2="621.50" stroke="#555" stroke-width="0.9" />
<line x1="500.70" y1="615.50" x2="505.70" y2="615.50" stroke="#555" stroke-width="0.9" />
<line x1="500.70" y1="621.50" x2="505.70" y2="621.50" stroke="#555" stroke-width="0.9" />
<polyline points="408.40,624.60 432.00,623.70 456.20,622.50 479.60,620.20 503.20,618.30" stroke="#111" stroke-width="1.0" fill="none" />
<circle cx="408.40" cy="624.60" r="1.70" fill="#111"/>
<circle cx="432.00" cy="623.70" r="1.70" fill="#111"/>
<circle cx="456.20" cy="622.50" r="1.70" fill="#111"/>
<circle cx="479.60" cy="620.20" r="1.70" fill="#111"/>
<circle cx="503.20" cy="618.30" r="1.70" fill="#111"/>
<line x1="506.00" y1="570.30" x2="506.00" y2="605.10" stroke="#c8c8c8" stroke-width="1.3" />
<line x1="508.40" y1="606.60" x2="508.40" y2="618.20" stroke="#555" stroke-width="1.1" />
<text x="512.80" y="584.37" font-size="6.9" text-anchor="middle" transform="rotate(90 512.80 581.90)"><tspan font-style="italic">p</tspan>&lt;0.0001</text>
<text x="517.60" y="616.77" font-size="6.9" text-anchor="middle" transform="rotate(90 517.60 614.30)"><tspan font-style="italic">p</tspan>=0.0001</text>
<line x1="411.00" y1="534.70" x2="418.80" y2="534.70" stroke="#000" stroke-width="1" />
<circle cx="414.90" cy="534.70" r="1.80" fill="#000"/>
<text x="419.60" y="538.17" font-size="9.7">MC38<tspan font-size="6.4" dy="-3.69">KO</tspan><tspan dy="3.69">&#8203;</tspan></text>
<line x1="411.00" y1="551.70" x2="418.80" y2="551.70" stroke="#ff3a3a" stroke-width="1" />
<polygon points="414.90,549.63 416.88,553.36 412.92,553.36" fill="#ff3a3a"/>
<text x="419.60" y="555.17" font-size="9.7">MC38<tspan font-size="6.4" dy="-3.69">WT</tspan><tspan dy="3.69">&#8203;</tspan></text>
<line x1="411.00" y1="567.40" x2="418.80" y2="567.40" stroke="#2a2aff" stroke-width="1" />
<rect x="413.10" y="565.60" width="3.60" height="3.60" fill="#2a2aff"/>
<text x="419.60" y="570.87" font-size="9.7">MC38<tspan font-size="6.4" dy="-3.69">C278A</tspan><tspan dy="3.69">&#8203;</tspan></text>
<text x="518.00" y="518.98" font-size="10">M</text>
<line x1="573.30" y1="519.10" x2="573.30" y2="634.50" stroke="#000" stroke-width="1.1" />
<line x1="568.30" y1="519.10" x2="573.30" y2="519.10" stroke="#000" stroke-width="1.1" />
<text x="561.00" y="522.25" font-size="8.8" text-anchor="end">1.5</text>
<line x1="568.30" y1="557.70" x2="573.30" y2="557.70" stroke="#000" stroke-width="1.1" />
<text x="561.00" y="560.85" font-size="8.8" text-anchor="end">1.0</text>
<line x1="568.30" y1="596.30" x2="573.30" y2="596.30" stroke="#000" stroke-width="1.1" />
<text x="561.00" y="599.45" font-size="8.8" text-anchor="end">0.5</text>
<line x1="568.30" y1="634.50" x2="573.30" y2="634.50" stroke="#000" stroke-width="1.1" />
<text x="561.00" y="637.65" font-size="8.8" text-anchor="end">0.0</text>
<line x1="568.20" y1="634.50" x2="666.80" y2="634.50" stroke="#000" stroke-width="1.1" />
<line x1="592.50" y1="634.50" x2="592.50" y2="638.00" stroke="#000" stroke-width="1.1" />
<line x1="619.90" y1="634.50" x2="619.90" y2="638.00" stroke="#000" stroke-width="1.1" />
<line x1="648.10" y1="634.50" x2="648.10" y2="638.00" stroke="#000" stroke-width="1.1" />
<text x="541.40" y="582.12" font-size="9.0" text-anchor="middle" transform="rotate(-90 541.40 578.90)">Tumor Weight(g)</text>
<text x="568.80" y="650.29" font-size="8.9">MC38<tspan font-size="5.87" dy="-3.38">KO</tspan><tspan dy="3.38">&#8203;</tspan></text>
<text x="606.50" y="650.29" font-size="8.9">MC38<tspan font-size="5.87" dy="-3.38">WT</tspan><tspan dy="3.38">&#8203;</tspan></text>
<text x="641.80" y="650.29" font-size="8.9">MC38<tspan font-size="5.87" dy="-3.38">C278A</tspan><tspan dy="3.38">&#8203;</tspan></text>
<line x1="583.50" y1="621.00" x2="601.50" y2="621.00" stroke="#000" stroke-width="1.3" />
<line x1="592.50" y1="615.50" x2="592.50" y2="624.60" stroke="#000" stroke-width="1.0" />
<line x1="588.40" y1="615.50" x2="596.60" y2="615.50" stroke="#000" stroke-width="1.0" />
<line x1="588.40" y1="624.60" x2="596.60" y2="624.60" stroke="#000" stroke-width="1.0" />
<circle cx="592.50" cy="615.50" r="1.50" fill="#000"/>
<circle cx="589.00" cy="620.50" r="1.50" fill="#000"/>
<circle cx="596.00" cy="621.00" r="1.50" fill="#000"/>
<circle cx="592.50" cy="624.50" r="1.50" fill="#000"/>
<line x1="610.80" y1="557.30" x2="628.80" y2="557.30" stroke="#f03a3a" stroke-width="1.3" />
<line x1="619.80" y1="547.60" x2="619.80" y2="566.70" stroke="#f03a3a" stroke-width="1.0" />
<line x1="615.30" y1="547.60" x2="624.30" y2="547.60" stroke="#f03a3a" stroke-width="1.0" />
<line x1="615.30" y1="566.70" x2="624.30" y2="566.70" stroke="#f03a3a" stroke-width="1.0" />
<polygon points="619.80,544.52 621.12,547.00 618.48,547.00" fill="#f03a3a"/>
<polygon points="619.80,551.62 621.12,554.10 618.48,554.10" fill="#f03a3a"/>
<polygon points="619.80,560.22 621.12,562.70 618.48,562.70" fill="#f03a3a"/>
<polygon points="619.80,570.22 621.12,572.70 618.48,572.70" fill="#f03a3a"/>
<line x1="638.90" y1="603.10" x2="657.30" y2="603.10" stroke="#1a1aff" stroke-width="1.3" />
<line x1="648.10" y1="598.20" x2="648.10" y2="607.90" stroke="#1a1aff" stroke-width="1.0" />
<line x1="644.10" y1="598.20" x2="652.10" y2="598.20" stroke="#1a1aff" stroke-width="1.0" />
<line x1="644.10" y1="607.90" x2="652.10" y2="607.90" stroke="#1a1aff" stroke-width="1.0" />
<rect x="646.60" y="597.00" width="3.00" height="3.00" fill="#1a1aff"/>
<rect x="644.00" y="602.00" width="3.00" height="3.00" fill="#1a1aff"/>
<rect x="649.20" y="602.00" width="3.00" height="3.00" fill="#1a1aff"/>
<rect x="646.60" y="606.00" width="3.00" height="3.00" fill="#1a1aff"/>
<line x1="588.20" y1="525.40" x2="622.90" y2="525.40" stroke="#000" stroke-width="1.3" />
<text x="605.55" y="521.41" font-size="7" text-anchor="middle"><tspan font-style="italic">p</tspan>&lt;0.0001</text>
<line x1="618.70" y1="539.70" x2="653.00" y2="539.70" stroke="#000" stroke-width="1.3" />
<text x="635.85" y="535.91" font-size="7" text-anchor="middle"><tspan font-style="italic">p</tspan>&lt;0.0001</text>
<text x="0.00" y="692.38" font-size="10">N</text>
<line x1="40.50" y1="696.40" x2="40.50" y2="808.10" stroke="#000" stroke-width="1.1" />
<line x1="36.10" y1="696.40" x2="40.50" y2="696.40" stroke="#000" stroke-width="1.1" />
<text x="33.10" y="699.84" font-size="9.6" text-anchor="end">50</text>
<line x1="36.10" y1="724.40" x2="40.50" y2="724.40" stroke="#000" stroke-width="1.1" />
<text x="33.10" y="727.84" font-size="9.6" text-anchor="end">40</text>
<line x1="36.10" y1="752.30" x2="40.50" y2="752.30" stroke="#000" stroke-width="1.1" />
<text x="33.10" y="755.74" font-size="9.6" text-anchor="end">30</text>
<line x1="36.10" y1="780.30" x2="40.50" y2="780.30" stroke="#000" stroke-width="1.1" />
<text x="33.10" y="783.74" font-size="9.6" text-anchor="end">20</text>
<line x1="36.10" y1="808.10" x2="40.50" y2="808.10" stroke="#000" stroke-width="1.1" />
<text x="33.10" y="811.54" font-size="9.6" text-anchor="end">10</text>
<line x1="40.50" y1="808.10" x2="129.20" y2="808.10" stroke="#000" stroke-width="1.1" />
<line x1="58.00" y1="808.10" x2="58.00" y2="811.60" stroke="#000" stroke-width="1.1" />
<line x1="84.30" y1="808.10" x2="84.30" y2="811.60" stroke="#000" stroke-width="1.1" />
<line x1="111.70" y1="808.10" x2="111.70" y2="811.60" stroke="#000" stroke-width="1.1" />
<text x="14.20" y="757.40" font-size="9.5" text-anchor="middle" transform="rotate(-90 14.20 754.00)">CD8<tspan font-size="6.27" dy="-3.61">+</tspan><tspan dy="3.61">&#8203;</tspan> of CD45<tspan font-size="6.27" dy="-3.61">+</tspan><tspan dy="3.61">&#8203;</tspan> TIL  Cells (%)</text>
<line x1="49.25" y1="708.50" x2="66.75" y2="708.50" stroke="#000" stroke-width="1.3" />
<line x1="58.00" y1="701.90" x2="58.00" y2="715.00" stroke="#000" stroke-width="1.0" />
<line x1="53.60" y1="701.90" x2="62.40" y2="701.90" stroke="#000" stroke-width="1.0" />
<line x1="53.60" y1="715.00" x2="62.40" y2="715.00" stroke="#000" stroke-width="1.0" />
<circle cx="58.00" cy="700.50" r="1.60" fill="#000"/>
<circle cx="55.00" cy="705.50" r="1.60" fill="#000"/>
<circle cx="61.00" cy="709.00" r="1.60" fill="#000"/>
<circle cx="57.00" cy="713.50" r="1.60" fill="#000"/>
<circle cx="61.50" cy="714.30" r="1.60" fill="#000"/>
<line x1="75.55" y1="771.50" x2="93.05" y2="771.50" stroke="#ff1a1a" stroke-width="1.3" />
<line x1="84.30" y1="766.00" x2="84.30" y2="776.30" stroke="#ff1a1a" stroke-width="1.0" />
<line x1="79.90" y1="766.00" x2="88.70" y2="766.00" stroke="#ff1a1a" stroke-width="1.0" />
<line x1="79.90" y1="776.30" x2="88.70" y2="776.30" stroke="#ff1a1a" stroke-width="1.0" />
<polygon points="84.30,764.66 86.06,767.97 82.54,767.97" fill="#ff1a1a"/>
<polygon points="81.50,767.46 83.26,770.77 79.74,770.77" fill="#ff1a1a"/>
<polygon points="86.00,767.96 87.76,771.27 84.24,771.27" fill="#ff1a1a"/>
<polygon points="84.30,773.66 86.06,776.97 82.54,776.97" fill="#ff1a1a"/>
<polygon points="81.80,771.16 83.56,774.47 80.04,774.47" fill="#ff1a1a"/>
<line x1="102.95" y1="743.50" x2="120.45" y2="743.50" stroke="#1a1aff" stroke-width="1.3" />
<line x1="111.70" y1="737.40" x2="111.70" y2="750.00" stroke="#1a1aff" stroke-width="1.0" />
<line x1="107.30" y1="737.40" x2="116.10" y2="737.40" stroke="#1a1aff" stroke-width="1.0" />
<line x1="107.30" y1="750.00" x2="116.10" y2="750.00" stroke="#1a1aff" stroke-width="1.0" />
<circle cx="111.70" cy="735.50" r="1.70" fill="#1a1aff"/>
<circle cx="108.50" cy="742.40" r="1.70" fill="#1a1aff"/>
<circle cx="114.00" cy="741.00" r="1.70" fill="#1a1aff"/>
<circle cx="110.60" cy="746.80" r="1.70" fill="#1a1aff"/>
<circle cx="111.70" cy="750.00" r="1.70" fill="#1a1aff"/>
<line x1="55.80" y1="695.80" x2="85.00" y2="695.80" stroke="#000" stroke-width="1.3" />
<text x="70.40" y="692.41" font-size="7" text-anchor="middle"><tspan font-style="italic">p</tspan>&lt;0.0001</text>
<line x1="82.80" y1="729.70" x2="112.10" y2="729.70" stroke="#000" stroke-width="1.3" />
<text x="97.45" y="725.21" font-size="7" text-anchor="middle"><tspan font-style="italic">p</tspan>&lt;0.0001</text>
<text x="34.00" y="821.13" font-size="9.3">MC38<tspan font-size="6.14" dy="-3.53">KO</tspan><tspan dy="3.53">&#8203;</tspan></text>
<text x="69.00" y="821.13" font-size="9.3">MC38<tspan font-size="6.14" dy="-3.53">WT</tspan><tspan dy="3.53">&#8203;</tspan></text>
<text x="103.40" y="821.13" font-size="9.3">MC38<tspan font-size="6.14" dy="-3.53">C278A</tspan><tspan dy="3.53">&#8203;</tspan></text>
<text x="145.00" y="691.28" font-size="10">P</text>
<line x1="200.20" y1="694.60" x2="200.20" y2="808.60" stroke="#000" stroke-width="1.1" />
<line x1="194.20" y1="694.60" x2="200.20" y2="694.60" stroke="#000" stroke-width="1.1" />
<text x="189.90" y="697.89" font-size="9.2" text-anchor="end">80</text>
<line x1="194.20" y1="723.50" x2="200.20" y2="723.50" stroke="#000" stroke-width="1.1" />
<text x="189.90" y="726.79" font-size="9.2" text-anchor="end">60</text>
<line x1="194.20" y1="751.60" x2="200.20" y2="751.60" stroke="#000" stroke-width="1.1" />
<text x="189.90" y="754.89" font-size="9.2" text-anchor="end">40</text>
<line x1="194.20" y1="780.20" x2="200.20" y2="780.20" stroke="#000" stroke-width="1.1" />
<text x="189.90" y="783.49" font-size="9.2" text-anchor="end">20</text>
<line x1="194.20" y1="808.60" x2="200.20" y2="808.60" stroke="#000" stroke-width="1.1" />
<text x="189.90" y="811.89" font-size="9.2" text-anchor="end">0</text>
<line x1="194.00" y1="808.60" x2="294.90" y2="808.60" stroke="#000" stroke-width="1.1" />
<line x1="219.20" y1="808.60" x2="219.20" y2="813.10" stroke="#000" stroke-width="1.1" />
<line x1="247.60" y1="808.60" x2="247.60" y2="813.10" stroke="#000" stroke-width="1.1" />
<line x1="275.70" y1="808.60" x2="275.70" y2="813.10" stroke="#000" stroke-width="1.1" />
<text x="168.90" y="760.40" font-size="8.1" text-anchor="middle" transform="rotate(-90 168.90 757.50)">Mean CD8<tspan font-size="5.35" dy="-3.08">+</tspan><tspan dy="3.08">&#8203;</tspan>/CD45<tspan font-size="5.35" dy="-3.08">+</tspan><tspan dy="3.08">&#8203;</tspan> TILs per tumor (%)</text>
<line x1="209.70" y1="731.40" x2="228.70" y2="731.40" stroke="#000" stroke-width="1.3" />
<line x1="219.20" y1="727.30" x2="219.20" y2="735.20" stroke="#000" stroke-width="1.0" />
<line x1="214.80" y1="727.30" x2="223.60" y2="727.30" stroke="#000" stroke-width="1.0" />
<line x1="214.80" y1="735.20" x2="223.60" y2="735.20" stroke="#000" stroke-width="1.0" />
<circle cx="217.00" cy="727.50" r="1.50" fill="#000"/>
<circle cx="221.50" cy="727.80" r="1.50" fill="#000"/>
<circle cx="216.80" cy="735.20" r="1.50" fill="#000"/>
<circle cx="221.50" cy="735.20" r="1.50" fill="#000"/>
<circle cx="219.20" cy="731.00" r="1.50" fill="#000"/>
<line x1="238.10" y1="777.60" x2="257.10" y2="777.60" stroke="#ff3030" stroke-width="1.3" />
<line x1="247.60" y1="770.30" x2="247.60" y2="786.30" stroke="#ff3030" stroke-width="1.0" />
<line x1="243.25" y1="770.30" x2="251.95" y2="770.30" stroke="#ff3030" stroke-width="1.0" />
<line x1="243.25" y1="786.30" x2="251.95" y2="786.30" stroke="#ff3030" stroke-width="1.0" />
<polygon points="247.60,764.98 249.25,768.08 245.95,768.08" fill="#ff3030"/>
<polygon points="244.30,775.48 245.95,778.58 242.65,778.58" fill="#ff3030"/>
<polygon points="250.80,774.67 252.45,777.78 249.15,777.78" fill="#ff3030"/>
<polygon points="244.30,784.57 245.95,787.68 242.65,787.68" fill="#ff3030"/>
<polygon points="250.80,783.48 252.45,786.58 249.15,786.58" fill="#ff3030"/>
<line x1="266.20" y1="758.40" x2="285.20" y2="758.40" stroke="#1a1aff" stroke-width="1.3" />
<line x1="275.70" y1="753.10" x2="275.70" y2="763.20" stroke="#1a1aff" stroke-width="1.0" />
<line x1="271.35" y1="753.10" x2="280.05" y2="753.10" stroke="#1a1aff" stroke-width="1.0" />
<line x1="271.35" y1="763.20" x2="280.05" y2="763.20" stroke="#1a1aff" stroke-width="1.0" />
<circle cx="275.70" cy="751.50" r="1.60" fill="#1a1aff"/>
<circle cx="275.70" cy="754.70" r="1.60" fill="#1a1aff"/>
<circle cx="274.00" cy="759.50" r="1.60" fill="#1a1aff"/>
<circle cx="277.30" cy="759.50" r="1.60" fill="#1a1aff"/>
<circle cx="275.70" cy="763.50" r="1.60" fill="#1a1aff"/>
<line x1="217.80" y1="703.60" x2="248.00" y2="703.60" stroke="#000" stroke-width="1.3" />
<text x="232.90" y="699.41" font-size="7" text-anchor="middle"><tspan font-style="italic">p</tspan>&lt;0.0001</text>
<line x1="244.80" y1="734.60" x2="274.90" y2="734.60" stroke="#000" stroke-width="1.3" />
<text x="259.85" y="730.71" font-size="7" text-anchor="middle"><tspan font-style="italic">p</tspan> =0.0004</text>
<text x="197.70" y="823.79" font-size="9.2">MC38<tspan font-size="6.07" dy="-3.50">KO</tspan><tspan dy="3.50">&#8203;</tspan></text>
<text x="233.60" y="823.79" font-size="9.2">MC38<tspan font-size="6.07" dy="-3.50">WT</tspan><tspan dy="3.50">&#8203;</tspan></text>
<text x="269.20" y="823.79" font-size="9.2">MC38<tspan font-size="6.07" dy="-3.50">C278A</tspan><tspan dy="3.50">&#8203;</tspan></text>
<text x="315.60" y="694.78" font-size="10">Q</text>
<line x1="359.10" y1="694.10" x2="359.10" y2="807.30" stroke="#000" stroke-width="1.1" />
<line x1="351.70" y1="694.10" x2="359.10" y2="694.10" stroke="#000" stroke-width="1.1" />
<text x="351.40" y="697.54" font-size="9.6" text-anchor="end">60</text>
<line x1="351.70" y1="731.80" x2="359.10" y2="731.80" stroke="#000" stroke-width="1.1" />
<text x="351.40" y="735.24" font-size="9.6" text-anchor="end">40</text>
<line x1="351.70" y1="769.50" x2="359.10" y2="769.50" stroke="#000" stroke-width="1.1" />
<text x="351.40" y="772.94" font-size="9.6" text-anchor="end">20</text>
<line x1="351.70" y1="807.30" x2="359.10" y2="807.30" stroke="#000" stroke-width="1.1" />
<text x="351.40" y="810.74" font-size="9.6" text-anchor="end">0</text>
<line x1="351.70" y1="807.30" x2="460.70" y2="807.30" stroke="#000" stroke-width="1.1" />
<line x1="379.40" y1="807.30" x2="379.40" y2="810.80" stroke="#000" stroke-width="1.1" />
<line x1="409.70" y1="807.30" x2="409.70" y2="810.80" stroke="#000" stroke-width="1.1" />
<line x1="440.10" y1="807.30" x2="440.10" y2="810.80" stroke="#000" stroke-width="1.1" />
<text x="329.30" y="755.42" font-size="9.0" text-anchor="middle" transform="rotate(-90 329.30 752.20)">GZMB in CD8<tspan font-size="5.94" dy="-3.42">+</tspan><tspan dy="3.42">&#8203;</tspan> T Cell  (%)</text>
<line x1="368.90" y1="724.40" x2="389.90" y2="724.40" stroke="#000" stroke-width="1.3" />
<line x1="379.40" y1="721.60" x2="379.40" y2="727.90" stroke="#000" stroke-width="1.0" />
<line x1="375.40" y1="721.60" x2="383.40" y2="721.60" stroke="#000" stroke-width="1.0" />
<line x1="375.40" y1="727.90" x2="383.40" y2="727.90" stroke="#000" stroke-width="1.0" />
<circle cx="378.00" cy="721.50" r="1.60" fill="#000"/>
<circle cx="381.50" cy="721.80" r="1.60" fill="#000"/>
<circle cx="377.00" cy="726.50" r="1.60" fill="#000"/>
<circle cx="382.50" cy="725.50" r="1.60" fill="#000"/>
<line x1="399.20" y1="766.40" x2="420.20" y2="766.40" stroke="#f03a3a" stroke-width="1.3" />
<line x1="409.70" y1="756.60" x2="409.70" y2="775.30" stroke="#f03a3a" stroke-width="1.0" />
<line x1="405.70" y1="756.60" x2="413.70" y2="756.60" stroke="#f03a3a" stroke-width="1.0" />
<line x1="405.70" y1="775.30" x2="413.70" y2="775.30" stroke="#f03a3a" stroke-width="1.0" />
<circle cx="410.00" cy="758.00" r="1.30" fill="#f03a3a"/>
<circle cx="403.50" cy="762.50" r="1.30" fill="#f03a3a"/>
<circle cx="409.70" cy="763.50" r="1.30" fill="#f03a3a"/>
<circle cx="415.50" cy="763.00" r="1.30" fill="#f03a3a"/>
<circle cx="409.70" cy="782.50" r="1.30" fill="#f03a3a"/>
<line x1="429.60" y1="743.80" x2="450.60" y2="743.80" stroke="#1a1aff" stroke-width="1.3" />
<line x1="440.10" y1="741.20" x2="440.10" y2="746.10" stroke="#1a1aff" stroke-width="1.0" />
<line x1="436.10" y1="741.20" x2="444.10" y2="741.20" stroke="#1a1aff" stroke-width="1.0" />
<line x1="436.10" y1="746.10" x2="444.10" y2="746.10" stroke="#1a1aff" stroke-width="1.0" />
<circle cx="437.00" cy="741.00" r="1.60" fill="#1a1aff"/>
<circle cx="443.00" cy="741.00" r="1.60" fill="#1a1aff"/>
<circle cx="437.50" cy="746.50" r="1.60" fill="#1a1aff"/>
<circle cx="442.50" cy="746.50" r="1.60" fill="#1a1aff"/>
<circle cx="440.10" cy="744.00" r="1.60" fill="#1a1aff"/>
<line x1="377.70" y1="699.90" x2="410.90" y2="699.90" stroke="#000" stroke-width="1.3" />
<text x="394.30" y="697.01" font-size="7" text-anchor="middle"><tspan font-style="italic">p</tspan>&lt;0.0001</text>
<line x1="410.90" y1="727.40" x2="444.30" y2="727.40" stroke="#000" stroke-width="1.3" />
<text x="427.60" y="725.01" font-size="7" text-anchor="middle"><tspan font-style="italic">p</tspan>=0.0002</text>
<text x="366.00" y="820.03" font-size="9.3">MC38<tspan font-size="6.14" dy="-3.53">KO</tspan><tspan dy="3.53">&#8203;</tspan></text>
<text x="401.00" y="820.03" font-size="9.3">MC38<tspan font-size="6.14" dy="-3.53">WT</tspan><tspan dy="3.53">&#8203;</tspan></text>
<text x="438.50" y="820.03" font-size="9.3">MC38<tspan font-size="6.14" dy="-3.53">C278A</tspan><tspan dy="3.53">&#8203;</tspan></text>
<text x="314.60" y="842.88" font-size="10">R</text>
<line x1="360.10" y1="841.40" x2="360.10" y2="956.30" stroke="#000" stroke-width="1.1" />
<line x1="354.10" y1="841.40" x2="360.10" y2="841.40" stroke="#000" stroke-width="1.1" />
<text x="352.90" y="844.84" font-size="9.6" text-anchor="end">80</text>
<line x1="354.10" y1="870.50" x2="360.10" y2="870.50" stroke="#000" stroke-width="1.1" />
<text x="352.90" y="873.94" font-size="9.6" text-anchor="end">60</text>
<line x1="354.10" y1="899.30" x2="360.10" y2="899.30" stroke="#000" stroke-width="1.1" />
<text x="352.90" y="902.74" font-size="9.6" text-anchor="end">40</text>
<line x1="354.10" y1="928.20" x2="360.10" y2="928.20" stroke="#000" stroke-width="1.1" />
<text x="352.90" y="931.64" font-size="9.6" text-anchor="end">20</text>
<line x1="354.10" y1="956.30" x2="360.10" y2="956.30" stroke="#000" stroke-width="1.1" />
<text x="352.90" y="959.74" font-size="9.6" text-anchor="end">0</text>
<line x1="354.00" y1="956.30" x2="454.00" y2="956.30" stroke="#000" stroke-width="1.1" />
<line x1="380.10" y1="956.30" x2="380.10" y2="959.80" stroke="#000" stroke-width="1.1" />
<line x1="410.50" y1="956.30" x2="410.50" y2="959.80" stroke="#000" stroke-width="1.1" />
<line x1="440.90" y1="956.30" x2="440.90" y2="959.80" stroke="#000" stroke-width="1.1" />
<text x="331.30" y="904.22" font-size="9.0" text-anchor="middle" transform="rotate(-90 331.30 901.00)">IFN-γ in CD8<tspan font-size="5.94" dy="-3.42">+</tspan><tspan dy="3.42">&#8203;</tspan> T Cell  (%)</text>
<line x1="369.60" y1="879.50" x2="390.60" y2="879.50" stroke="#000" stroke-width="1.3" />
<line x1="380.10" y1="870.20" x2="380.10" y2="889.10" stroke="#000" stroke-width="1.0" />
<line x1="376.10" y1="870.20" x2="384.10" y2="870.20" stroke="#000" stroke-width="1.0" />
<line x1="376.10" y1="889.10" x2="384.10" y2="889.10" stroke="#000" stroke-width="1.0" />
<circle cx="380.10" cy="866.50" r="1.60" fill="#000"/>
<circle cx="380.10" cy="876.00" r="1.60" fill="#000"/>
<circle cx="380.10" cy="882.50" r="1.60" fill="#000"/>
<circle cx="380.10" cy="893.00" r="1.60" fill="#000"/>
<line x1="400.00" y1="944.90" x2="421.00" y2="944.90" stroke="#f03a3a" stroke-width="1.3" />
<line x1="410.50" y1="942.10" x2="410.50" y2="948.00" stroke="#f03a3a" stroke-width="1.0" />
<line x1="406.50" y1="942.10" x2="414.50" y2="942.10" stroke="#f03a3a" stroke-width="1.0" />
<line x1="406.50" y1="948.00" x2="414.50" y2="948.00" stroke="#f03a3a" stroke-width="1.0" />
<polygon points="406.50,941.27 408.15,944.38 404.85,944.38" fill="#f03a3a"/>
<polygon points="410.50,939.77 412.15,942.88 408.85,942.88" fill="#f03a3a"/>
<polygon points="414.50,941.77 416.15,944.88 412.85,944.88" fill="#f03a3a"/>
<polygon points="410.50,945.77 412.15,948.88 408.85,948.88" fill="#f03a3a"/>
<line x1="430.40" y1="930.40" x2="451.40" y2="930.40" stroke="#1a1aff" stroke-width="1.3" />
<line x1="440.90" y1="927.60" x2="440.90" y2="932.80" stroke="#1a1aff" stroke-width="1.0" />
<line x1="436.90" y1="927.60" x2="444.90" y2="927.60" stroke="#1a1aff" stroke-width="1.0" />
<line x1="436.90" y1="932.80" x2="444.90" y2="932.80" stroke="#1a1aff" stroke-width="1.0" />
<circle cx="437.50" cy="929.50" r="1.70" fill="#1a1aff"/>
<circle cx="440.90" cy="926.50" r="1.70" fill="#1a1aff"/>
<circle cx="444.50" cy="929.50" r="1.70" fill="#1a1aff"/>
<circle cx="438.00" cy="933.00" r="1.70" fill="#1a1aff"/>
<circle cx="443.50" cy="933.00" r="1.70" fill="#1a1aff"/>
<line x1="378.30" y1="851.00" x2="412.60" y2="851.00" stroke="#000" stroke-width="1.3" />
<text x="395.45" y="847.71" font-size="7" text-anchor="middle"><tspan font-style="italic">p</tspan>&lt;0.0001</text>
<line x1="408.20" y1="905.90" x2="442.50" y2="905.90" stroke="#000" stroke-width="1.3" />
<text x="425.35" y="902.11" font-size="7" text-anchor="middle"><tspan font-style="italic">p</tspan>=0.0082</text>
<text x="365.40" y="969.33" font-size="9.3">MC38<tspan font-size="6.14" dy="-3.53">KO</tspan><tspan dy="3.53">&#8203;</tspan></text>
<text x="400.40" y="969.33" font-size="9.3">MC38<tspan font-size="6.14" dy="-3.53">WT</tspan><tspan dy="3.53">&#8203;</tspan></text>
<text x="434.30" y="969.33" font-size="9.3">MC38<tspan font-size="6.14" dy="-3.53">C278A</tspan><tspan dy="3.53">&#8203;</tspan></text>
<text x="492.20" y="694.48" font-size="10">S</text>
<line x1="543.80" y1="703.40" x2="543.80" y2="809.00" stroke="#000" stroke-width="1.1" />
<line x1="539.40" y1="703.40" x2="543.80" y2="703.40" stroke="#000" stroke-width="1.1" />
<line x1="539.40" y1="729.80" x2="543.80" y2="729.80" stroke="#000" stroke-width="1.1" />
<line x1="539.40" y1="756.10" x2="543.80" y2="756.10" stroke="#000" stroke-width="1.1" />
<line x1="539.40" y1="782.60" x2="543.80" y2="782.60" stroke="#000" stroke-width="1.1" />
<line x1="539.40" y1="809.00" x2="543.80" y2="809.00" stroke="#000" stroke-width="1.1" />
<text x="534.80" y="712.95" font-size="8.8" text-anchor="end">40</text>
<text x="534.80" y="737.95" font-size="8.8" text-anchor="end">30</text>
<text x="534.80" y="763.35" font-size="8.8" text-anchor="end">20</text>
<text x="534.80" y="788.25" font-size="8.8" text-anchor="end">10</text>
<text x="534.80" y="811.45" font-size="8.8" text-anchor="end">0</text>
<line x1="543.80" y1="809.00" x2="651.60" y2="809.00" stroke="#000" stroke-width="1.1" />
<line x1="568.80" y1="809.00" x2="568.80" y2="812.50" stroke="#000" stroke-width="1.1" />
<line x1="624.00" y1="809.00" x2="624.00" y2="812.50" stroke="#000" stroke-width="1.1" />
<text x="516.30" y="759.93" font-size="9.3" text-anchor="middle" transform="rotate(-90 516.30 756.60)">Cleaved caspase-3(%)</text>
<path d="M549.70,809.2 L549.70,803.00 L557.70,803.00 L557.70,809.2" fill="none" stroke="#000" stroke-width="1.2"/>
<path d="M564.60,809.2 L564.60,805.20 L572.60,805.20 L572.60,809.2" fill="none" stroke="#ff4040" stroke-width="1.2"/>
<path d="M579.90,809.2 L579.90,804.80 L587.90,804.80 L587.90,809.2" fill="none" stroke="#0000ff" stroke-width="1.2"/>
<path d="M604.90,809.2 L604.90,722.70 L613.60,722.70 L613.60,809.2" fill="none" stroke="#000" stroke-width="1.2"/>
<path d="M619.80,809.2 L619.80,796.50 L628.40,796.50 L628.40,809.2" fill="none" stroke="#ff4040" stroke-width="1.2"/>
<path d="M635.10,809.2 L635.10,758.80 L643.80,758.80 L643.80,809.2" fill="none" stroke="#0000ff" stroke-width="1.2"/>
<line x1="550.70" y1="802.00" x2="556.70" y2="802.00" stroke="#000" stroke-width="0.9" />
<line x1="565.60" y1="804.20" x2="571.60" y2="804.20" stroke="#ff4040" stroke-width="0.9" />
<line x1="580.90" y1="803.80" x2="586.90" y2="803.80" stroke="#0000ff" stroke-width="0.9" />
<line x1="606.25" y1="721.70" x2="612.25" y2="721.70" stroke="#000" stroke-width="0.9" />
<line x1="621.10" y1="795.50" x2="627.10" y2="795.50" stroke="#ff4040" stroke-width="0.9" />
<line x1="636.45" y1="757.80" x2="642.45" y2="757.80" stroke="#0000ff" stroke-width="0.9" />
<line x1="609.20" y1="719.50" x2="609.20" y2="726.00" stroke="#000" stroke-width="1" />
<line x1="606.50" y1="719.50" x2="612.00" y2="719.50" stroke="#000" stroke-width="0.9" />
<line x1="606.50" y1="726.00" x2="612.00" y2="726.00" stroke="#000" stroke-width="0.9" />
<circle cx="606.50" cy="721.00" r="1.20" fill="#000"/>
<circle cx="611.50" cy="721.50" r="1.20" fill="#000"/>
<circle cx="609.20" cy="723.00" r="1.20" fill="#000"/>
<circle cx="609.20" cy="727.00" r="1.20" fill="#000"/>
<rect x="634.90" y="756.40" width="2.20" height="2.20" fill="#0000ff"/>
<rect x="638.40" y="755.90" width="2.20" height="2.20" fill="#0000ff"/>
<rect x="641.90" y="756.40" width="2.20" height="2.20" fill="#0000ff"/>
<text x="570.90" y="823.04" font-size="8.2" text-anchor="middle">No T Cell</text>
<text x="622.20" y="823.04" font-size="8.2" text-anchor="middle">With T Cell</text>
<rect x="548.10" y="695.30" width="9.20" height="3.60" fill="none" stroke="#000" stroke-width="1.3" />
<text x="559.60" y="700.47" font-size="9.4">RKO<tspan font-size="6.2" dy="-3.57">KO</tspan><tspan dy="3.57">&#8203;</tspan></text>
<rect x="548.10" y="717.60" width="9.20" height="3.60" fill="none" stroke="#ff4040" stroke-width="1.3" />
<text x="559.60" y="722.77" font-size="9.4">RKO<tspan font-size="6.2" dy="-3.57">WT</tspan><tspan dy="3.57">&#8203;</tspan></text>
<rect x="548.10" y="738.40" width="9.20" height="3.60" fill="none" stroke="#0000ff" stroke-width="1.3" />
<text x="559.60" y="743.57" font-size="9.4">RKO<tspan font-size="6.2" dy="-3.57">C496A</tspan><tspan dy="3.57">&#8203;</tspan></text>
<line x1="551.30" y1="795.00" x2="571.00" y2="795.00" stroke="#000" stroke-width="1.3" />
<text x="561.15" y="790.21" font-size="7" text-anchor="middle"><tspan font-style="italic">p</tspan>=0.6127</text>
<line x1="567.70" y1="779.00" x2="587.90" y2="779.00" stroke="#000" stroke-width="1.3" />
<text x="577.80" y="775.51" font-size="7" text-anchor="middle"><tspan font-style="italic">p</tspan>&gt;0.9999</text>
<line x1="607.10" y1="713.30" x2="626.90" y2="713.30" stroke="#000" stroke-width="1.3" />
<text x="617.00" y="710.51" font-size="7" text-anchor="middle"><tspan font-style="italic">p</tspan>&lt;0.0001</text>
<line x1="622.50" y1="699.70" x2="652.50" y2="699.70" stroke="#000" stroke-width="1.3" />
<text x="637.50" y="695.91" font-size="7" text-anchor="middle"><tspan font-style="italic">p</tspan>&lt;0.0001</text>
<text x="492.20" y="847.78" font-size="10">T</text>
<line x1="541.90" y1="849.30" x2="541.90" y2="960.30" stroke="#000" stroke-width="1.1" />
<line x1="535.90" y1="849.30" x2="541.90" y2="849.30" stroke="#000" stroke-width="1.1" />
<line x1="535.90" y1="871.40" x2="541.90" y2="871.40" stroke="#000" stroke-width="1.1" />
<line x1="535.90" y1="893.70" x2="541.90" y2="893.70" stroke="#000" stroke-width="1.1" />
<line x1="535.90" y1="915.90" x2="541.90" y2="915.90" stroke="#000" stroke-width="1.1" />
<line x1="535.90" y1="938.00" x2="541.90" y2="938.00" stroke="#000" stroke-width="1.1" />
<line x1="535.90" y1="960.30" x2="541.90" y2="960.30" stroke="#000" stroke-width="1.1" />
<text x="535.80" y="853.81" font-size="8.7" text-anchor="end">50</text>
<text x="535.80" y="875.91" font-size="8.7" text-anchor="end">40</text>
<text x="535.80" y="898.51" font-size="8.7" text-anchor="end">30</text>
<text x="535.80" y="921.01" font-size="8.7" text-anchor="end">20</text>
<text x="535.80" y="943.11" font-size="8.7" text-anchor="end">10</text>
<text x="535.80" y="965.81" font-size="8.7" text-anchor="end">0</text>
<line x1="541.90" y1="960.30" x2="664.20" y2="960.30" stroke="#000" stroke-width="1.1" />
<line x1="570.60" y1="960.30" x2="570.60" y2="963.80" stroke="#000" stroke-width="1.1" />
<line x1="635.20" y1="960.30" x2="635.20" y2="963.80" stroke="#000" stroke-width="1.1" />
<text x="512.80" y="908.73" font-size="9.3" text-anchor="middle" transform="rotate(-90 512.80 905.40)">Cytotoxic Lysis(%)</text>
<circle cx="549.00" cy="954.67" r="1.20" fill="#000"/>
<circle cx="551.50" cy="954.08" r="1.20" fill="#000"/>
<circle cx="554.00" cy="954.83" r="1.20" fill="#000"/>
<circle cx="556.50" cy="954.84" r="1.20" fill="#000"/>
<circle cx="559.00" cy="954.96" r="1.20" fill="#000"/>
<line x1="548.40" y1="954.60" x2="559.70" y2="954.60" stroke="#000" stroke-width="0.9" />
<polygon points="565.50,953.94 566.71,956.21 564.29,956.21" fill="#ff3030"/>
<polygon points="568.50,953.94 569.71,956.21 567.29,956.21" fill="#ff3030"/>
<polygon points="571.50,953.94 572.71,956.21 570.29,956.21" fill="#ff3030"/>
<polygon points="574.50,953.94 575.71,956.21 573.29,956.21" fill="#ff3030"/>
<line x1="564.60" y1="955.20" x2="576.80" y2="955.20" stroke="#ff3030" stroke-width="0.9" />
<circle cx="583.50" cy="955.20" r="1.20" fill="#1a1aff"/>
<circle cx="586.50" cy="955.20" r="1.20" fill="#1a1aff"/>
<circle cx="589.50" cy="955.20" r="1.20" fill="#1a1aff"/>
<circle cx="592.50" cy="955.20" r="1.20" fill="#1a1aff"/>
<line x1="582.50" y1="955.40" x2="594.80" y2="955.40" stroke="#1a1aff" stroke-width="0.9" />
<line x1="612.50" y1="868.40" x2="623.70" y2="868.40" stroke="#000" stroke-width="1.2" />
<circle cx="618.10" cy="863.50" r="1.20" fill="#000"/>
<circle cx="615.50" cy="867.00" r="1.20" fill="#000"/>
<circle cx="620.50" cy="866.50" r="1.20" fill="#000"/>
<circle cx="616.00" cy="871.50" r="1.20" fill="#000"/>
<circle cx="620.00" cy="871.00" r="1.20" fill="#000"/>
<line x1="630.00" y1="946.70" x2="640.50" y2="946.70" stroke="#ff3030" stroke-width="1.0" />
<polygon points="635.20,943.35 636.30,945.42 634.10,945.42" fill="#ff3030"/>
<polygon points="632.50,945.35 633.60,947.42 631.40,947.42" fill="#ff3030"/>
<polygon points="638.00,945.35 639.10,947.42 636.90,947.42" fill="#ff3030"/>
<polygon points="635.20,947.85 636.30,949.92 634.10,949.92" fill="#ff3030"/>
<line x1="646.50" y1="908.90" x2="658.00" y2="908.90" stroke="#1a1aff" stroke-width="1.2" />
<circle cx="649.50" cy="906.00" r="1.20" fill="#1a1aff"/>
<circle cx="655.00" cy="906.00" r="1.20" fill="#1a1aff"/>
<circle cx="650.00" cy="911.50" r="1.20" fill="#1a1aff"/>
<circle cx="654.50" cy="911.50" r="1.20" fill="#1a1aff"/>
<circle cx="652.30" cy="909.00" r="1.20" fill="#1a1aff"/>
<line x1="552.00" y1="948.10" x2="572.60" y2="948.10" stroke="#000" stroke-width="1.3" />
<text x="562.30" y="944.41" font-size="7" text-anchor="middle"><tspan font-style="italic">p</tspan>&gt;0.9999</text>
<line x1="569.70" y1="931.60" x2="589.60" y2="931.60" stroke="#000" stroke-width="1.3" />
<text x="579.65" y="927.91" font-size="7" text-anchor="middle"><tspan font-style="italic">p</tspan>&gt;0.9999</text>
<line x1="619.50" y1="857.90" x2="638.60" y2="857.90" stroke="#000" stroke-width="1.3" />
<text x="629.05" y="854.71" font-size="7" text-anchor="middle"><tspan font-style="italic">p</tspan>&lt;0.0001</text>
<line x1="636.60" y1="898.90" x2="655.10" y2="898.90" stroke="#000" stroke-width="1.3" />
<text x="645.85" y="895.11" font-size="7" text-anchor="middle"><tspan font-style="italic">p</tspan>&lt;0.0001</text>
<text x="570.40" y="972.47" font-size="8.3" text-anchor="middle">No T Cell</text>
<text x="633.00" y="972.47" font-size="8.3" text-anchor="middle">With T Cell</text>
<circle cx="553.20" cy="843.70" r="1.20" fill="#000"/>
<text x="557.70" y="847.14" font-size="9.6">RKO<tspan font-size="6.34" dy="-3.65">KO</tspan><tspan dy="3.65">&#8203;</tspan></text>
<polygon points="553.20,857.62 554.52,860.10 551.88,860.10" fill="#ff3030"/>
<text x="557.70" y="862.44" font-size="9.6">RKO<tspan font-size="6.34" dy="-3.65">WT</tspan><tspan dy="3.65">&#8203;</tspan></text>
<rect x="552.00" y="872.90" width="2.40" height="2.40" fill="#1a1aff"/>
<text x="557.70" y="877.54" font-size="9.6">RKO<tspan font-size="6.34" dy="-3.65">C496A</tspan><tspan dy="3.65">&#8203;</tspan></text>
<text x="0.00" y="871.78" font-size="10">O</text>
<rect x="39.70" y="878.20" width="65.50" height="65.40" fill="#02020a" />
<clipPath id="clip11"><rect x="39.7" y="878.2" width="65.5" height="65.4"/></clipPath>
<g clip-path="url(#clip11)">
<path d="M69.2 914.9h0.8M70.1 911.4h0.5M51.2 911.7h0.6M92.2 883.5h0.3M44.8 931.8h0.6M41.5 943.4h0.9M82.8 918.7h0.1M39.7 912.8h0.1M51.5 893.5h0.0M70.0 906.9h0.8M73.7 920.4h0.4M83.4 908.0h0.3M106.0 944.3h0.8M86.5 898.4h0.2M58.2 881.9h0.7M65.7 934.3h0.3M103.4 934.3h0.0M52.9 938.6h0.4M104.9 904.0h0.1M81.2 929.7h0.2M44.6 899.6h0.9M89.9 885.2h0.2M45.5 881.2h0.7M50.7 914.9h0.4M51.6 926.5h0.1M82.2 885.1h0.4M53.1 895.4h0.9M92.9 897.7h0.8M52.9 903.8h0.8M82.0 884.0h0.9M53.1 894.6h0.7M60.9 897.2h0.1M44.8 916.5h0.2M79.3 902.3h0.4M103.4 909.8h0.5M97.2 889.5h0.1M100.0 932.3h0.2M51.5 927.0h0.8M52.0 941.2h0.8M79.4 905.6h0.1M41.3 942.1h0.2M86.3 894.5h0.7M79.0 897.0h0.2M87.3 881.8h0.2M76.5 934.7h0.6M57.6 939.0h0.2M39.8 895.3h0.4M42.8 889.1h0.3M77.3 886.1h0.3M98.8 943.3h0.6M85.4 916.6h0.1M41.1 878.4h0.8M86.0 942.1h0.0M81.6 909.7h0.7M60.2 944.6h0.1M75.6 926.9h0.8M88.5 924.6h0.7M100.5 900.9h0.6M99.5 935.9h0.4M92.1 935.4h0.5M80.9 903.0h0.5M79.8 882.6h0.6M105.7 936.5h0.7M64.9 926.7h0.5M68.4 933.7h0.1M89.3 879.2h0.5M71.2 892.7h0.6M72.3 918.6h0.8M56.0 878.0h0.3M84.5 890.9h0.2M99.8 921.7h0.4M98.9 899.2h0.6M52.1 906.2h0.7M100.4 936.5h0.3M78.1 898.5h0.1M72.2 933.6h0.8M86.7 941.2h0.2M50.1 907.6h0.2M53.2 905.1h0.6M72.0 898.5h0.8M105.0 907.7h0.1M40.8 936.0h0.0M86.5 915.7h0.3M92.1 878.5h0.1M69.4 878.9h0.7M54.7 886.7h0.0M81.2 907.3h0.6M82.9 931.6h0.9M84.9 890.6h0.4M50.8 877.9h0.4M86.9 889.3h0.2M62.0 924.2h0.5M80.2 928.2h0.4M92.2 938.3h0.1M101.7 925.9h0.1M69.3 919.4h0.8M64.1 915.5h0.8M92.5 940.8h0.4M82.7 891.0h0.6M93.9 920.4h0.6M53.1 937.9h0.9M104.7 913.4h0.7M60.3 938.5h0.8M62.2 882.8h0.4M75.8 929.0h0.4M40.6 931.7h0.1M92.7 888.9h0.3M91.9 886.7h0.1M73.6 926.0h0.8M85.2 940.9h0.4M102.8 883.0h0.2M74.2 896.8h0.7M81.8 912.4h0.8M76.5 898.2h0.3M95.8 937.9h0.2M96.1 942.5h0.5M77.4 890.7h0.5M72.7 918.0h0.0M104.1 912.0h0.4M92.8 915.1h0.4M85.3 881.6h0.5M66.6 941.7h0.8M56.9 909.1h0.1M68.0 932.2h0.8M70.9 898.6h0.2M80.4 939.6h0.1M91.3 878.7h0.2M54.0 923.5h0.3M62.7 919.0h0.1M88.0 885.5h0.5M55.6 890.5h0.5M68.2 902.5h0.4M74.4 888.0h0.2M81.3 920.2h0.5M96.2 918.4h0.8M54.4 927.1h0.7M99.6 898.5h0.3M101.0 891.9h0.9M98.6 886.2h0.2M87.7 894.7h0.1M94.9 905.6h0.7M47.2 904.3h0.6M39.9 890.7h0.6M100.2 942.5h0.1M72.8 928.3h0.5M85.0 889.9h0.1M45.9 879.7h0.5M73.5 915.5h0.1M51.2 890.9h0.8M105.5 939.7h0.1M42.9 941.3h0.4M90.3 899.2h0.4M73.5 906.2h0.5M39.6 924.4h0.8M50.9 907.8h0.7M66.1 890.4h0.1M73.3 878.2h0.8M92.8 924.7h0.8M81.2 904.5h0.5M72.7 943.4h0.7M56.1 938.6h0.7M91.2 932.1h0.4M99.2 936.5h0.6M90.5 928.8h0.4M87.5 882.0h0.3M70.3 877.9h0.3M81.8 919.3h0.2M102.5 922.1h0.3M83.2 915.6h0.5M65.0 944.6h0.6M86.0 928.5h0.9M40.2 918.7h0.7M56.0 904.3h0.0M51.9 902.5h0.1M55.6 938.2h0.5M73.0 942.4h0.5M105.9 920.2h0.7M43.8 917.5h0.7M41.7 939.9h0.1M70.5 888.6h0.4M80.0 881.1h0.9M67.1 912.7h0.5M63.4 896.5h0.6M76.5 896.3h0.6M58.7 878.1h0.2M41.6 887.8h0.7M65.0 937.7h0.7M42.1 943.8h0.9M43.7 938.2h0.4M70.9 942.8h0.2M74.0 940.4h0.7M70.3 943.2h0.7M79.4 885.0h0.6M69.5 890.9h0.0M74.3 885.6h0.4M83.8 907.9h0.2M78.0 905.5h0.7M74.5 944.4h0.9M88.3 893.3h0.1M99.0 930.1h0.6M62.9 895.5h0.6M76.8 917.1h0.6M89.6 890.0h0.2M104.8 938.9h0.8M41.4 881.3h0.2M67.4 919.2h0.1M75.3 882.1h0.1M84.3 914.3h0.6M63.9 909.5h0.2M61.9 927.4h0.8" stroke="#0a0a80" stroke-width="1.9" stroke-linecap="round" fill="none"/>
<path d="M43.7 885.3h0.7M80.8 929.0h0.2M67.3 894.6h0.7M63.6 921.3h0.9M60.7 914.2h0.7M100.9 906.0h0.3M45.2 936.2h0.1M44.3 915.2h0.4M85.0 897.3h0.7M43.8 891.6h0.6M44.2 897.7h0.7M85.5 896.3h0.1M62.9 926.1h0.3M46.6 925.0h0.5M100.7 940.6h0.8M68.3 931.3h0.3M60.1 904.1h0.8M99.1 893.9h0.3M63.4 901.7h0.4M64.9 890.3h0.5M92.5 913.6h0.8M76.7 889.1h0.7M98.2 896.2h0.0M73.5 913.9h0.5M103.9 921.1h0.7M43.0 914.1h0.7M44.4 882.7h0.7M99.4 882.9h0.6M48.4 927.5h0.6M55.3 892.1h0.7M73.9 928.7h0.4M61.5 942.5h0.6M72.0 913.4h0.6M86.5 938.9h0.4M94.5 922.1h0.8M93.1 933.4h0.8M103.4 920.4h0.5M86.6 931.3h0.4M67.1 887.1h0.7M105.6 902.5h0.2M52.5 905.8h0.3M104.2 881.2h0.3M46.4 920.9h0.7M50.8 881.4h0.4M78.1 938.5h0.0M46.0 889.6h0.2M54.6 925.5h0.5M53.8 889.7h0.3M50.3 928.3h0.3M75.7 932.3h0.4M56.3 937.0h0.8M61.8 914.1h0.9M71.3 892.1h0.0M102.7 931.2h0.3M74.3 912.0h0.2M105.5 921.5h0.2M39.4 909.1h0.3M92.5 925.3h0.5M49.3 887.8h0.3M56.2 935.8h0.5M81.7 944.1h0.2M74.8 887.4h0.7M38.8 932.6h0.8M94.2 882.8h0.2M87.1 883.7h0.4M70.3 941.6h0.5M96.6 897.7h0.7M66.8 939.0h0.1M94.5 891.2h0.5M74.2 887.8h0.7M59.7 898.1h0.1M59.3 908.7h0.6M63.0 923.5h0.1M65.3 908.3h0.9M94.7 921.3h0.0M64.2 925.1h0.2M76.8 908.1h0.0M105.6 931.1h0.2M80.3 896.8h0.3M75.1 897.3h0.3M65.2 922.1h0.2M52.2 926.5h0.3M102.5 915.1h0.7M61.1 932.9h0.1M48.2 883.6h0.6M86.5 889.3h0.4M95.2 917.2h0.1M54.0 887.8h0.1M66.2 882.1h0.8M67.5 911.7h0.6M90.5 932.5h0.3M61.1 905.0h0.0M65.7 924.4h0.9M92.0 921.7h0.5M40.0 899.5h0.3M82.6 884.4h0.3M73.1 930.3h0.7M80.0 887.9h0.7M99.7 914.2h0.3M72.5 886.8h0.6M105.3 912.0h0.6M95.1 890.5h0.9M81.0 890.5h0.1M55.2 916.1h0.6M60.9 939.8h0.3M70.0 885.6h0.9M47.9 938.1h0.5M76.5 915.0h0.2M100.1 944.1h0.7M79.3 885.5h0.7M58.2 937.7h0.2M77.4 933.2h0.2M75.7 882.3h0.0M50.9 943.7h0.8M83.1 897.9h0.6M88.5 902.9h0.5M93.0 878.3h0.2M70.3 886.8h0.3M77.1 888.9h0.5M56.5 915.5h0.3M82.0 879.8h0.6M48.5 941.9h0.5M70.4 904.9h0.6M85.2 928.3h0.7M71.5 944.2h0.8M96.4 904.8h0.4M76.9 938.2h0.5M74.1 906.3h0.8M60.3 880.9h0.7M99.5 926.5h0.5M89.5 897.7h0.5M43.4 885.6h0.4M72.6 903.9h0.0M85.6 912.7h0.2M59.4 903.9h0.2M43.3 938.6h0.9M83.6 935.6h0.4M93.1 892.1h0.7M77.0 938.1h0.1M92.2 885.5h0.5M102.9 877.2h0.2M58.9 899.1h0.1M99.1 932.2h0.4M62.8 916.7h0.0M40.8 937.8h0.3M72.3 940.1h0.9M70.6 891.1h0.3M101.0 937.6h0.2M95.3 901.1h0.4M50.3 936.5h0.9M52.3 919.8h0.2M98.1 880.6h0.1M87.7 898.3h0.8M97.4 925.3h0.1M85.7 940.4h0.4M44.0 892.2h0.3M86.7 890.4h0.2M54.6 922.0h0.7M63.8 921.8h0.8M78.5 892.6h0.3M101.3 922.2h0.2M81.9 883.3h0.9M68.4 912.8h0.5M41.8 917.6h0.3M55.6 931.3h0.1M57.9 928.1h0.2M57.5 914.1h0.2M99.2 943.8h0.0M69.9 927.8h0.3M101.4 910.9h0.2M76.2 920.7h0.3M83.1 930.0h0.5M72.8 934.2h0.6M73.8 941.3h0.2M91.3 888.3h0.5M54.6 906.9h0.7M91.8 930.5h0.2M71.7 892.1h0.5M72.4 879.6h0.5M86.9 915.8h0.8M50.9 887.4h0.0M72.2 906.5h0.4M56.4 931.0h0.1M99.9 915.5h0.5M92.1 893.2h0.1M59.7 880.1h0.3M80.6 912.6h0.2M78.4 883.2h0.7M50.3 894.4h0.1M85.3 933.2h0.7" stroke="#1515d0" stroke-width="1.7" stroke-linecap="round" fill="none"/>
<path d="M42.8 904.9h0.3M53.3 942.6h0.0M71.7 928.5h0.9M48.5 907.9h0.7M41.3 893.4h0.8M48.3 903.7h0.3M67.3 882.4h0.0M105.9 928.6h0.7M54.2 894.3h0.5M55.0 908.3h0.8M63.3 899.9h0.9M79.9 879.9h0.4M82.6 881.1h0.3M85.6 935.5h0.5M98.5 908.4h0.4M95.6 902.9h0.7M53.2 900.6h0.2M75.8 888.2h0.2M53.2 908.7h0.3M68.9 944.1h0.6M96.9 891.0h0.3M43.6 923.8h0.3M57.2 878.5h0.2M56.4 903.7h0.8M87.0 895.3h0.3M49.1 940.3h0.3M90.4 926.0h0.8M40.1 898.9h0.3M44.3 936.7h0.3M90.7 912.2h0.0M65.3 893.3h0.0M48.9 917.3h0.0M59.8 905.8h0.5M47.9 924.8h0.2M87.7 922.1h0.1M52.5 896.1h0.6M66.1 903.3h0.8M54.0 896.9h0.3M53.3 879.9h0.0M81.3 915.3h0.7M104.6 897.3h0.6M100.7 891.8h0.6M83.7 941.6h0.8M54.5 919.8h0.1M67.6 903.7h0.1M64.6 899.3h0.4M57.6 887.9h0.4M70.8 888.4h0.6M54.9 883.5h0.3M67.2 887.4h0.5M86.0 914.5h0.6M40.3 903.6h0.3M42.9 904.5h0.0M72.2 916.7h0.4M60.7 894.3h0.0M62.1 937.3h0.5M56.4 922.2h0.2M70.4 918.7h0.9M63.2 916.0h0.8M90.8 919.5h0.6M66.4 905.2h0.2M94.7 936.5h0.3M100.1 879.8h0.1M72.9 898.0h0.3M104.6 887.3h0.2M54.1 923.0h0.2M38.8 913.9h0.4M54.9 910.5h0.6M75.7 919.3h0.5M94.8 942.5h0.3M62.1 936.9h0.3M87.0 924.1h0.6M103.8 932.8h0.1M80.7 910.3h0.5M63.6 896.5h0.7M74.7 893.2h0.2M60.6 889.2h0.5M47.2 881.5h0.1M45.6 924.7h0.1M69.2 929.2h0.4M49.7 935.6h0.8M42.3 894.3h0.5M92.5 903.6h0.6M55.7 925.4h0.3M61.2 928.4h0.8M94.6 915.4h0.4M86.4 919.2h0.7M92.8 885.6h0.3M83.9 892.8h0.2M39.6 916.7h0.8" stroke="#2626ff" stroke-width="1.5" stroke-linecap="round" fill="none"/>
<path d="M103.3 886.9h0.3M84.7 905.6h0.3M81.1 904.1h0.3M100.8 942.9h0.3M42.9 924.8h0.3M47.5 881.0h0.3M58.4 926.0h0.3M104.8 886.1h0.3M61.3 879.9h0.3M75.2 909.8h0.3M64.2 898.4h0.3M92.1 933.1h0.3M58.3 903.8h0.3M80.2 928.3h0.3M104.0 903.7h0.3M85.2 913.9h0.3M92.1 887.8h0.3M51.2 885.2h0.3M100.8 894.6h0.3M71.7 886.1h0.3M60.9 879.5h0.3M76.8 887.6h0.3M80.7 896.1h0.3M54.6 909.7h0.3M63.7 895.2h0.3" stroke="#1a7a1a" stroke-width="1.2" stroke-linecap="round" fill="none"/>
<path d="M44.0 883.3h0.7M60.3 884.2h0.1M71.4 942.4h0.2M95.8 909.9h0.3M91.9 904.3h0.0M75.7 920.8h0.5M58.3 938.7h0.7M103.8 907.3h0.7M86.7 890.3h0.0M51.4 886.7h0.1M63.5 927.0h0.2M73.4 879.9h0.2M101.6 879.9h0.4M92.1 929.4h0.6M66.1 930.1h0.7M89.4 941.7h0.1M101.0 904.7h0.6M56.6 936.9h0.0M77.3 893.6h0.3M64.2 920.9h0.6" stroke="#e83030" stroke-width="2.1" stroke-linecap="round" fill="none"/>
<path d="M63.9 919.7h0.3M58.4 936.6h0.3M46.7 900.4h0.6M54.1 926.3h0.4M83.9 890.4h0.1M49.8 901.4h0.3M41.3 911.1h0.3M61.1 913.3h0.8M53.7 935.0h0.3M88.6 886.1h0.8M68.0 940.2h0.2M66.6 924.0h0.1M58.1 922.1h0.8M61.2 890.8h0.3" stroke="#ff9a40" stroke-width="2.1" stroke-linecap="round" fill="none"/>
<path d="M103.5 888.6h0.5M64.7 920.0h0.2M79.8 935.5h0.7M80.6 911.2h0.5M47.9 932.3h0.6M69.5 921.4h0.3M65.1 893.8h0.5M77.1 911.9h0.0M80.5 907.5h0.5M78.5 938.3h0.1M70.5 942.1h0.6M60.6 925.9h0.8" stroke="#e040b0" stroke-width="2.1" stroke-linecap="round" fill="none"/>
<path d="M66.2 934.2h0.1M103.6 910.3h0.2M94.1 920.4h0.8M93.4 929.8h0.4M103.8 883.3h0.7M85.9 895.1h0.6M69.5 913.2h0.7" stroke="#30d030" stroke-width="2.1" stroke-linecap="round" fill="none"/>
<path d="M53.1 896.9h0.5M45.4 914.4h0.6M71.9 894.5h0.6M95.0 928.1h0.4M98.2 929.7h0.1M63.9 885.6h0.0" stroke="#ffe070" stroke-width="2.1" stroke-linecap="round" fill="none"/>
</g>
<rect x="108.00" y="878.20" width="65.30" height="65.40" fill="#02020a" />
<clipPath id="clip12"><rect x="108.0" y="878.2" width="65.3" height="65.4"/></clipPath>
<g clip-path="url(#clip12)">
<path d="M138.9 921.5h0.6M116.6 877.9h0.3M125.4 931.8h0.6M147.5 914.8h0.6M116.8 906.9h0.1M168.0 881.2h0.7M112.0 923.5h0.3M134.2 934.0h0.0M111.1 938.9h0.5M113.1 943.7h0.9M114.6 905.7h0.1M128.0 919.1h0.1M153.9 880.7h0.2M161.9 904.2h0.4M147.1 909.3h0.3M109.1 926.2h0.9M172.7 921.9h0.3M131.4 923.7h0.6M114.7 893.0h0.3M141.4 931.8h0.5M108.9 932.6h0.4M141.9 892.2h0.4M133.1 929.2h0.1M144.0 889.2h0.6M109.5 895.8h0.3M149.9 880.7h0.4M121.1 896.2h0.4M171.5 909.6h0.9M118.3 939.5h0.3M119.7 927.7h0.8M107.4 895.3h0.7M130.0 893.5h0.0M109.7 918.9h0.9M174.2 911.1h0.0M128.7 930.3h0.7M150.0 892.7h0.5M139.1 919.5h0.2M170.7 937.5h0.1M126.6 936.1h0.3M170.5 911.9h0.6M154.4 891.6h0.3M124.2 923.3h0.6M115.9 936.9h0.4M123.2 906.5h0.9M144.7 919.3h0.8M171.7 928.5h0.4M146.6 937.9h0.7M146.0 900.6h0.3M156.5 915.2h0.0M154.8 938.1h0.7M167.4 938.6h0.5M160.1 902.8h0.1M130.8 898.2h0.8M153.4 913.7h0.6M115.4 913.2h0.6M133.5 893.8h0.4M128.8 923.4h0.1M113.1 898.3h0.6M158.1 921.6h0.8M131.6 879.2h0.4M136.9 889.3h0.6M130.0 893.3h0.3M170.5 877.7h0.3M125.8 890.8h0.4M121.8 939.1h0.5M154.0 888.1h0.4M147.8 934.0h0.2M137.9 934.8h0.7M122.3 913.5h0.7M133.6 922.6h0.6M172.4 914.5h0.6M130.6 926.6h0.3M140.6 901.5h0.3M116.1 892.4h0.5M123.9 880.3h0.7M126.2 940.3h0.5M133.2 936.0h0.8M128.6 885.7h0.6M163.7 918.2h0.7M134.8 918.8h0.2M134.4 902.8h0.3M133.9 931.6h0.2M120.8 894.4h0.9M142.2 880.8h0.8M165.8 932.5h0.3M156.4 897.8h0.1M165.2 933.3h0.2M166.2 878.9h0.3M107.9 888.7h0.1M155.2 897.2h0.2M119.4 898.2h0.8M147.8 884.1h0.6M143.1 907.4h0.5M150.8 931.2h0.5M149.8 908.7h0.6M133.1 905.2h0.5M155.1 896.0h0.8M140.1 934.9h0.6M171.4 923.2h0.4M134.3 918.2h0.7M163.5 885.9h0.1M114.3 882.9h0.1M107.6 894.0h0.1M153.1 918.7h0.9M171.6 927.5h0.9M108.9 892.6h0.8M139.0 891.1h0.7M135.5 913.8h0.3M123.3 883.1h0.5M171.1 943.7h0.7M169.8 901.6h0.3M169.2 917.6h0.6M107.8 892.6h0.4M156.2 932.9h0.7M129.9 902.9h0.8M173.6 909.9h0.2M149.0 913.3h0.3M122.5 903.2h0.6M115.5 913.7h0.9M157.1 894.2h0.4M113.9 926.9h0.6M118.6 914.1h0.5M145.8 902.7h0.3M130.9 944.4h0.3M140.8 908.2h0.2M133.9 891.0h0.3M131.7 900.8h0.8M127.0 899.6h0.6M133.7 912.0h0.6M112.0 922.5h0.1M123.8 931.8h0.9M152.3 888.8h0.4M126.0 933.9h0.2M120.2 920.2h0.6M146.7 909.5h0.9M137.9 940.4h0.4M138.3 901.4h0.6M157.6 893.3h0.5M155.9 911.0h0.6M148.5 925.3h0.3M127.6 878.9h0.8M160.2 903.5h0.9M167.7 887.4h0.8M135.3 898.4h0.2M134.8 880.7h0.0M114.9 897.9h0.1M115.2 933.3h0.3M140.0 917.7h0.8M116.8 892.6h0.8M168.2 940.0h0.5M131.7 889.9h0.8M158.5 914.4h0.7M124.5 913.2h0.8M114.3 918.8h0.2M163.4 933.8h0.6M136.3 878.6h0.4M131.2 904.2h0.1M168.9 912.4h0.5M163.7 937.6h0.5M143.6 934.3h0.3M167.6 878.8h0.7M142.5 919.1h0.9M121.8 904.7h0.7M157.3 912.5h0.7M152.6 935.8h0.6M131.4 896.5h0.1M115.3 880.1h0.9M116.5 917.8h0.1M172.0 913.1h0.2M162.6 935.2h0.9M122.0 904.3h0.6M126.0 915.6h0.6M157.6 932.7h0.7M126.2 928.1h0.4M118.4 878.6h0.6M131.1 883.5h0.4M134.9 899.1h0.5M143.3 912.9h0.9M167.9 897.3h0.8M128.2 940.4h0.1M128.4 940.0h0.6M154.5 891.0h0.1M171.6 881.6h0.2M136.0 932.4h0.6M174.2 929.7h0.4M168.3 898.5h0.0M171.6 936.6h0.6M139.3 890.9h0.2M111.5 883.5h0.4M167.3 940.0h0.5M152.3 908.7h0.7M154.5 943.6h0.8M152.6 917.0h0.2M138.7 907.4h0.1M120.6 904.9h0.2M149.0 899.3h0.9M153.0 912.0h0.4M133.4 890.7h0.9M168.5 921.0h0.6M116.7 913.7h0.2M128.8 916.8h0.2M122.7 926.4h0.4M166.9 887.9h0.1M170.2 918.2h0.6M144.4 887.2h0.9M140.3 938.5h0.1M125.5 914.2h0.2M164.9 894.8h0.1M118.0 895.5h0.9M166.1 922.3h0.4" stroke="#0a0a80" stroke-width="1.9" stroke-linecap="round" fill="none"/>
<path d="M109.8 933.2h0.1M120.5 906.5h0.8M119.3 881.4h0.8M107.6 926.7h0.1M127.1 891.2h0.4M169.0 933.8h0.5M112.9 889.0h0.3M160.4 938.9h0.0M129.5 941.9h0.1M112.4 895.1h0.8M124.7 925.8h0.1M151.3 888.6h0.5M157.0 936.4h0.4M173.3 904.6h0.9M168.5 944.5h0.1M125.4 924.1h0.8M124.3 929.0h0.4M107.3 882.9h0.0M122.4 940.1h0.6M165.1 939.0h0.4M153.9 921.3h0.6M113.2 937.1h0.1M137.0 923.5h0.7M162.6 898.2h0.3M156.0 880.4h0.8M128.2 903.7h0.3M155.0 888.9h0.1M111.5 886.0h0.6M173.6 877.6h0.4M130.9 898.1h0.3M114.3 905.8h0.2M111.0 886.3h0.8M155.3 943.5h0.7M156.7 892.5h0.1M173.2 923.3h0.7M116.7 930.6h0.5M112.9 891.4h0.9M148.9 883.3h0.1M157.5 900.9h0.4M116.2 889.2h0.4M135.8 889.7h0.1M136.9 884.8h0.1M138.9 880.7h0.7M158.7 924.7h0.9M118.2 905.6h0.4M111.9 935.1h0.0M173.2 922.7h0.9M111.0 937.4h0.9M159.4 916.3h0.6M139.4 934.7h0.5M143.8 904.5h0.6M146.5 940.6h0.7M129.2 925.7h0.2M139.4 912.7h0.7M111.9 887.1h0.2M148.7 888.7h0.5M166.3 906.0h0.2M147.2 904.9h0.4M119.0 923.2h0.3M173.3 910.7h0.6M169.2 943.5h0.0M169.4 884.2h0.9M160.1 894.5h0.6M144.9 907.7h0.6M137.7 921.5h0.6M107.4 920.3h0.6M165.3 913.3h0.5M116.8 890.4h0.8M111.2 937.9h0.1M132.8 919.1h0.0M137.1 931.0h0.3M118.8 881.2h0.9M114.0 922.3h0.6M125.8 914.8h0.6M121.0 893.7h0.8M121.0 910.1h0.4M159.3 935.0h0.7M149.2 913.6h0.1M145.6 906.4h0.7M132.3 885.4h0.3M162.9 910.7h0.6M110.8 892.1h0.2M139.6 885.2h0.9M129.3 877.3h0.2M140.8 918.7h0.7M112.8 942.6h0.8M141.6 920.8h0.3M117.0 877.9h0.9M166.9 907.3h0.5M139.1 923.6h0.1M157.8 889.0h0.5M148.9 934.3h0.6M119.0 932.2h0.3M144.9 931.1h0.9M114.0 907.8h0.3M164.0 904.0h0.8M160.4 905.5h0.7M152.7 885.1h0.3M116.1 933.3h0.4M127.2 925.5h0.9M116.5 923.8h0.2M160.2 927.5h0.7M146.2 885.5h0.8M114.4 916.3h0.9M125.1 909.6h0.6M150.5 899.0h0.4M167.3 925.5h0.2M152.7 934.6h0.5M167.2 895.1h0.3M165.3 894.5h0.1M117.0 936.7h0.7M120.3 927.2h0.2M148.8 877.9h0.5M157.5 911.2h0.6M114.9 908.1h0.7M132.1 927.3h0.5M161.4 927.0h0.3M162.1 932.3h0.4M155.4 905.1h0.5M128.8 908.3h0.3M167.2 918.5h0.6M142.2 908.5h0.2M150.5 907.3h0.3M141.5 886.0h0.6M159.7 901.9h0.1M172.2 919.0h0.3M113.1 915.8h0.2M167.5 925.5h0.2M134.4 883.0h0.2M144.6 936.7h0.4M171.8 894.5h0.1M163.5 902.7h0.3M136.9 918.4h0.2M114.2 917.5h0.6M144.7 888.0h0.8M135.9 913.7h0.8M116.0 910.6h0.4M150.0 892.4h0.2M122.3 914.8h0.3M169.4 935.9h0.7M134.4 932.8h0.5M159.7 941.6h0.1M158.2 938.1h0.4M130.0 879.3h0.8M120.9 877.8h0.1M141.7 923.2h0.8M151.7 884.0h0.8M165.6 931.6h0.8M163.2 923.3h0.7M108.5 943.9h0.0M135.6 915.6h0.5M129.8 911.4h0.3M151.5 879.2h0.3M150.8 908.0h0.0M137.9 939.7h0.5M156.2 903.0h0.9M142.3 931.8h0.6M161.7 903.6h0.8M173.5 937.7h0.8M131.5 900.0h0.8M162.6 917.0h0.5M107.8 914.9h0.1M142.4 892.3h0.5M117.6 899.3h0.7M146.0 886.2h0.9M108.5 905.0h0.6M146.1 921.2h0.8M113.5 911.5h0.2M147.3 908.5h0.6M160.9 911.0h0.4M144.4 888.5h0.8M133.3 910.8h0.8M163.1 944.4h0.6M142.8 906.2h0.7M148.8 877.9h0.5M152.0 901.4h0.7M156.9 936.9h0.3M151.5 915.0h0.3M127.0 883.1h0.8M125.6 900.6h0.2M144.5 910.5h0.8M112.4 900.3h0.8M160.4 881.5h0.4M173.8 943.2h0.3M157.1 899.5h0.1M167.4 885.6h0.9M137.4 934.7h0.4M167.6 927.5h0.2M108.6 888.7h0.5M114.4 882.2h0.3" stroke="#1515d0" stroke-width="1.7" stroke-linecap="round" fill="none"/>
<path d="M110.6 897.9h0.6M122.3 930.5h0.2M131.5 904.4h0.8M110.2 931.9h0.1M172.3 914.6h0.7M141.6 922.4h0.6M116.8 890.3h0.8M121.8 893.6h0.0M155.0 930.3h0.0M165.0 884.9h0.4M141.6 894.2h0.3M140.1 930.0h0.2M122.7 943.0h0.2M114.0 940.0h0.8M121.4 912.9h0.8M128.6 900.2h0.0M115.7 918.1h0.4M165.0 907.2h0.2M133.5 886.6h0.4M153.6 889.6h0.5M174.2 924.2h0.3M150.4 884.6h0.1M161.4 924.9h0.6M144.8 900.8h0.8M141.7 932.8h0.7M129.5 932.2h0.3M148.5 934.0h0.9M148.8 890.7h0.1M162.9 897.9h0.1M145.9 905.3h0.7M119.1 911.7h0.9M118.6 903.4h0.4M115.8 886.9h0.3M144.0 886.4h0.6M132.2 897.4h0.8M156.9 907.2h0.2M141.3 920.9h0.7M151.6 877.3h0.1M174.0 914.0h0.5M114.7 930.2h0.7M127.9 895.5h0.1M127.6 911.8h0.4M107.6 883.8h0.2M162.9 942.2h0.8M140.2 901.6h0.8M157.9 920.8h0.6M170.1 912.7h0.2M156.4 939.9h0.2M132.9 928.6h0.7M110.5 931.6h0.2M115.5 880.5h0.4M137.5 889.7h0.6M119.5 939.8h0.9M129.4 878.7h0.1M143.0 901.1h0.7M134.5 894.5h0.1M173.8 928.7h0.6M121.9 907.1h0.7M150.5 895.9h0.3M161.6 880.9h0.6M154.5 912.0h0.5M169.2 899.1h0.7M155.6 927.0h0.1M153.7 902.5h0.1M168.1 895.1h0.4M127.7 884.8h0.3M148.2 920.3h0.7M117.2 895.7h0.7M142.3 927.0h0.4M135.3 879.4h0.8M167.9 925.4h0.2M149.4 923.0h0.3M132.3 937.2h0.2M148.1 880.4h0.0M109.9 897.7h0.8M145.9 909.8h0.1M144.5 885.9h0.1M129.5 894.6h0.7M145.0 920.4h0.3M133.4 884.9h0.3M173.8 922.3h0.3M149.4 938.6h0.7M142.3 887.7h0.0M111.8 932.5h0.7M154.1 925.9h0.1M146.0 877.8h0.0M148.7 877.7h0.4M130.7 935.8h0.3M120.8 923.0h0.1M172.9 939.4h0.9" stroke="#2626ff" stroke-width="1.5" stroke-linecap="round" fill="none"/>
<path d="M148.4 890.0h0.3M121.1 925.0h0.3M136.7 924.3h0.3M121.7 915.4h0.3M163.8 897.0h0.3M162.5 887.6h0.3M151.5 880.9h0.3M123.9 882.9h0.3M120.9 912.8h0.3M161.0 931.4h0.3M167.7 894.4h0.3M169.2 906.1h0.3M151.5 925.4h0.3M125.8 896.6h0.3M136.5 900.5h0.3M155.6 934.8h0.3M151.2 881.4h0.3M160.1 928.4h0.3M172.2 890.5h0.3M168.9 904.1h0.3M144.3 891.4h0.3M124.4 905.8h0.3M144.8 894.9h0.3M144.1 906.1h0.3M122.3 920.5h0.3M128.8 880.6h0.3M123.8 905.7h0.3M148.3 882.7h0.3M166.0 883.4h0.3M169.8 880.1h0.3M128.1 900.2h0.3M152.0 884.0h0.3M121.5 932.1h0.3M168.0 881.9h0.3M114.4 900.5h0.3M131.6 922.6h0.3M169.5 919.7h0.3M129.7 892.7h0.3M112.1 882.6h0.3M164.3 934.8h0.3" stroke="#1a7a1a" stroke-width="1.2" stroke-linecap="round" fill="none"/>
<path d="M132.4 893.2h0.7M123.6 904.9h0.7M110.6 901.6h0.2M137.3 938.5h0.8M156.7 932.9h0.3M155.8 925.5h0.7" stroke="#30c030" stroke-width="1.5" stroke-linecap="round" fill="none"/>
<path d="M132.1 933.0h0.2" stroke="#d03030" stroke-width="1.5" stroke-linecap="round" fill="none"/>
</g>
<rect x="175.60" y="878.20" width="65.50" height="65.40" fill="#02020a" />
<clipPath id="clip13"><rect x="175.6" y="878.2" width="65.5" height="65.4"/></clipPath>
<g clip-path="url(#clip13)">
<path d="M192.1 923.4h0.6M231.9 889.7h0.2M184.5 892.4h0.7M183.4 913.0h0.2M194.5 906.3h0.8M215.7 878.2h0.2M184.5 935.9h0.7M229.0 932.9h0.7M238.7 930.7h0.2M232.0 910.0h0.7M212.7 906.2h0.3M203.6 898.3h0.1M229.9 931.0h0.9M221.2 914.6h0.7M183.7 922.8h0.4M186.5 890.9h0.5M191.7 908.2h0.5M201.3 886.0h0.4M190.5 893.1h0.2M199.3 882.1h0.6M239.0 903.5h0.6M237.6 880.1h0.1M229.0 933.7h0.6M185.4 905.1h0.8M234.4 931.3h0.2M232.2 902.5h0.6M183.8 942.7h0.5M223.4 891.5h0.6M213.8 917.0h0.3M223.7 900.2h0.3M185.7 923.3h0.1M189.8 881.9h0.6M212.1 913.8h0.0M204.3 900.3h0.1M174.8 944.5h0.1M195.0 895.3h0.5M179.8 908.9h0.3M230.9 877.6h0.3M208.1 942.6h0.5M206.6 922.3h0.3M176.7 911.0h0.8M224.4 894.6h0.6M231.9 894.6h0.5M198.6 893.7h0.3M188.4 900.8h0.0M201.4 883.0h0.7M215.1 877.5h0.7M187.5 909.6h0.5M197.1 896.7h0.4M183.8 935.4h0.1M230.2 891.9h0.3M200.8 879.4h0.1M199.0 907.0h0.8M241.4 880.1h0.5M183.3 931.4h0.3M234.9 914.0h0.1M174.9 893.9h0.8M184.7 909.5h0.3M197.9 931.2h0.2M223.1 922.1h0.8M209.7 939.2h0.4M213.3 919.0h0.8M235.2 885.0h0.1M210.6 932.0h0.5M194.8 942.0h0.3M180.5 880.7h0.0M223.7 884.4h0.6M233.1 944.6h0.7M203.2 919.1h0.7M222.9 896.8h0.7M182.0 898.0h0.9M206.4 895.2h0.7M205.0 877.4h0.0M192.1 899.6h0.8M191.3 934.5h0.8M202.7 944.1h0.7M207.3 894.8h0.4M235.5 913.4h0.2M200.0 909.3h0.2M213.3 879.5h0.7M186.7 884.1h0.5M195.3 936.9h0.4M209.8 933.4h0.2M224.9 920.9h0.4M239.4 878.7h0.8M184.3 933.8h0.1M178.2 910.9h0.8M192.0 910.0h0.5M191.0 912.9h0.0M204.9 928.4h0.3M189.5 880.6h0.6M203.4 938.8h0.7M181.4 938.8h0.8M229.7 933.2h0.6M223.3 922.2h0.5M192.0 886.2h0.7M214.9 881.0h0.6M215.8 911.7h0.7M233.8 902.9h0.7M208.3 915.7h0.4M237.6 907.2h0.9M197.4 922.5h0.8M220.7 902.5h0.1M206.9 905.1h0.7M227.5 943.7h0.4M202.3 915.2h0.7M180.0 891.7h0.1M196.5 897.4h0.9M188.6 940.1h0.3M188.4 942.9h0.1M182.2 885.9h0.1M200.7 891.5h0.1M175.7 924.3h0.0M190.2 915.3h0.8M219.1 925.0h0.6M228.4 934.7h0.1M178.2 919.1h0.5M209.8 929.9h0.2M222.3 905.9h0.4M191.1 896.2h0.5M212.0 938.3h0.3M222.9 883.7h0.6M185.4 935.0h0.9M191.8 931.7h0.2M195.2 884.2h0.4M181.6 924.7h0.5M203.0 925.0h0.2M197.0 901.7h0.0M234.5 883.1h0.1M228.5 932.4h0.4M203.0 886.6h0.0M209.7 893.6h0.1M235.7 878.5h0.3M225.3 927.5h0.1M224.7 915.2h0.6M238.3 931.0h0.5M226.6 910.3h0.5M229.8 919.0h0.3M176.0 930.4h0.3M203.6 896.6h0.5M201.7 933.4h0.5M212.3 930.0h0.4M210.8 927.8h0.7M224.8 937.2h0.5M212.1 889.9h0.2M203.9 910.8h0.8M177.5 900.8h0.7M205.6 934.4h0.1M226.6 906.3h0.5M178.4 904.4h0.7M224.2 915.2h0.4M177.2 924.3h0.4M223.5 918.4h0.4M233.6 886.1h0.9M180.4 942.5h0.5M204.8 940.3h0.5M208.9 881.2h0.7M217.7 893.3h0.1M203.0 940.2h0.8M206.0 879.6h0.7M188.2 926.5h0.4M239.6 887.2h0.7M223.2 878.4h0.5M194.5 924.1h0.9M219.6 910.5h0.5M191.4 908.7h0.1M223.2 881.6h0.5M186.7 915.2h0.1M176.5 919.3h0.6M234.6 922.8h0.9M184.2 919.6h0.6M186.4 886.6h0.2M209.9 930.3h0.6M213.2 882.4h0.6M209.2 888.6h0.6M191.2 898.0h0.4M225.3 884.4h0.4M190.5 922.4h0.7M192.4 925.7h0.4M189.3 895.8h0.5M229.1 917.8h0.0M227.3 916.3h0.4M190.9 906.9h0.6M192.9 886.5h0.8M204.4 882.0h0.8M182.0 901.8h0.6M219.4 937.8h0.2M213.0 936.5h0.4M222.8 908.6h0.6M239.3 900.1h0.7M197.9 937.0h0.7M232.5 936.1h0.5M238.8 887.7h0.5M179.6 916.5h0.6M193.9 931.9h0.4M187.9 890.2h0.5M200.5 880.4h0.3M240.4 909.0h0.6M203.4 882.0h0.6M188.8 885.4h0.6M220.2 877.9h0.9M176.0 888.4h0.3M228.4 927.2h0.7M203.6 938.7h0.1M239.5 880.6h0.1M225.3 929.1h0.6M191.4 935.6h0.5M188.5 883.7h0.9M178.4 892.0h0.3M234.9 933.2h0.8" stroke="#0a0a80" stroke-width="1.9" stroke-linecap="round" fill="none"/>
<path d="M217.2 878.0h0.7M187.5 941.0h0.9M179.1 926.5h0.2M181.7 936.2h0.4M194.5 915.0h0.1M203.2 921.0h0.8M182.9 937.4h0.1M188.5 899.7h0.2M180.7 921.4h0.4M187.4 911.9h0.1M220.6 942.2h0.4M203.1 904.1h0.3M202.5 889.2h0.3M221.2 909.5h0.1M184.4 933.9h0.3M230.6 918.8h0.6M198.6 916.3h0.4M209.5 940.9h0.1M189.0 938.1h0.8M229.5 935.2h0.1M223.1 885.6h0.8M201.3 910.2h0.5M188.5 915.4h0.8M204.9 906.8h0.3M187.5 896.4h0.8M239.7 902.5h0.3M197.4 935.4h0.2M186.9 898.5h0.1M184.5 892.8h0.6M237.3 894.6h0.3M214.2 879.2h0.1M213.3 908.5h0.3M202.6 878.5h0.2M186.6 893.3h0.1M229.7 878.3h0.4M186.2 890.9h0.7M239.5 942.3h0.3M211.2 906.3h0.1M203.1 918.4h0.4M227.6 907.3h0.3M235.0 915.6h0.2M235.6 909.5h0.5M206.2 935.1h0.7M204.5 901.8h0.7M231.1 917.8h0.8M210.2 905.2h0.3M192.8 887.5h0.8M211.9 882.8h0.2M203.2 931.5h0.8M225.9 896.9h0.4M238.6 903.3h0.6M178.0 909.5h0.5M236.0 942.0h0.7M197.0 936.0h0.8M179.7 905.8h0.5M195.2 893.4h0.7M188.7 914.5h0.0M205.8 942.2h0.0M181.9 937.9h0.8M208.7 897.1h0.3M224.1 916.3h0.4M221.3 883.9h0.4M233.9 938.7h0.4M227.4 936.8h0.5M184.2 884.2h0.6M197.6 912.7h0.0M238.6 895.9h0.6M216.6 901.2h0.2M212.5 899.2h0.1M186.5 879.8h0.8M188.3 939.2h0.6M239.2 908.9h0.2M180.3 919.1h0.6M220.4 938.5h0.1M218.2 924.6h0.8M191.5 940.0h0.0M214.4 899.3h0.5M186.4 903.1h0.3M205.9 904.5h0.2M186.0 908.7h0.9M231.9 887.3h0.6M184.5 899.1h0.9M197.5 884.1h0.5M214.2 911.6h0.9M209.2 901.7h0.2M213.8 927.4h0.5M201.0 894.1h0.8M241.5 916.6h0.6M196.5 887.8h0.1M216.3 939.0h0.6M220.0 935.1h0.4M203.5 894.8h0.7M221.2 912.5h0.7M236.2 880.3h0.2M206.2 925.3h0.2M204.5 921.9h0.3M219.8 881.3h0.4M217.7 935.4h0.5M219.5 921.9h0.6M205.1 898.6h0.1M234.5 929.5h0.6M225.4 898.4h0.2M210.5 908.7h0.6M233.5 903.6h0.3M222.2 936.7h0.5M214.7 937.3h0.8M177.6 942.8h0.1M211.8 910.9h0.9M190.4 880.2h0.9M205.4 908.1h0.4M193.3 879.2h0.5M189.2 910.9h0.9M241.0 898.0h0.3M182.8 918.1h0.2M183.1 938.9h0.5M234.7 891.7h0.2M213.6 923.8h0.2M208.5 915.1h0.4M195.8 907.3h0.1M181.2 881.2h0.8M191.4 922.7h0.1M234.3 879.1h0.7M210.5 938.4h0.8M175.4 880.6h0.2M177.6 935.5h0.1M220.2 940.9h0.6M241.8 920.9h0.3M240.3 891.8h0.5M202.6 913.9h0.3M239.4 944.0h0.6M208.2 941.3h0.9M177.9 936.9h0.1M180.9 894.3h0.3M207.3 941.5h0.1M218.2 911.1h0.1M241.8 938.9h0.3M233.3 907.6h0.6M237.2 920.3h0.3M178.1 908.6h0.5M193.0 916.1h0.0M191.7 909.7h0.4M222.3 892.8h0.3M224.1 896.3h0.1M216.6 900.8h0.5M240.0 942.6h0.7M240.3 930.6h0.3M237.6 885.7h0.2M208.7 885.5h0.5M211.4 891.3h0.7M180.2 910.1h0.2M237.9 886.9h0.3M222.8 897.6h0.7M182.2 882.3h0.0M212.1 909.5h0.5M206.5 936.3h0.2M184.5 893.9h0.7M229.4 884.8h0.0M241.4 942.5h0.2M210.5 880.4h0.5M186.2 923.2h0.1M212.7 899.4h0.4M238.7 912.5h0.9M223.2 892.5h0.2M229.8 929.6h0.1M229.3 897.3h0.5M234.8 939.1h0.2M184.2 895.2h0.5M239.7 921.2h0.7M230.1 909.2h0.3M228.5 919.0h0.8M241.9 908.6h0.3M183.3 916.6h0.3M195.9 911.3h0.7M220.6 908.2h0.6M217.0 938.8h0.6M231.9 893.4h0.8M175.0 932.1h0.0M215.7 895.7h0.1M224.7 886.4h0.6M180.2 891.2h0.4M213.1 921.6h0.3M233.1 879.1h0.2M201.1 918.4h0.6M234.5 900.8h0.6M221.2 888.0h0.3M204.5 917.6h0.5M183.9 890.9h0.3M180.5 929.2h0.8M224.1 892.0h0.5M176.8 891.4h0.2" stroke="#1515d0" stroke-width="1.7" stroke-linecap="round" fill="none"/>
<path d="M215.0 916.5h0.5M185.4 911.1h0.7M233.5 902.1h0.4M233.4 880.2h0.5M181.5 931.4h0.6M179.4 880.1h0.8M195.3 916.4h0.5M200.4 883.9h0.7M197.2 906.0h0.7M237.9 896.5h0.3M226.9 907.5h0.8M199.8 880.8h0.3M235.2 916.2h0.9M230.1 923.1h0.2M202.6 878.6h0.3M189.3 940.4h0.1M197.9 878.8h0.1M221.6 904.4h0.5M230.0 924.1h0.2M225.0 923.3h0.5M208.4 938.9h0.5M178.7 933.8h0.6M192.6 929.3h0.8M224.1 909.3h0.7M180.1 880.7h0.4M209.6 920.5h0.6M209.6 902.3h0.7M212.3 891.2h0.5M205.5 930.7h0.6M241.1 928.7h0.5M219.8 897.0h0.5M241.5 885.3h0.4M203.7 925.4h0.2M220.7 884.8h0.9M180.1 920.7h0.7M212.0 895.3h0.3M234.9 908.1h0.5M239.1 909.8h0.7M215.1 933.1h0.6M183.7 892.5h0.2M189.5 917.1h0.4M199.3 878.6h0.9M207.4 891.3h0.6M180.8 887.0h0.8M219.6 901.4h0.1M223.6 893.5h0.3M193.5 919.7h0.2M178.3 934.4h0.5M183.1 881.5h0.8M209.0 914.2h0.8M176.2 884.4h0.2M221.8 884.8h0.5M228.2 904.3h0.6M177.5 909.7h0.3M220.2 903.7h0.6M235.3 940.0h0.7M222.3 942.1h0.4M176.0 931.4h0.3M197.2 941.1h0.4M183.6 938.2h0.0M178.1 924.4h0.2M223.3 877.4h0.3M201.3 919.5h0.7M220.3 890.3h0.8M178.2 906.8h0.0M226.5 909.0h0.4M237.8 893.5h0.6M221.7 882.0h0.7M197.6 926.5h0.7M197.2 903.8h0.4M181.4 915.4h0.7M239.4 907.1h0.5M217.8 928.6h0.6M239.2 933.9h0.9M204.5 914.1h0.2M209.2 911.7h0.3M237.6 936.4h0.7M194.8 916.3h0.8M201.0 916.7h0.2M238.1 915.8h0.4M232.6 895.5h0.5M202.2 937.7h0.5M238.4 932.6h0.1M214.2 910.3h0.1M233.8 932.3h0.9M207.6 886.9h0.6M231.2 895.5h0.7M207.1 903.3h0.9M221.8 942.6h0.7M230.5 891.5h0.7" stroke="#2626ff" stroke-width="1.5" stroke-linecap="round" fill="none"/>
<path d="M182.1 928.4h0.3M220.7 904.4h0.3M213.7 941.2h0.3M220.4 897.6h0.3M238.7 929.3h0.3M195.4 905.5h0.3M198.2 907.2h0.3M230.5 903.1h0.3M237.4 898.3h0.3M198.8 897.4h0.3M227.2 885.4h0.3M185.9 931.2h0.3M224.4 888.2h0.3M203.3 882.1h0.3M231.0 935.6h0.3M178.2 929.5h0.3M191.8 942.5h0.3M185.6 940.0h0.3M194.9 914.5h0.3M211.6 930.2h0.3M198.7 929.3h0.3M228.0 921.3h0.3M179.0 907.6h0.3M190.0 943.3h0.3M203.1 935.9h0.3M203.0 895.1h0.3M188.1 925.1h0.3M182.2 909.3h0.3M210.3 940.6h0.3M230.2 882.8h0.3M199.0 906.2h0.3M226.4 885.0h0.3M221.0 897.2h0.3M215.3 901.9h0.3M186.8 934.0h0.3M230.6 901.7h0.3M199.9 892.0h0.3M198.5 905.3h0.3M183.5 938.3h0.3M204.8 895.0h0.3M192.7 888.7h0.3M206.6 905.3h0.3M227.6 899.4h0.3M189.7 889.3h0.3M222.0 888.6h0.3" stroke="#1a7a1a" stroke-width="1.2" stroke-linecap="round" fill="none"/>
<path d="M186.3 884.5h0.4M197.7 926.4h0.3M230.2 894.6h0.3M225.6 934.3h0.6M219.8 910.3h0.3M235.5 900.4h0.3M220.2 913.7h0.7M197.6 931.6h0.6M185.3 937.2h0.6M235.6 912.5h0.7M210.6 936.2h0.6M189.1 935.3h0.1" stroke="#30d030" stroke-width="1.5" stroke-linecap="round" fill="none"/>
<path d="M208.9 901.0h0.4M194.7 898.5h0.6M201.9 911.9h0.1M186.8 923.0h0.3" stroke="#e8d030" stroke-width="1.5" stroke-linecap="round" fill="none"/>
<path d="M212.6 936.9h0.1M193.1 932.7h0.5M227.6 888.8h0.3M230.7 940.6h0.6" stroke="#e04040" stroke-width="1.5" stroke-linecap="round" fill="none"/>
</g>
<line x1="90.20" y1="941.60" x2="104.30" y2="941.60" stroke="#fff" stroke-width="2" />
<line x1="157.30" y1="941.60" x2="171.10" y2="941.60" stroke="#fff" stroke-width="2" />
<line x1="225.90" y1="941.60" x2="239.70" y2="941.60" stroke="#fff" stroke-width="2" />
<text x="233.30" y="938.09" font-size="5.0" text-anchor="middle" fill="#fff">50μm</text>
<text x="75.90" y="953.64" font-size="9.6" text-anchor="middle">MC38<tspan font-size="6.34" dy="-3.65">KO</tspan><tspan dy="3.65">&#8203;</tspan></text>
<text x="143.80" y="953.64" font-size="9.6" text-anchor="middle">MC38<tspan font-size="6.34" dy="-3.65">WT</tspan><tspan dy="3.65">&#8203;</tspan></text>
<text x="218.70" y="953.64" font-size="9.6" text-anchor="middle">MC38<tspan font-size="6.34" dy="-3.65">C278A</tspan><tspan dy="3.65">&#8203;</tspan></text>
<text x="33.40" y="888.72" font-size="7.6" text-anchor="middle" fill="#2020ff" transform="rotate(-90 33.40 886.00)">DAPI</text>
<text x="33.40" y="915.92" font-size="7.6" text-anchor="middle" fill="#22cc22" transform="rotate(-90 33.40 913.20)">CD45</text>
<text x="33.40" y="939.52" font-size="7.6" text-anchor="middle" fill="#ff2020" transform="rotate(-90 33.40 936.80)">CD8</text>
</svg></body></html>
